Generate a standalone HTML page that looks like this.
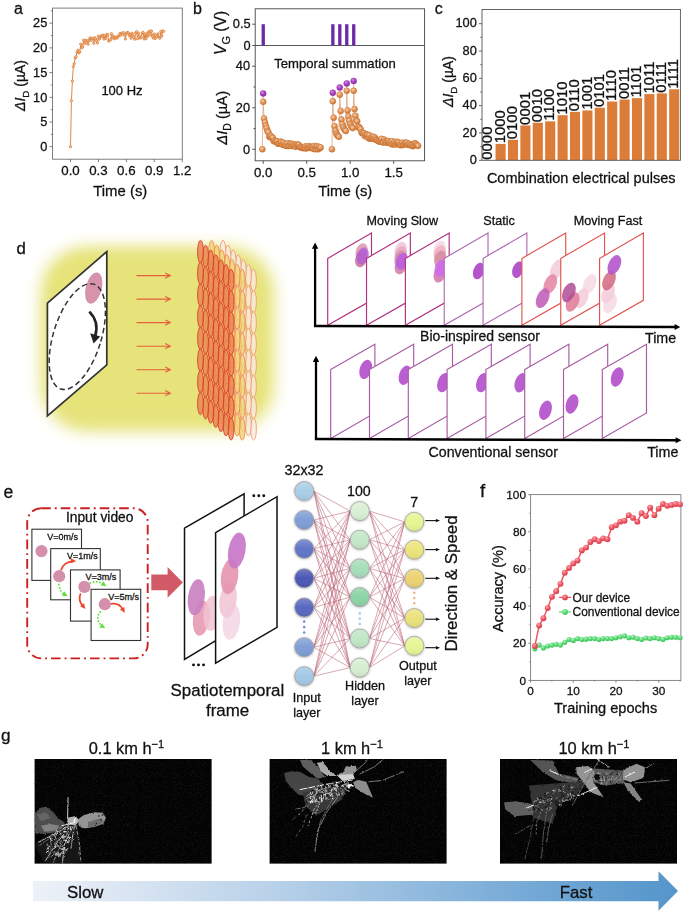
<!DOCTYPE html>
<html><head><meta charset="utf-8"><title>Figure</title>
<style>html,body{margin:0;padding:0;background:#fff;}svg{display:block;opacity:0.999;font-family:"Liberation Sans",sans-serif;}svg text{stroke:#111;stroke-width:0.28px;}</style>
</head><body>
<svg width="685" height="912" viewBox="0 0 685 912" font-family="'Liberation Sans', sans-serif">
<defs>
<radialGradient id="gOr" cx="0.38" cy="0.32" r="0.7"><stop offset="0" stop-color="#f7cfae"/><stop offset="0.5" stop-color="#e49a60"/><stop offset="1" stop-color="#cc732f"/></radialGradient>
<radialGradient id="gPu" cx="0.38" cy="0.32" r="0.7"><stop offset="0" stop-color="#d88ae6"/><stop offset="0.55" stop-color="#a83cc0"/><stop offset="1" stop-color="#8a2aa3"/></radialGradient>
<radialGradient id="gRe" cx="0.38" cy="0.32" r="0.7"><stop offset="0" stop-color="#f9a8ad"/><stop offset="0.55" stop-color="#ee5663"/><stop offset="1" stop-color="#d63c4b"/></radialGradient>
<radialGradient id="gGr" cx="0.38" cy="0.32" r="0.7"><stop offset="0" stop-color="#b4f5bf"/><stop offset="0.55" stop-color="#57d873"/><stop offset="1" stop-color="#3fc05c"/></radialGradient>
<filter id="blur8" x="-20%" y="-20%" width="140%" height="140%"><feGaussianBlur stdDeviation="8"/></filter>
<filter id="blur1" x="-20%" y="-20%" width="140%" height="140%"><feGaussianBlur stdDeviation="0.8"/></filter>
<linearGradient id="gArrow" x1="0" x2="1" y1="0" y2="0"><stop offset="0" stop-color="#eef2f8"/><stop offset="0.35" stop-color="#bcd3ea"/><stop offset="0.75" stop-color="#78abd7"/><stop offset="1" stop-color="#5495ca"/></linearGradient>
</defs>
<g id="pa"><text x="18.5" y="14" font-size="16" text-anchor="middle" fill="#111111" >a</text>
<line x1="49.5" x2="52.5" y1="146.7" y2="146.7" stroke="#707070" stroke-width="0.9"/>
<text x="47.3" y="150.9" font-size="12.8" text-anchor="end" fill="#111111" >0</text>
<line x1="49.5" x2="52.5" y1="122" y2="122" stroke="#707070" stroke-width="0.9"/>
<text x="47.3" y="126.2" font-size="12.8" text-anchor="end" fill="#111111" >5</text>
<line x1="49.5" x2="52.5" y1="97.3" y2="97.3" stroke="#707070" stroke-width="0.9"/>
<text x="47.3" y="101.5" font-size="12.8" text-anchor="end" fill="#111111" >10</text>
<line x1="49.5" x2="52.5" y1="72.6" y2="72.6" stroke="#707070" stroke-width="0.9"/>
<text x="47.3" y="76.8" font-size="12.8" text-anchor="end" fill="#111111" >15</text>
<line x1="49.5" x2="52.5" y1="47.9" y2="47.9" stroke="#707070" stroke-width="0.9"/>
<text x="47.3" y="52.1" font-size="12.8" text-anchor="end" fill="#111111" >20</text>
<line x1="49.5" x2="52.5" y1="23.2" y2="23.2" stroke="#707070" stroke-width="0.9"/>
<text x="47.3" y="27.4" font-size="12.8" text-anchor="end" fill="#111111" >25</text>
<line x1="50.8" x2="52.5" y1="134.35" y2="134.35" stroke="#707070" stroke-width="0.9"/>
<line x1="50.8" x2="52.5" y1="109.65" y2="109.65" stroke="#707070" stroke-width="0.9"/>
<line x1="50.8" x2="52.5" y1="84.95" y2="84.95" stroke="#707070" stroke-width="0.9"/>
<line x1="50.8" x2="52.5" y1="60.25" y2="60.25" stroke="#707070" stroke-width="0.9"/>
<line x1="50.8" x2="52.5" y1="35.55" y2="35.55" stroke="#707070" stroke-width="0.9"/>
<line x1="50.8" x2="52.5" y1="10.85" y2="10.85" stroke="#707070" stroke-width="0.9"/>
<line x1="70.5" x2="70.5" y1="159.2" y2="162.2" stroke="#707070" stroke-width="0.9"/>
<text x="70.5" y="175" font-size="13.3" text-anchor="middle" fill="#111111" >0.0</text>
<line x1="98.43" x2="98.43" y1="159.2" y2="162.2" stroke="#707070" stroke-width="0.9"/>
<text x="98.43" y="175" font-size="13.3" text-anchor="middle" fill="#111111" >0.3</text>
<line x1="126.36" x2="126.36" y1="159.2" y2="162.2" stroke="#707070" stroke-width="0.9"/>
<text x="126.36" y="175" font-size="13.3" text-anchor="middle" fill="#111111" >0.6</text>
<line x1="154.29" x2="154.29" y1="159.2" y2="162.2" stroke="#707070" stroke-width="0.9"/>
<text x="154.29" y="175" font-size="13.3" text-anchor="middle" fill="#111111" >0.9</text>
<line x1="182.22" x2="182.22" y1="159.2" y2="162.2" stroke="#707070" stroke-width="0.9"/>
<text x="182.22" y="175" font-size="13.3" text-anchor="middle" fill="#111111" >1.2</text>
<rect x="52.5" y="8.1" width="129.8" height="151.1" fill="none" stroke="#707070" stroke-width="0.9"/>
<text x="120.3" y="196.1" font-size="14.9" text-anchor="middle" fill="#111111" >Time (s)</text>
<text x="25.4" y="85.5" font-size="14" text-anchor="middle" fill="#111111" transform="rotate(-90 25.4 85.5)" ><tspan font-style="italic">ΔI</tspan><tspan font-size="70%" dy="3.8">D</tspan><tspan dy="-3.8"> (µA)</tspan></text>
<text x="122" y="95.3" font-size="13" text-anchor="middle" fill="#111111" >100 Hz</text>
<polyline fill="none" stroke="#dd7b34" stroke-width="0.9" points="70.5,146.7 71.43,100.76 72.36,81 73.29,66.67 74.22,63.78 75.16,58.02 76.09,56.58 77.02,52.36 77.95,50.18 78.88,52.91 79.81,51.88 80.74,44.14 81.67,47.66 82.6,46.96 83.53,40.17 84.47,43.65 85.4,40.18 86.33,42.52 87.26,40.79 88.19,44.25 89.12,40.08 90.05,37.93 90.98,40.37 91.91,38.39 92.84,38.72 93.78,43.31 94.71,37.62 95.64,38.76 96.57,40.88 97.5,42.86 98.43,36.12 99.36,39.08 100.29,37 101.22,35.61 102.15,36.78 103.08,35.03 104.02,39.07 104.95,35.75 105.88,38.46 106.81,34.48 107.74,34.83 108.67,40.9 109.6,40.51 110.53,39.77 111.46,33.77 112.39,37.86 113.33,36.27 114.26,38.76 115.19,37.05 116.12,37.92 117.05,38.12 117.98,36.19 118.91,36.13 119.84,33.52 120.77,35.21 121.7,33.18 122.64,33.69 123.57,32.56 124.5,35.02 125.43,38.97 126.36,33.39 127.29,32.51 128.22,32.92 129.15,35.51 130.08,34.31 131.01,38.22 131.95,33.26 132.88,35.25 133.81,37.47 134.74,39.17 135.67,32.87 136.6,31.74 137.53,38.82 138.46,33.14 139.39,36.18 140.32,38.18 141.26,37 142.19,33.2 143.12,32.34 144.05,38.84 144.98,34.29 145.91,38.75 146.84,33.39 147.77,36.41 148.7,32.02 149.63,31.2 150.57,34.92 151.5,30.98 152.43,36.39 153.36,38.19 154.29,34.03 155.22,38.48 156.15,37.14 157.08,35.44 158.01,33.81 158.94,37.37 159.88,38.23 160.81,31.68 161.74,36.03 162.67,30.9 163.6,31.36"/>
<circle cx="70.5" cy="146.7" r="1.15" fill="#f1c9a4" stroke="#dd7b34" stroke-width="0.8"/>
<circle cx="71.43" cy="100.76" r="1.15" fill="#f1c9a4" stroke="#dd7b34" stroke-width="0.8"/>
<circle cx="72.36" cy="81" r="1.15" fill="#f1c9a4" stroke="#dd7b34" stroke-width="0.8"/>
<circle cx="73.29" cy="66.67" r="1.15" fill="#f1c9a4" stroke="#dd7b34" stroke-width="0.8"/>
<circle cx="74.22" cy="63.78" r="1.15" fill="#f1c9a4" stroke="#dd7b34" stroke-width="0.8"/>
<circle cx="75.16" cy="58.02" r="1.15" fill="#f1c9a4" stroke="#dd7b34" stroke-width="0.8"/>
<circle cx="76.09" cy="56.58" r="1.15" fill="#f1c9a4" stroke="#dd7b34" stroke-width="0.8"/>
<circle cx="77.02" cy="52.36" r="1.15" fill="#f1c9a4" stroke="#dd7b34" stroke-width="0.8"/>
<circle cx="77.95" cy="50.18" r="1.15" fill="#f1c9a4" stroke="#dd7b34" stroke-width="0.8"/>
<circle cx="78.88" cy="52.91" r="1.15" fill="#f1c9a4" stroke="#dd7b34" stroke-width="0.8"/>
<circle cx="79.81" cy="51.88" r="1.15" fill="#f1c9a4" stroke="#dd7b34" stroke-width="0.8"/>
<circle cx="80.74" cy="44.14" r="1.15" fill="#f1c9a4" stroke="#dd7b34" stroke-width="0.8"/>
<circle cx="81.67" cy="47.66" r="1.15" fill="#f1c9a4" stroke="#dd7b34" stroke-width="0.8"/>
<circle cx="82.6" cy="46.96" r="1.15" fill="#f1c9a4" stroke="#dd7b34" stroke-width="0.8"/>
<circle cx="83.53" cy="40.17" r="1.15" fill="#f1c9a4" stroke="#dd7b34" stroke-width="0.8"/>
<circle cx="84.47" cy="43.65" r="1.15" fill="#f1c9a4" stroke="#dd7b34" stroke-width="0.8"/>
<circle cx="85.4" cy="40.18" r="1.15" fill="#f1c9a4" stroke="#dd7b34" stroke-width="0.8"/>
<circle cx="86.33" cy="42.52" r="1.15" fill="#f1c9a4" stroke="#dd7b34" stroke-width="0.8"/>
<circle cx="87.26" cy="40.79" r="1.15" fill="#f1c9a4" stroke="#dd7b34" stroke-width="0.8"/>
<circle cx="88.19" cy="44.25" r="1.15" fill="#f1c9a4" stroke="#dd7b34" stroke-width="0.8"/>
<circle cx="89.12" cy="40.08" r="1.15" fill="#f1c9a4" stroke="#dd7b34" stroke-width="0.8"/>
<circle cx="90.05" cy="37.93" r="1.15" fill="#f1c9a4" stroke="#dd7b34" stroke-width="0.8"/>
<circle cx="90.98" cy="40.37" r="1.15" fill="#f1c9a4" stroke="#dd7b34" stroke-width="0.8"/>
<circle cx="91.91" cy="38.39" r="1.15" fill="#f1c9a4" stroke="#dd7b34" stroke-width="0.8"/>
<circle cx="92.84" cy="38.72" r="1.15" fill="#f1c9a4" stroke="#dd7b34" stroke-width="0.8"/>
<circle cx="93.78" cy="43.31" r="1.15" fill="#f1c9a4" stroke="#dd7b34" stroke-width="0.8"/>
<circle cx="94.71" cy="37.62" r="1.15" fill="#f1c9a4" stroke="#dd7b34" stroke-width="0.8"/>
<circle cx="95.64" cy="38.76" r="1.15" fill="#f1c9a4" stroke="#dd7b34" stroke-width="0.8"/>
<circle cx="96.57" cy="40.88" r="1.15" fill="#f1c9a4" stroke="#dd7b34" stroke-width="0.8"/>
<circle cx="97.5" cy="42.86" r="1.15" fill="#f1c9a4" stroke="#dd7b34" stroke-width="0.8"/>
<circle cx="98.43" cy="36.12" r="1.15" fill="#f1c9a4" stroke="#dd7b34" stroke-width="0.8"/>
<circle cx="99.36" cy="39.08" r="1.15" fill="#f1c9a4" stroke="#dd7b34" stroke-width="0.8"/>
<circle cx="100.29" cy="37" r="1.15" fill="#f1c9a4" stroke="#dd7b34" stroke-width="0.8"/>
<circle cx="101.22" cy="35.61" r="1.15" fill="#f1c9a4" stroke="#dd7b34" stroke-width="0.8"/>
<circle cx="102.15" cy="36.78" r="1.15" fill="#f1c9a4" stroke="#dd7b34" stroke-width="0.8"/>
<circle cx="103.08" cy="35.03" r="1.15" fill="#f1c9a4" stroke="#dd7b34" stroke-width="0.8"/>
<circle cx="104.02" cy="39.07" r="1.15" fill="#f1c9a4" stroke="#dd7b34" stroke-width="0.8"/>
<circle cx="104.95" cy="35.75" r="1.15" fill="#f1c9a4" stroke="#dd7b34" stroke-width="0.8"/>
<circle cx="105.88" cy="38.46" r="1.15" fill="#f1c9a4" stroke="#dd7b34" stroke-width="0.8"/>
<circle cx="106.81" cy="34.48" r="1.15" fill="#f1c9a4" stroke="#dd7b34" stroke-width="0.8"/>
<circle cx="107.74" cy="34.83" r="1.15" fill="#f1c9a4" stroke="#dd7b34" stroke-width="0.8"/>
<circle cx="108.67" cy="40.9" r="1.15" fill="#f1c9a4" stroke="#dd7b34" stroke-width="0.8"/>
<circle cx="109.6" cy="40.51" r="1.15" fill="#f1c9a4" stroke="#dd7b34" stroke-width="0.8"/>
<circle cx="110.53" cy="39.77" r="1.15" fill="#f1c9a4" stroke="#dd7b34" stroke-width="0.8"/>
<circle cx="111.46" cy="33.77" r="1.15" fill="#f1c9a4" stroke="#dd7b34" stroke-width="0.8"/>
<circle cx="112.39" cy="37.86" r="1.15" fill="#f1c9a4" stroke="#dd7b34" stroke-width="0.8"/>
<circle cx="113.33" cy="36.27" r="1.15" fill="#f1c9a4" stroke="#dd7b34" stroke-width="0.8"/>
<circle cx="114.26" cy="38.76" r="1.15" fill="#f1c9a4" stroke="#dd7b34" stroke-width="0.8"/>
<circle cx="115.19" cy="37.05" r="1.15" fill="#f1c9a4" stroke="#dd7b34" stroke-width="0.8"/>
<circle cx="116.12" cy="37.92" r="1.15" fill="#f1c9a4" stroke="#dd7b34" stroke-width="0.8"/>
<circle cx="117.05" cy="38.12" r="1.15" fill="#f1c9a4" stroke="#dd7b34" stroke-width="0.8"/>
<circle cx="117.98" cy="36.19" r="1.15" fill="#f1c9a4" stroke="#dd7b34" stroke-width="0.8"/>
<circle cx="118.91" cy="36.13" r="1.15" fill="#f1c9a4" stroke="#dd7b34" stroke-width="0.8"/>
<circle cx="119.84" cy="33.52" r="1.15" fill="#f1c9a4" stroke="#dd7b34" stroke-width="0.8"/>
<circle cx="120.77" cy="35.21" r="1.15" fill="#f1c9a4" stroke="#dd7b34" stroke-width="0.8"/>
<circle cx="121.7" cy="33.18" r="1.15" fill="#f1c9a4" stroke="#dd7b34" stroke-width="0.8"/>
<circle cx="122.64" cy="33.69" r="1.15" fill="#f1c9a4" stroke="#dd7b34" stroke-width="0.8"/>
<circle cx="123.57" cy="32.56" r="1.15" fill="#f1c9a4" stroke="#dd7b34" stroke-width="0.8"/>
<circle cx="124.5" cy="35.02" r="1.15" fill="#f1c9a4" stroke="#dd7b34" stroke-width="0.8"/>
<circle cx="125.43" cy="38.97" r="1.15" fill="#f1c9a4" stroke="#dd7b34" stroke-width="0.8"/>
<circle cx="126.36" cy="33.39" r="1.15" fill="#f1c9a4" stroke="#dd7b34" stroke-width="0.8"/>
<circle cx="127.29" cy="32.51" r="1.15" fill="#f1c9a4" stroke="#dd7b34" stroke-width="0.8"/>
<circle cx="128.22" cy="32.92" r="1.15" fill="#f1c9a4" stroke="#dd7b34" stroke-width="0.8"/>
<circle cx="129.15" cy="35.51" r="1.15" fill="#f1c9a4" stroke="#dd7b34" stroke-width="0.8"/>
<circle cx="130.08" cy="34.31" r="1.15" fill="#f1c9a4" stroke="#dd7b34" stroke-width="0.8"/>
<circle cx="131.01" cy="38.22" r="1.15" fill="#f1c9a4" stroke="#dd7b34" stroke-width="0.8"/>
<circle cx="131.95" cy="33.26" r="1.15" fill="#f1c9a4" stroke="#dd7b34" stroke-width="0.8"/>
<circle cx="132.88" cy="35.25" r="1.15" fill="#f1c9a4" stroke="#dd7b34" stroke-width="0.8"/>
<circle cx="133.81" cy="37.47" r="1.15" fill="#f1c9a4" stroke="#dd7b34" stroke-width="0.8"/>
<circle cx="134.74" cy="39.17" r="1.15" fill="#f1c9a4" stroke="#dd7b34" stroke-width="0.8"/>
<circle cx="135.67" cy="32.87" r="1.15" fill="#f1c9a4" stroke="#dd7b34" stroke-width="0.8"/>
<circle cx="136.6" cy="31.74" r="1.15" fill="#f1c9a4" stroke="#dd7b34" stroke-width="0.8"/>
<circle cx="137.53" cy="38.82" r="1.15" fill="#f1c9a4" stroke="#dd7b34" stroke-width="0.8"/>
<circle cx="138.46" cy="33.14" r="1.15" fill="#f1c9a4" stroke="#dd7b34" stroke-width="0.8"/>
<circle cx="139.39" cy="36.18" r="1.15" fill="#f1c9a4" stroke="#dd7b34" stroke-width="0.8"/>
<circle cx="140.32" cy="38.18" r="1.15" fill="#f1c9a4" stroke="#dd7b34" stroke-width="0.8"/>
<circle cx="141.26" cy="37" r="1.15" fill="#f1c9a4" stroke="#dd7b34" stroke-width="0.8"/>
<circle cx="142.19" cy="33.2" r="1.15" fill="#f1c9a4" stroke="#dd7b34" stroke-width="0.8"/>
<circle cx="143.12" cy="32.34" r="1.15" fill="#f1c9a4" stroke="#dd7b34" stroke-width="0.8"/>
<circle cx="144.05" cy="38.84" r="1.15" fill="#f1c9a4" stroke="#dd7b34" stroke-width="0.8"/>
<circle cx="144.98" cy="34.29" r="1.15" fill="#f1c9a4" stroke="#dd7b34" stroke-width="0.8"/>
<circle cx="145.91" cy="38.75" r="1.15" fill="#f1c9a4" stroke="#dd7b34" stroke-width="0.8"/>
<circle cx="146.84" cy="33.39" r="1.15" fill="#f1c9a4" stroke="#dd7b34" stroke-width="0.8"/>
<circle cx="147.77" cy="36.41" r="1.15" fill="#f1c9a4" stroke="#dd7b34" stroke-width="0.8"/>
<circle cx="148.7" cy="32.02" r="1.15" fill="#f1c9a4" stroke="#dd7b34" stroke-width="0.8"/>
<circle cx="149.63" cy="31.2" r="1.15" fill="#f1c9a4" stroke="#dd7b34" stroke-width="0.8"/>
<circle cx="150.57" cy="34.92" r="1.15" fill="#f1c9a4" stroke="#dd7b34" stroke-width="0.8"/>
<circle cx="151.5" cy="30.98" r="1.15" fill="#f1c9a4" stroke="#dd7b34" stroke-width="0.8"/>
<circle cx="152.43" cy="36.39" r="1.15" fill="#f1c9a4" stroke="#dd7b34" stroke-width="0.8"/>
<circle cx="153.36" cy="38.19" r="1.15" fill="#f1c9a4" stroke="#dd7b34" stroke-width="0.8"/>
<circle cx="154.29" cy="34.03" r="1.15" fill="#f1c9a4" stroke="#dd7b34" stroke-width="0.8"/>
<circle cx="155.22" cy="38.48" r="1.15" fill="#f1c9a4" stroke="#dd7b34" stroke-width="0.8"/>
<circle cx="156.15" cy="37.14" r="1.15" fill="#f1c9a4" stroke="#dd7b34" stroke-width="0.8"/>
<circle cx="157.08" cy="35.44" r="1.15" fill="#f1c9a4" stroke="#dd7b34" stroke-width="0.8"/>
<circle cx="158.01" cy="33.81" r="1.15" fill="#f1c9a4" stroke="#dd7b34" stroke-width="0.8"/>
<circle cx="158.94" cy="37.37" r="1.15" fill="#f1c9a4" stroke="#dd7b34" stroke-width="0.8"/>
<circle cx="159.88" cy="38.23" r="1.15" fill="#f1c9a4" stroke="#dd7b34" stroke-width="0.8"/>
<circle cx="160.81" cy="31.68" r="1.15" fill="#f1c9a4" stroke="#dd7b34" stroke-width="0.8"/>
<circle cx="161.74" cy="36.03" r="1.15" fill="#f1c9a4" stroke="#dd7b34" stroke-width="0.8"/>
<circle cx="162.67" cy="30.9" r="1.15" fill="#f1c9a4" stroke="#dd7b34" stroke-width="0.8"/>
<circle cx="163.6" cy="31.36" r="1.15" fill="#f1c9a4" stroke="#dd7b34" stroke-width="0.8"/></g>
<g id="pb"><text x="197.5" y="14" font-size="16" text-anchor="middle" fill="#111111" >b</text>
<rect x="255.2" y="8.8" width="169.4" height="152" fill="none" stroke="#444444" stroke-width="0.9"/>
<line x1="255.2" x2="424.6" y1="45.5" y2="45.5" stroke="#444444" stroke-width="0.9"/>
<line x1="252.2" x2="255.2" y1="24.2" y2="24.2" stroke="#444444" stroke-width="0.9"/>
<text x="250.6" y="28.4" font-size="12.8" text-anchor="end" fill="#111111" >0.5</text>
<line x1="252.2" x2="255.2" y1="45.5" y2="45.5" stroke="#444444" stroke-width="0.9"/>
<text x="250.6" y="49.7" font-size="12.8" text-anchor="end" fill="#111111" >0</text>
<line x1="252.2" x2="255.2" y1="149.3" y2="149.3" stroke="#444444" stroke-width="0.9"/>
<text x="250" y="153.5" font-size="12.8" text-anchor="end" fill="#111111" >0</text>
<line x1="252.2" x2="255.2" y1="107.76" y2="107.76" stroke="#444444" stroke-width="0.9"/>
<text x="250" y="111.96" font-size="12.8" text-anchor="end" fill="#111111" >20</text>
<line x1="252.2" x2="255.2" y1="66.22" y2="66.22" stroke="#444444" stroke-width="0.9"/>
<text x="250" y="70.42" font-size="12.8" text-anchor="end" fill="#111111" >40</text>
<line x1="253.5" x2="255.2" y1="128.53" y2="128.53" stroke="#444444" stroke-width="0.9"/>
<line x1="253.5" x2="255.2" y1="86.99" y2="86.99" stroke="#444444" stroke-width="0.9"/>
<line x1="263.2" x2="263.2" y1="160.8" y2="163.8" stroke="#444444" stroke-width="0.9"/>
<text x="263.2" y="176.6" font-size="13.3" text-anchor="middle" fill="#111111" >0.0</text>
<line x1="306.7" x2="306.7" y1="160.8" y2="163.8" stroke="#444444" stroke-width="0.9"/>
<text x="306.7" y="176.6" font-size="13.3" text-anchor="middle" fill="#111111" >0.5</text>
<line x1="350.2" x2="350.2" y1="160.8" y2="163.8" stroke="#444444" stroke-width="0.9"/>
<text x="350.2" y="176.6" font-size="13.3" text-anchor="middle" fill="#111111" >1.0</text>
<line x1="393.7" x2="393.7" y1="160.8" y2="163.8" stroke="#444444" stroke-width="0.9"/>
<text x="393.7" y="176.6" font-size="13.3" text-anchor="middle" fill="#111111" >1.5</text>
<text x="345.3" y="195.8" font-size="14.9" text-anchor="middle" fill="#111111" >Time (s)</text>
<text x="226.5" y="32.9" font-size="15.6" text-anchor="middle" fill="#111111" transform="rotate(-90 226.5 32.9)" ><tspan font-style="italic">V</tspan><tspan font-size="70%" dy="3.8">G</tspan><tspan dy="-3.8"> (V)</tspan></text>
<text x="227.2" y="117.8" font-size="14.8" text-anchor="middle" fill="#111111" transform="rotate(-90 227.2 117.8)" ><tspan font-style="italic">ΔI</tspan><tspan font-size="70%" dy="3.8">D</tspan><tspan dy="-3.8"> (µA)</tspan></text>
<text x="335" y="68.4" font-size="13.1" text-anchor="middle" fill="#111111" >Temporal summation</text>
<rect x="261.6" y="24.2" width="3.3" height="21.3" fill="#6d2aa8"/>
<rect x="331.2" y="24.2" width="3.3" height="21.3" fill="#6d2aa8"/>
<rect x="338.16" y="24.2" width="3.3" height="21.3" fill="#6d2aa8"/>
<rect x="345.12" y="24.2" width="3.3" height="21.3" fill="#6d2aa8"/>
<rect x="352.08" y="24.2" width="3.3" height="21.3" fill="#6d2aa8"/>
<polyline fill="none" stroke="#e0a57c" stroke-width="0.8" points="262.33,149.3 263.2,101.74 264.07,118.5 264.94,122.51 265.81,125.85 266.68,128.18 267.55,131.13 268.42,132.37 269.29,136.85 270.16,136.65 271.03,136.1 271.9,137.95 272.77,137.86 273.64,141.11 274.51,140.48 275.38,141.71 276.25,141.15 277.12,141.44 277.99,143.66 278.86,143.3 279.73,143.38 280.6,141.54 281.47,142.29 282.34,144.55 283.21,142.65 284.08,145.05 284.95,143.66 285.82,145.48 286.69,146.07 287.56,143.36 288.43,145.72 289.3,145.86 290.17,143.46 291.04,143.97 291.91,146.04 292.78,143.94 293.65,145.47 294.52,145.13 295.39,146.82 296.26,144.48 297.13,145.42 298,144.61 298.87,144.95 299.74,147.02 300.61,146.91 301.48,147.64 302.35,147.79 303.22,148.14 304.09,147.44 304.96,146.51 305.83,148.57 306.7,146.4 307.57,147.6 308.44,147.75 309.31,146.12 310.18,147.3 311.05,147.91 311.92,147.41 312.79,146.72 313.66,148.92 314.53,145.92 315.4,149.13 316.27,146.76 317.14,146.49 318.01,149.28 318.88,146.76 319.75,148.2 320.62,147.53"/>
<polyline fill="none" stroke="#e0a57c" stroke-width="0.8" points="331.93,149.3 332.8,101.32 333.67,117.73 334.54,126.25 335.41,130.81 336.28,133.51 337.15,134.97 338.02,136.01 338.89,136.84 339.76,94.67 340.63,110.88 341.5,119.6 342.37,124.38 343.24,127.28 344.11,128.95 344.98,130.19 345.85,131.02 346.72,90.73 347.59,110.46 348.46,116.48 349.33,120.85 350.2,123.96 351.07,125.83 351.94,127.28 352.81,128.11 353.68,90.73 354.55,109.12 355.42,115.8 356.29,120.35 357.16,121.36 358.03,126.85 358.9,127.02 359.77,128.07 360.64,129.33 361.51,132.5 362.38,133.34 363.25,133.47 364.12,133.21 364.99,136.13 365.86,134.36 366.73,134.64 367.6,134.84 368.47,138.13 369.34,135.29 370.21,138.65 371.08,138.1 371.95,137.46 372.82,136.67 373.69,139 374.56,137.22 375.43,138.82 376.3,139.9 377.17,140.14 378.04,140.87 378.91,141.45 379.78,141.43 380.65,139.74 381.52,138.86 382.39,142.01 383.26,142.61 384.13,139.49 385,141.27 385.87,141.9 386.74,142.67 387.61,141.57 388.48,140.91 389.35,142.38 390.22,142.65 391.09,144.09 391.96,141.19 392.83,144.44 393.7,142.95 394.57,141.86 395.44,144.48 396.31,142.48 397.18,141.82 398.05,143.06 398.92,142.61 399.79,145.12 400.66,144.07 401.53,145.17 402.4,142.81 403.27,144.84 404.14,144.37 405.01,142.53 405.88,143.13 406.75,142.77 407.62,144.69 408.49,144.65 409.36,143.87 410.23,144.82 411.1,145.55 411.97,145.22 412.84,146.19 413.71,145.44 414.58,143.34 415.45,143.5 416.32,144.73 417.19,145.23 418.06,145.85"/>
<line x1="263.2" x2="263.2" y1="101.74" y2="93.43" stroke="#e0a57c" stroke-width="0.8"/>
<line x1="332.8" x2="332.8" y1="101.32" y2="92.81" stroke="#e0a57c" stroke-width="0.8"/>
<line x1="339.76" x2="339.76" y1="94.67" y2="87.61" stroke="#e0a57c" stroke-width="0.8"/>
<line x1="346.72" x2="346.72" y1="90.73" y2="83.46" stroke="#e0a57c" stroke-width="0.8"/>
<line x1="353.68" x2="353.68" y1="90.73" y2="80.97" stroke="#e0a57c" stroke-width="0.8"/>
<circle cx="262.33" cy="149.3" r="3" fill="url(#gOr)" stroke="#c46c2c" stroke-width="0.5"/>
<circle cx="263.2" cy="101.74" r="3" fill="url(#gOr)" stroke="#c46c2c" stroke-width="0.5"/>
<circle cx="264.07" cy="118.5" r="3" fill="url(#gOr)" stroke="#c46c2c" stroke-width="0.5"/>
<circle cx="264.94" cy="122.51" r="3" fill="url(#gOr)" stroke="#c46c2c" stroke-width="0.5"/>
<circle cx="265.81" cy="125.85" r="3" fill="url(#gOr)" stroke="#c46c2c" stroke-width="0.5"/>
<circle cx="266.68" cy="128.18" r="3" fill="url(#gOr)" stroke="#c46c2c" stroke-width="0.5"/>
<circle cx="267.55" cy="131.13" r="3" fill="url(#gOr)" stroke="#c46c2c" stroke-width="0.5"/>
<circle cx="268.42" cy="132.37" r="3" fill="url(#gOr)" stroke="#c46c2c" stroke-width="0.5"/>
<circle cx="269.29" cy="136.85" r="3" fill="url(#gOr)" stroke="#c46c2c" stroke-width="0.5"/>
<circle cx="270.16" cy="136.65" r="3" fill="url(#gOr)" stroke="#c46c2c" stroke-width="0.5"/>
<circle cx="271.03" cy="136.1" r="3" fill="url(#gOr)" stroke="#c46c2c" stroke-width="0.5"/>
<circle cx="271.9" cy="137.95" r="3" fill="url(#gOr)" stroke="#c46c2c" stroke-width="0.5"/>
<circle cx="272.77" cy="137.86" r="3" fill="url(#gOr)" stroke="#c46c2c" stroke-width="0.5"/>
<circle cx="273.64" cy="141.11" r="3" fill="url(#gOr)" stroke="#c46c2c" stroke-width="0.5"/>
<circle cx="274.51" cy="140.48" r="3" fill="url(#gOr)" stroke="#c46c2c" stroke-width="0.5"/>
<circle cx="275.38" cy="141.71" r="3" fill="url(#gOr)" stroke="#c46c2c" stroke-width="0.5"/>
<circle cx="276.25" cy="141.15" r="3" fill="url(#gOr)" stroke="#c46c2c" stroke-width="0.5"/>
<circle cx="277.12" cy="141.44" r="3" fill="url(#gOr)" stroke="#c46c2c" stroke-width="0.5"/>
<circle cx="277.99" cy="143.66" r="3" fill="url(#gOr)" stroke="#c46c2c" stroke-width="0.5"/>
<circle cx="278.86" cy="143.3" r="3" fill="url(#gOr)" stroke="#c46c2c" stroke-width="0.5"/>
<circle cx="279.73" cy="143.38" r="3" fill="url(#gOr)" stroke="#c46c2c" stroke-width="0.5"/>
<circle cx="280.6" cy="141.54" r="3" fill="url(#gOr)" stroke="#c46c2c" stroke-width="0.5"/>
<circle cx="281.47" cy="142.29" r="3" fill="url(#gOr)" stroke="#c46c2c" stroke-width="0.5"/>
<circle cx="282.34" cy="144.55" r="3" fill="url(#gOr)" stroke="#c46c2c" stroke-width="0.5"/>
<circle cx="283.21" cy="142.65" r="3" fill="url(#gOr)" stroke="#c46c2c" stroke-width="0.5"/>
<circle cx="284.08" cy="145.05" r="3" fill="url(#gOr)" stroke="#c46c2c" stroke-width="0.5"/>
<circle cx="284.95" cy="143.66" r="3" fill="url(#gOr)" stroke="#c46c2c" stroke-width="0.5"/>
<circle cx="285.82" cy="145.48" r="3" fill="url(#gOr)" stroke="#c46c2c" stroke-width="0.5"/>
<circle cx="286.69" cy="146.07" r="3" fill="url(#gOr)" stroke="#c46c2c" stroke-width="0.5"/>
<circle cx="287.56" cy="143.36" r="3" fill="url(#gOr)" stroke="#c46c2c" stroke-width="0.5"/>
<circle cx="288.43" cy="145.72" r="3" fill="url(#gOr)" stroke="#c46c2c" stroke-width="0.5"/>
<circle cx="289.3" cy="145.86" r="3" fill="url(#gOr)" stroke="#c46c2c" stroke-width="0.5"/>
<circle cx="290.17" cy="143.46" r="3" fill="url(#gOr)" stroke="#c46c2c" stroke-width="0.5"/>
<circle cx="291.04" cy="143.97" r="3" fill="url(#gOr)" stroke="#c46c2c" stroke-width="0.5"/>
<circle cx="291.91" cy="146.04" r="3" fill="url(#gOr)" stroke="#c46c2c" stroke-width="0.5"/>
<circle cx="292.78" cy="143.94" r="3" fill="url(#gOr)" stroke="#c46c2c" stroke-width="0.5"/>
<circle cx="293.65" cy="145.47" r="3" fill="url(#gOr)" stroke="#c46c2c" stroke-width="0.5"/>
<circle cx="294.52" cy="145.13" r="3" fill="url(#gOr)" stroke="#c46c2c" stroke-width="0.5"/>
<circle cx="295.39" cy="146.82" r="3" fill="url(#gOr)" stroke="#c46c2c" stroke-width="0.5"/>
<circle cx="296.26" cy="144.48" r="3" fill="url(#gOr)" stroke="#c46c2c" stroke-width="0.5"/>
<circle cx="297.13" cy="145.42" r="3" fill="url(#gOr)" stroke="#c46c2c" stroke-width="0.5"/>
<circle cx="298" cy="144.61" r="3" fill="url(#gOr)" stroke="#c46c2c" stroke-width="0.5"/>
<circle cx="298.87" cy="144.95" r="3" fill="url(#gOr)" stroke="#c46c2c" stroke-width="0.5"/>
<circle cx="299.74" cy="147.02" r="3" fill="url(#gOr)" stroke="#c46c2c" stroke-width="0.5"/>
<circle cx="300.61" cy="146.91" r="3" fill="url(#gOr)" stroke="#c46c2c" stroke-width="0.5"/>
<circle cx="301.48" cy="147.64" r="3" fill="url(#gOr)" stroke="#c46c2c" stroke-width="0.5"/>
<circle cx="302.35" cy="147.79" r="3" fill="url(#gOr)" stroke="#c46c2c" stroke-width="0.5"/>
<circle cx="303.22" cy="148.14" r="3" fill="url(#gOr)" stroke="#c46c2c" stroke-width="0.5"/>
<circle cx="304.09" cy="147.44" r="3" fill="url(#gOr)" stroke="#c46c2c" stroke-width="0.5"/>
<circle cx="304.96" cy="146.51" r="3" fill="url(#gOr)" stroke="#c46c2c" stroke-width="0.5"/>
<circle cx="305.83" cy="148.57" r="3" fill="url(#gOr)" stroke="#c46c2c" stroke-width="0.5"/>
<circle cx="306.7" cy="146.4" r="3" fill="url(#gOr)" stroke="#c46c2c" stroke-width="0.5"/>
<circle cx="307.57" cy="147.6" r="3" fill="url(#gOr)" stroke="#c46c2c" stroke-width="0.5"/>
<circle cx="308.44" cy="147.75" r="3" fill="url(#gOr)" stroke="#c46c2c" stroke-width="0.5"/>
<circle cx="309.31" cy="146.12" r="3" fill="url(#gOr)" stroke="#c46c2c" stroke-width="0.5"/>
<circle cx="310.18" cy="147.3" r="3" fill="url(#gOr)" stroke="#c46c2c" stroke-width="0.5"/>
<circle cx="311.05" cy="147.91" r="3" fill="url(#gOr)" stroke="#c46c2c" stroke-width="0.5"/>
<circle cx="311.92" cy="147.41" r="3" fill="url(#gOr)" stroke="#c46c2c" stroke-width="0.5"/>
<circle cx="312.79" cy="146.72" r="3" fill="url(#gOr)" stroke="#c46c2c" stroke-width="0.5"/>
<circle cx="313.66" cy="148.92" r="3" fill="url(#gOr)" stroke="#c46c2c" stroke-width="0.5"/>
<circle cx="314.53" cy="145.92" r="3" fill="url(#gOr)" stroke="#c46c2c" stroke-width="0.5"/>
<circle cx="315.4" cy="149.13" r="3" fill="url(#gOr)" stroke="#c46c2c" stroke-width="0.5"/>
<circle cx="316.27" cy="146.76" r="3" fill="url(#gOr)" stroke="#c46c2c" stroke-width="0.5"/>
<circle cx="317.14" cy="146.49" r="3" fill="url(#gOr)" stroke="#c46c2c" stroke-width="0.5"/>
<circle cx="318.01" cy="149.28" r="3" fill="url(#gOr)" stroke="#c46c2c" stroke-width="0.5"/>
<circle cx="318.88" cy="146.76" r="3" fill="url(#gOr)" stroke="#c46c2c" stroke-width="0.5"/>
<circle cx="319.75" cy="148.2" r="3" fill="url(#gOr)" stroke="#c46c2c" stroke-width="0.5"/>
<circle cx="320.62" cy="147.53" r="3" fill="url(#gOr)" stroke="#c46c2c" stroke-width="0.5"/>
<circle cx="331.93" cy="149.3" r="3" fill="url(#gOr)" stroke="#c46c2c" stroke-width="0.5"/>
<circle cx="332.8" cy="101.32" r="3" fill="url(#gOr)" stroke="#c46c2c" stroke-width="0.5"/>
<circle cx="333.67" cy="117.73" r="3" fill="url(#gOr)" stroke="#c46c2c" stroke-width="0.5"/>
<circle cx="334.54" cy="126.25" r="3" fill="url(#gOr)" stroke="#c46c2c" stroke-width="0.5"/>
<circle cx="335.41" cy="130.81" r="3" fill="url(#gOr)" stroke="#c46c2c" stroke-width="0.5"/>
<circle cx="336.28" cy="133.51" r="3" fill="url(#gOr)" stroke="#c46c2c" stroke-width="0.5"/>
<circle cx="337.15" cy="134.97" r="3" fill="url(#gOr)" stroke="#c46c2c" stroke-width="0.5"/>
<circle cx="338.02" cy="136.01" r="3" fill="url(#gOr)" stroke="#c46c2c" stroke-width="0.5"/>
<circle cx="338.89" cy="136.84" r="3" fill="url(#gOr)" stroke="#c46c2c" stroke-width="0.5"/>
<circle cx="339.76" cy="94.67" r="3" fill="url(#gOr)" stroke="#c46c2c" stroke-width="0.5"/>
<circle cx="340.63" cy="110.88" r="3" fill="url(#gOr)" stroke="#c46c2c" stroke-width="0.5"/>
<circle cx="341.5" cy="119.6" r="3" fill="url(#gOr)" stroke="#c46c2c" stroke-width="0.5"/>
<circle cx="342.37" cy="124.38" r="3" fill="url(#gOr)" stroke="#c46c2c" stroke-width="0.5"/>
<circle cx="343.24" cy="127.28" r="3" fill="url(#gOr)" stroke="#c46c2c" stroke-width="0.5"/>
<circle cx="344.11" cy="128.95" r="3" fill="url(#gOr)" stroke="#c46c2c" stroke-width="0.5"/>
<circle cx="344.98" cy="130.19" r="3" fill="url(#gOr)" stroke="#c46c2c" stroke-width="0.5"/>
<circle cx="345.85" cy="131.02" r="3" fill="url(#gOr)" stroke="#c46c2c" stroke-width="0.5"/>
<circle cx="346.72" cy="90.73" r="3" fill="url(#gOr)" stroke="#c46c2c" stroke-width="0.5"/>
<circle cx="347.59" cy="110.46" r="3" fill="url(#gOr)" stroke="#c46c2c" stroke-width="0.5"/>
<circle cx="348.46" cy="116.48" r="3" fill="url(#gOr)" stroke="#c46c2c" stroke-width="0.5"/>
<circle cx="349.33" cy="120.85" r="3" fill="url(#gOr)" stroke="#c46c2c" stroke-width="0.5"/>
<circle cx="350.2" cy="123.96" r="3" fill="url(#gOr)" stroke="#c46c2c" stroke-width="0.5"/>
<circle cx="351.07" cy="125.83" r="3" fill="url(#gOr)" stroke="#c46c2c" stroke-width="0.5"/>
<circle cx="351.94" cy="127.28" r="3" fill="url(#gOr)" stroke="#c46c2c" stroke-width="0.5"/>
<circle cx="352.81" cy="128.11" r="3" fill="url(#gOr)" stroke="#c46c2c" stroke-width="0.5"/>
<circle cx="353.68" cy="90.73" r="3" fill="url(#gOr)" stroke="#c46c2c" stroke-width="0.5"/>
<circle cx="354.55" cy="109.12" r="3" fill="url(#gOr)" stroke="#c46c2c" stroke-width="0.5"/>
<circle cx="355.42" cy="115.8" r="3" fill="url(#gOr)" stroke="#c46c2c" stroke-width="0.5"/>
<circle cx="356.29" cy="120.35" r="3" fill="url(#gOr)" stroke="#c46c2c" stroke-width="0.5"/>
<circle cx="357.16" cy="121.36" r="3" fill="url(#gOr)" stroke="#c46c2c" stroke-width="0.5"/>
<circle cx="358.03" cy="126.85" r="3" fill="url(#gOr)" stroke="#c46c2c" stroke-width="0.5"/>
<circle cx="358.9" cy="127.02" r="3" fill="url(#gOr)" stroke="#c46c2c" stroke-width="0.5"/>
<circle cx="359.77" cy="128.07" r="3" fill="url(#gOr)" stroke="#c46c2c" stroke-width="0.5"/>
<circle cx="360.64" cy="129.33" r="3" fill="url(#gOr)" stroke="#c46c2c" stroke-width="0.5"/>
<circle cx="361.51" cy="132.5" r="3" fill="url(#gOr)" stroke="#c46c2c" stroke-width="0.5"/>
<circle cx="362.38" cy="133.34" r="3" fill="url(#gOr)" stroke="#c46c2c" stroke-width="0.5"/>
<circle cx="363.25" cy="133.47" r="3" fill="url(#gOr)" stroke="#c46c2c" stroke-width="0.5"/>
<circle cx="364.12" cy="133.21" r="3" fill="url(#gOr)" stroke="#c46c2c" stroke-width="0.5"/>
<circle cx="364.99" cy="136.13" r="3" fill="url(#gOr)" stroke="#c46c2c" stroke-width="0.5"/>
<circle cx="365.86" cy="134.36" r="3" fill="url(#gOr)" stroke="#c46c2c" stroke-width="0.5"/>
<circle cx="366.73" cy="134.64" r="3" fill="url(#gOr)" stroke="#c46c2c" stroke-width="0.5"/>
<circle cx="367.6" cy="134.84" r="3" fill="url(#gOr)" stroke="#c46c2c" stroke-width="0.5"/>
<circle cx="368.47" cy="138.13" r="3" fill="url(#gOr)" stroke="#c46c2c" stroke-width="0.5"/>
<circle cx="369.34" cy="135.29" r="3" fill="url(#gOr)" stroke="#c46c2c" stroke-width="0.5"/>
<circle cx="370.21" cy="138.65" r="3" fill="url(#gOr)" stroke="#c46c2c" stroke-width="0.5"/>
<circle cx="371.08" cy="138.1" r="3" fill="url(#gOr)" stroke="#c46c2c" stroke-width="0.5"/>
<circle cx="371.95" cy="137.46" r="3" fill="url(#gOr)" stroke="#c46c2c" stroke-width="0.5"/>
<circle cx="372.82" cy="136.67" r="3" fill="url(#gOr)" stroke="#c46c2c" stroke-width="0.5"/>
<circle cx="373.69" cy="139" r="3" fill="url(#gOr)" stroke="#c46c2c" stroke-width="0.5"/>
<circle cx="374.56" cy="137.22" r="3" fill="url(#gOr)" stroke="#c46c2c" stroke-width="0.5"/>
<circle cx="375.43" cy="138.82" r="3" fill="url(#gOr)" stroke="#c46c2c" stroke-width="0.5"/>
<circle cx="376.3" cy="139.9" r="3" fill="url(#gOr)" stroke="#c46c2c" stroke-width="0.5"/>
<circle cx="377.17" cy="140.14" r="3" fill="url(#gOr)" stroke="#c46c2c" stroke-width="0.5"/>
<circle cx="378.04" cy="140.87" r="3" fill="url(#gOr)" stroke="#c46c2c" stroke-width="0.5"/>
<circle cx="378.91" cy="141.45" r="3" fill="url(#gOr)" stroke="#c46c2c" stroke-width="0.5"/>
<circle cx="379.78" cy="141.43" r="3" fill="url(#gOr)" stroke="#c46c2c" stroke-width="0.5"/>
<circle cx="380.65" cy="139.74" r="3" fill="url(#gOr)" stroke="#c46c2c" stroke-width="0.5"/>
<circle cx="381.52" cy="138.86" r="3" fill="url(#gOr)" stroke="#c46c2c" stroke-width="0.5"/>
<circle cx="382.39" cy="142.01" r="3" fill="url(#gOr)" stroke="#c46c2c" stroke-width="0.5"/>
<circle cx="383.26" cy="142.61" r="3" fill="url(#gOr)" stroke="#c46c2c" stroke-width="0.5"/>
<circle cx="384.13" cy="139.49" r="3" fill="url(#gOr)" stroke="#c46c2c" stroke-width="0.5"/>
<circle cx="385" cy="141.27" r="3" fill="url(#gOr)" stroke="#c46c2c" stroke-width="0.5"/>
<circle cx="385.87" cy="141.9" r="3" fill="url(#gOr)" stroke="#c46c2c" stroke-width="0.5"/>
<circle cx="386.74" cy="142.67" r="3" fill="url(#gOr)" stroke="#c46c2c" stroke-width="0.5"/>
<circle cx="387.61" cy="141.57" r="3" fill="url(#gOr)" stroke="#c46c2c" stroke-width="0.5"/>
<circle cx="388.48" cy="140.91" r="3" fill="url(#gOr)" stroke="#c46c2c" stroke-width="0.5"/>
<circle cx="389.35" cy="142.38" r="3" fill="url(#gOr)" stroke="#c46c2c" stroke-width="0.5"/>
<circle cx="390.22" cy="142.65" r="3" fill="url(#gOr)" stroke="#c46c2c" stroke-width="0.5"/>
<circle cx="391.09" cy="144.09" r="3" fill="url(#gOr)" stroke="#c46c2c" stroke-width="0.5"/>
<circle cx="391.96" cy="141.19" r="3" fill="url(#gOr)" stroke="#c46c2c" stroke-width="0.5"/>
<circle cx="392.83" cy="144.44" r="3" fill="url(#gOr)" stroke="#c46c2c" stroke-width="0.5"/>
<circle cx="393.7" cy="142.95" r="3" fill="url(#gOr)" stroke="#c46c2c" stroke-width="0.5"/>
<circle cx="394.57" cy="141.86" r="3" fill="url(#gOr)" stroke="#c46c2c" stroke-width="0.5"/>
<circle cx="395.44" cy="144.48" r="3" fill="url(#gOr)" stroke="#c46c2c" stroke-width="0.5"/>
<circle cx="396.31" cy="142.48" r="3" fill="url(#gOr)" stroke="#c46c2c" stroke-width="0.5"/>
<circle cx="397.18" cy="141.82" r="3" fill="url(#gOr)" stroke="#c46c2c" stroke-width="0.5"/>
<circle cx="398.05" cy="143.06" r="3" fill="url(#gOr)" stroke="#c46c2c" stroke-width="0.5"/>
<circle cx="398.92" cy="142.61" r="3" fill="url(#gOr)" stroke="#c46c2c" stroke-width="0.5"/>
<circle cx="399.79" cy="145.12" r="3" fill="url(#gOr)" stroke="#c46c2c" stroke-width="0.5"/>
<circle cx="400.66" cy="144.07" r="3" fill="url(#gOr)" stroke="#c46c2c" stroke-width="0.5"/>
<circle cx="401.53" cy="145.17" r="3" fill="url(#gOr)" stroke="#c46c2c" stroke-width="0.5"/>
<circle cx="402.4" cy="142.81" r="3" fill="url(#gOr)" stroke="#c46c2c" stroke-width="0.5"/>
<circle cx="403.27" cy="144.84" r="3" fill="url(#gOr)" stroke="#c46c2c" stroke-width="0.5"/>
<circle cx="404.14" cy="144.37" r="3" fill="url(#gOr)" stroke="#c46c2c" stroke-width="0.5"/>
<circle cx="405.01" cy="142.53" r="3" fill="url(#gOr)" stroke="#c46c2c" stroke-width="0.5"/>
<circle cx="405.88" cy="143.13" r="3" fill="url(#gOr)" stroke="#c46c2c" stroke-width="0.5"/>
<circle cx="406.75" cy="142.77" r="3" fill="url(#gOr)" stroke="#c46c2c" stroke-width="0.5"/>
<circle cx="407.62" cy="144.69" r="3" fill="url(#gOr)" stroke="#c46c2c" stroke-width="0.5"/>
<circle cx="408.49" cy="144.65" r="3" fill="url(#gOr)" stroke="#c46c2c" stroke-width="0.5"/>
<circle cx="409.36" cy="143.87" r="3" fill="url(#gOr)" stroke="#c46c2c" stroke-width="0.5"/>
<circle cx="410.23" cy="144.82" r="3" fill="url(#gOr)" stroke="#c46c2c" stroke-width="0.5"/>
<circle cx="411.1" cy="145.55" r="3" fill="url(#gOr)" stroke="#c46c2c" stroke-width="0.5"/>
<circle cx="411.97" cy="145.22" r="3" fill="url(#gOr)" stroke="#c46c2c" stroke-width="0.5"/>
<circle cx="412.84" cy="146.19" r="3" fill="url(#gOr)" stroke="#c46c2c" stroke-width="0.5"/>
<circle cx="413.71" cy="145.44" r="3" fill="url(#gOr)" stroke="#c46c2c" stroke-width="0.5"/>
<circle cx="414.58" cy="143.34" r="3" fill="url(#gOr)" stroke="#c46c2c" stroke-width="0.5"/>
<circle cx="415.45" cy="143.5" r="3" fill="url(#gOr)" stroke="#c46c2c" stroke-width="0.5"/>
<circle cx="416.32" cy="144.73" r="3" fill="url(#gOr)" stroke="#c46c2c" stroke-width="0.5"/>
<circle cx="417.19" cy="145.23" r="3" fill="url(#gOr)" stroke="#c46c2c" stroke-width="0.5"/>
<circle cx="418.06" cy="145.85" r="3" fill="url(#gOr)" stroke="#c46c2c" stroke-width="0.5"/>
<circle cx="263.2" cy="93.43" r="3" fill="url(#gPu)" stroke="#8d2aa8" stroke-width="0.45"/>
<circle cx="332.8" cy="92.81" r="3" fill="url(#gPu)" stroke="#8d2aa8" stroke-width="0.45"/>
<circle cx="339.76" cy="87.61" r="3" fill="url(#gPu)" stroke="#8d2aa8" stroke-width="0.45"/>
<circle cx="346.72" cy="83.46" r="3" fill="url(#gPu)" stroke="#8d2aa8" stroke-width="0.45"/>
<circle cx="353.68" cy="80.97" r="3" fill="url(#gPu)" stroke="#8d2aa8" stroke-width="0.45"/></g>
<g id="pc"><text x="438.8" y="13.5" font-size="16" text-anchor="middle" fill="#111111" >c</text>
<text x="492.5" y="159.7" font-size="14.9" text-anchor="start" fill="#111111" transform="rotate(-90 492.5 159.7)" >0000</text>
<rect x="495.55" y="143.91" width="10.1" height="16.39" fill="#db7c39"/>
<text x="504.9" y="143.31" font-size="14.9" text-anchor="start" fill="#111111" transform="rotate(-90 504.9 143.31)" >1000</text>
<rect x="507.95" y="139.81" width="10.1" height="20.49" fill="#db7c39"/>
<text x="517.3" y="139.21" font-size="14.9" text-anchor="start" fill="#111111" transform="rotate(-90 517.3 139.21)" >0100</text>
<rect x="520.35" y="125.47" width="10.1" height="34.83" fill="#db7c39"/>
<text x="529.7" y="124.87" font-size="14.9" text-anchor="start" fill="#111111" transform="rotate(-90 529.7 124.87)" >0001</text>
<rect x="532.75" y="122.74" width="10.1" height="37.56" fill="#db7c39"/>
<text x="542.1" y="122.14" font-size="14.9" text-anchor="start" fill="#111111" transform="rotate(-90 542.1 122.14)" >0010</text>
<rect x="545.15" y="121.37" width="10.1" height="38.93" fill="#db7c39"/>
<text x="554.5" y="120.77" font-size="14.9" text-anchor="start" fill="#111111" transform="rotate(-90 554.5 120.77)" >1100</text>
<rect x="557.55" y="115.22" width="10.1" height="45.08" fill="#db7c39"/>
<text x="566.9" y="114.62" font-size="14.9" text-anchor="start" fill="#111111" transform="rotate(-90 566.9 114.62)" >1010</text>
<rect x="569.95" y="111.81" width="10.1" height="48.49" fill="#db7c39"/>
<text x="579.3" y="111.21" font-size="14.9" text-anchor="start" fill="#111111" transform="rotate(-90 579.3 111.21)" >0110</text>
<rect x="582.35" y="110.44" width="10.1" height="49.86" fill="#db7c39"/>
<text x="591.7" y="109.84" font-size="14.9" text-anchor="start" fill="#111111" transform="rotate(-90 591.7 109.84)" >1001</text>
<rect x="594.75" y="107.71" width="10.1" height="52.59" fill="#db7c39"/>
<text x="604.1" y="107.11" font-size="14.9" text-anchor="start" fill="#111111" transform="rotate(-90 604.1 107.11)" >0101</text>
<rect x="607.15" y="101.56" width="10.1" height="58.74" fill="#db7c39"/>
<text x="616.5" y="100.96" font-size="14.9" text-anchor="start" fill="#111111" transform="rotate(-90 616.5 100.96)" >1110</text>
<rect x="619.55" y="99.51" width="10.1" height="60.79" fill="#db7c39"/>
<text x="628.9" y="98.91" font-size="14.9" text-anchor="start" fill="#111111" transform="rotate(-90 628.9 98.91)" >0011</text>
<rect x="631.95" y="98.15" width="10.1" height="62.15" fill="#db7c39"/>
<text x="641.3" y="97.55" font-size="14.9" text-anchor="start" fill="#111111" transform="rotate(-90 641.3 97.55)" >1101</text>
<rect x="644.35" y="94.05" width="10.1" height="66.25" fill="#db7c39"/>
<text x="653.7" y="93.45" font-size="14.9" text-anchor="start" fill="#111111" transform="rotate(-90 653.7 93.45)" >1011</text>
<rect x="656.75" y="93.37" width="10.1" height="66.93" fill="#db7c39"/>
<text x="666.1" y="92.77" font-size="14.9" text-anchor="start" fill="#111111" transform="rotate(-90 666.1 92.77)" >0111</text>
<rect x="669.15" y="89.27" width="10.1" height="71.03" fill="#db7c39"/>
<text x="678.5" y="88.67" font-size="14.9" text-anchor="start" fill="#111111" transform="rotate(-90 678.5 88.67)" >1111</text>
<line x1="479" x2="482" y1="160.3" y2="160.3" stroke="#555555" stroke-width="0.9"/>
<text x="476.8" y="163.9" font-size="12.8" text-anchor="end" fill="#111111" >0</text>
<line x1="479" x2="482" y1="132.98" y2="132.98" stroke="#555555" stroke-width="0.9"/>
<text x="476.8" y="136.58" font-size="12.8" text-anchor="end" fill="#111111" >20</text>
<line x1="479" x2="482" y1="105.66" y2="105.66" stroke="#555555" stroke-width="0.9"/>
<text x="476.8" y="109.26" font-size="12.8" text-anchor="end" fill="#111111" >40</text>
<line x1="479" x2="482" y1="78.34" y2="78.34" stroke="#555555" stroke-width="0.9"/>
<text x="476.8" y="81.94" font-size="12.8" text-anchor="end" fill="#111111" >60</text>
<line x1="479" x2="482" y1="51.02" y2="51.02" stroke="#555555" stroke-width="0.9"/>
<text x="476.8" y="54.62" font-size="12.8" text-anchor="end" fill="#111111" >80</text>
<line x1="479" x2="482" y1="23.7" y2="23.7" stroke="#555555" stroke-width="0.9"/>
<text x="476.8" y="27.3" font-size="12.8" text-anchor="end" fill="#111111" >100</text>
<line x1="480.3" x2="482" y1="146.64" y2="146.64" stroke="#555555" stroke-width="0.9"/>
<line x1="480.3" x2="482" y1="119.32" y2="119.32" stroke="#555555" stroke-width="0.9"/>
<line x1="480.3" x2="482" y1="92" y2="92" stroke="#555555" stroke-width="0.9"/>
<line x1="480.3" x2="482" y1="64.68" y2="64.68" stroke="#555555" stroke-width="0.9"/>
<line x1="480.3" x2="482" y1="37.36" y2="37.36" stroke="#555555" stroke-width="0.9"/>
<rect x="482" y="9.5" width="198.4" height="150.8" fill="none" stroke="#555555" stroke-width="0.9"/>
<text x="581.2" y="182.6" font-size="14.5" text-anchor="middle" fill="#111111" >Combination electrical pulses</text>
<text x="453.3" y="81.5" font-size="14" text-anchor="middle" fill="#111111" transform="rotate(-90 453.3 81.5)" ><tspan font-style="italic">ΔI</tspan><tspan font-size="70%" dy="3.8">D</tspan><tspan dy="-3.8"> (µA)</tspan></text></g>
<g id="pdl"><text x="21.2" y="253.8" font-size="16.8" text-anchor="middle" fill="#111111" >d</text>
<rect x="41" y="247" width="233" height="184" rx="46" fill="#e6e37a" filter="url(#blur8)"/>
<rect x="52" y="256" width="208" height="164" rx="40" fill="#e6e37a" filter="url(#blur8)" opacity="0.75"/>
<polygon points="47.4,303.2 106.8,251.6 106.8,364.8 47.4,416" fill="#fff" stroke="#333" stroke-width="1.7" stroke-linejoin="miter"/>
<ellipse cx="93.7" cy="288.1" rx="8" ry="16" fill="#d48ba6" opacity="0.93" transform="rotate(14 93.7 288.1)"/>
<ellipse cx="77.3" cy="336.6" rx="23.9" ry="55" transform="rotate(17.4 77.3 336.6)" fill="none" stroke="#333" stroke-width="1.5" stroke-dasharray="5.4 3.2"/>
<path d="M89.3 311.6 Q99.5 322 95.2 336" fill="none" stroke="#222" stroke-width="2.6"/>
<polygon points="90.2,333.2 100.2,336.4 93.6,343.6" fill="#222"/>
<path d="M136.5 275.6 H170 M165.2 273 L170.4 275.6 L165.2 278.2" fill="none" stroke="#e5603f" stroke-width="1.1"/>
<path d="M136.5 299.1 H170 M165.2 296.5 L170.4 299.1 L165.2 301.7" fill="none" stroke="#e5603f" stroke-width="1.1"/>
<path d="M136.5 322.6 H170 M165.2 320 L170.4 322.6 L165.2 325.2" fill="none" stroke="#e5603f" stroke-width="1.1"/>
<path d="M136.5 346.2 H170 M165.2 343.6 L170.4 346.2 L165.2 348.8" fill="none" stroke="#e5603f" stroke-width="1.1"/>
<path d="M136.5 369.7 H170 M165.2 367.1 L170.4 369.7 L165.2 372.3" fill="none" stroke="#e5603f" stroke-width="1.1"/>
<path d="M136.5 393.2 H170 M165.2 390.6 L170.4 393.2 L165.2 395.8" fill="none" stroke="#e5603f" stroke-width="1.1"/>
<ellipse cx="253.5" cy="280.4" rx="2.9" ry="11.06" fill="#f9ebe0" stroke="#ee9878" stroke-width="0.9" fill-opacity="0.78" stroke-opacity="0.95"/>
<ellipse cx="253.5" cy="301.62" rx="2.9" ry="11.06" fill="#f9ebe0" stroke="#ee9878" stroke-width="0.9" fill-opacity="0.78" stroke-opacity="0.95"/>
<ellipse cx="253.5" cy="322.86" rx="2.9" ry="11.06" fill="#f9ebe0" stroke="#ee9878" stroke-width="0.9" fill-opacity="0.78" stroke-opacity="0.95"/>
<ellipse cx="253.5" cy="344.09" rx="2.9" ry="11.06" fill="#f9ebe0" stroke="#ee9878" stroke-width="0.9" fill-opacity="0.78" stroke-opacity="0.95"/>
<ellipse cx="253.5" cy="365.31" rx="2.9" ry="11.06" fill="#f9ebe0" stroke="#ee9878" stroke-width="0.9" fill-opacity="0.78" stroke-opacity="0.95"/>
<ellipse cx="253.5" cy="386.55" rx="2.9" ry="11.06" fill="#f9ebe0" stroke="#ee9878" stroke-width="0.9" fill-opacity="0.78" stroke-opacity="0.95"/>
<ellipse cx="253.5" cy="407.77" rx="2.9" ry="11.06" fill="#f9ebe0" stroke="#ee9878" stroke-width="0.9" fill-opacity="0.78" stroke-opacity="0.95"/>
<ellipse cx="253.5" cy="429" rx="2.9" ry="11.06" fill="#f9ebe0" stroke="#ee9878" stroke-width="0.9" fill-opacity="0.78" stroke-opacity="0.95"/>
<ellipse cx="248.4" cy="275.6" rx="2.9" ry="11.1" fill="#f9ebe0" stroke="#ee9878" stroke-width="0.9" fill-opacity="0.78" stroke-opacity="0.95"/>
<ellipse cx="248.4" cy="296.91" rx="2.9" ry="11.1" fill="#f9ebe0" stroke="#ee9878" stroke-width="0.9" fill-opacity="0.78" stroke-opacity="0.95"/>
<ellipse cx="248.4" cy="318.22" rx="2.9" ry="11.1" fill="#f9ebe0" stroke="#ee9878" stroke-width="0.9" fill-opacity="0.78" stroke-opacity="0.95"/>
<ellipse cx="248.4" cy="339.52" rx="2.9" ry="11.1" fill="#f9ebe0" stroke="#ee9878" stroke-width="0.9" fill-opacity="0.78" stroke-opacity="0.95"/>
<ellipse cx="248.4" cy="360.83" rx="2.9" ry="11.1" fill="#f9ebe0" stroke="#ee9878" stroke-width="0.9" fill-opacity="0.78" stroke-opacity="0.95"/>
<ellipse cx="248.4" cy="382.13" rx="2.9" ry="11.1" fill="#f9ebe0" stroke="#ee9878" stroke-width="0.9" fill-opacity="0.78" stroke-opacity="0.95"/>
<ellipse cx="248.4" cy="403.44" rx="2.9" ry="11.1" fill="#f9ebe0" stroke="#ee9878" stroke-width="0.9" fill-opacity="0.78" stroke-opacity="0.95"/>
<ellipse cx="248.4" cy="424.75" rx="2.9" ry="11.1" fill="#f9ebe0" stroke="#ee9878" stroke-width="0.9" fill-opacity="0.78" stroke-opacity="0.95"/>
<ellipse cx="243.3" cy="270.81" rx="2.9" ry="11.14" fill="#f9ebe0" stroke="#ee9878" stroke-width="0.9" fill-opacity="0.78" stroke-opacity="0.95"/>
<ellipse cx="243.3" cy="292.19" rx="2.9" ry="11.14" fill="#f9ebe0" stroke="#ee9878" stroke-width="0.9" fill-opacity="0.78" stroke-opacity="0.95"/>
<ellipse cx="243.3" cy="313.58" rx="2.9" ry="11.14" fill="#f9ebe0" stroke="#ee9878" stroke-width="0.9" fill-opacity="0.78" stroke-opacity="0.95"/>
<ellipse cx="243.3" cy="334.96" rx="2.9" ry="11.14" fill="#f9ebe0" stroke="#ee9878" stroke-width="0.9" fill-opacity="0.78" stroke-opacity="0.95"/>
<ellipse cx="243.3" cy="356.34" rx="2.9" ry="11.14" fill="#f9ebe0" stroke="#ee9878" stroke-width="0.9" fill-opacity="0.78" stroke-opacity="0.95"/>
<ellipse cx="243.3" cy="377.72" rx="2.9" ry="11.14" fill="#f9ebe0" stroke="#ee9878" stroke-width="0.9" fill-opacity="0.78" stroke-opacity="0.95"/>
<ellipse cx="243.3" cy="399.11" rx="2.9" ry="11.14" fill="#f9ebe0" stroke="#ee9878" stroke-width="0.9" fill-opacity="0.78" stroke-opacity="0.95"/>
<ellipse cx="243.3" cy="420.49" rx="2.9" ry="11.14" fill="#f9ebe0" stroke="#ee9878" stroke-width="0.9" fill-opacity="0.78" stroke-opacity="0.95"/>
<ellipse cx="238.2" cy="266.02" rx="2.9" ry="11.18" fill="#f9ebe0" stroke="#ee9878" stroke-width="0.9" fill-opacity="0.78" stroke-opacity="0.95"/>
<ellipse cx="238.2" cy="287.48" rx="2.9" ry="11.18" fill="#f9ebe0" stroke="#ee9878" stroke-width="0.9" fill-opacity="0.78" stroke-opacity="0.95"/>
<ellipse cx="238.2" cy="308.94" rx="2.9" ry="11.18" fill="#f9ebe0" stroke="#ee9878" stroke-width="0.9" fill-opacity="0.78" stroke-opacity="0.95"/>
<ellipse cx="238.2" cy="330.4" rx="2.9" ry="11.18" fill="#f9ebe0" stroke="#ee9878" stroke-width="0.9" fill-opacity="0.78" stroke-opacity="0.95"/>
<ellipse cx="238.2" cy="351.85" rx="2.9" ry="11.18" fill="#f9ebe0" stroke="#ee9878" stroke-width="0.9" fill-opacity="0.78" stroke-opacity="0.95"/>
<ellipse cx="238.2" cy="373.31" rx="2.9" ry="11.18" fill="#f9ebe0" stroke="#ee9878" stroke-width="0.9" fill-opacity="0.78" stroke-opacity="0.95"/>
<ellipse cx="238.2" cy="394.77" rx="2.9" ry="11.18" fill="#f9ebe0" stroke="#ee9878" stroke-width="0.9" fill-opacity="0.78" stroke-opacity="0.95"/>
<ellipse cx="238.2" cy="416.23" rx="2.9" ry="11.18" fill="#f9ebe0" stroke="#ee9878" stroke-width="0.9" fill-opacity="0.78" stroke-opacity="0.95"/>
<ellipse cx="233.1" cy="261.23" rx="2.9" ry="11.22" fill="#f9ebe0" stroke="#ee9878" stroke-width="0.9" fill-opacity="0.78" stroke-opacity="0.95"/>
<ellipse cx="233.1" cy="282.76" rx="2.9" ry="11.22" fill="#f9ebe0" stroke="#ee9878" stroke-width="0.9" fill-opacity="0.78" stroke-opacity="0.95"/>
<ellipse cx="233.1" cy="304.3" rx="2.9" ry="11.22" fill="#f9ebe0" stroke="#ee9878" stroke-width="0.9" fill-opacity="0.78" stroke-opacity="0.95"/>
<ellipse cx="233.1" cy="325.83" rx="2.9" ry="11.22" fill="#f9ebe0" stroke="#ee9878" stroke-width="0.9" fill-opacity="0.78" stroke-opacity="0.95"/>
<ellipse cx="233.1" cy="347.37" rx="2.9" ry="11.22" fill="#f9ebe0" stroke="#ee9878" stroke-width="0.9" fill-opacity="0.78" stroke-opacity="0.95"/>
<ellipse cx="233.1" cy="368.9" rx="2.9" ry="11.22" fill="#f9ebe0" stroke="#ee9878" stroke-width="0.9" fill-opacity="0.78" stroke-opacity="0.95"/>
<ellipse cx="233.1" cy="390.44" rx="2.9" ry="11.22" fill="#f9ebe0" stroke="#ee9878" stroke-width="0.9" fill-opacity="0.78" stroke-opacity="0.95"/>
<ellipse cx="233.1" cy="411.97" rx="2.9" ry="11.22" fill="#f9ebe0" stroke="#ee9878" stroke-width="0.9" fill-opacity="0.78" stroke-opacity="0.95"/>
<ellipse cx="228" cy="256.44" rx="2.9" ry="11.26" fill="#f9ebe0" stroke="#ee9878" stroke-width="0.9" fill-opacity="0.78" stroke-opacity="0.95"/>
<ellipse cx="228" cy="278.05" rx="2.9" ry="11.26" fill="#f9ebe0" stroke="#ee9878" stroke-width="0.9" fill-opacity="0.78" stroke-opacity="0.95"/>
<ellipse cx="228" cy="299.66" rx="2.9" ry="11.26" fill="#f9ebe0" stroke="#ee9878" stroke-width="0.9" fill-opacity="0.78" stroke-opacity="0.95"/>
<ellipse cx="228" cy="321.27" rx="2.9" ry="11.26" fill="#f9ebe0" stroke="#ee9878" stroke-width="0.9" fill-opacity="0.78" stroke-opacity="0.95"/>
<ellipse cx="228" cy="342.88" rx="2.9" ry="11.26" fill="#f9ebe0" stroke="#ee9878" stroke-width="0.9" fill-opacity="0.78" stroke-opacity="0.95"/>
<ellipse cx="228" cy="364.49" rx="2.9" ry="11.26" fill="#f9ebe0" stroke="#ee9878" stroke-width="0.9" fill-opacity="0.78" stroke-opacity="0.95"/>
<ellipse cx="228" cy="386.1" rx="2.9" ry="11.26" fill="#f9ebe0" stroke="#ee9878" stroke-width="0.9" fill-opacity="0.78" stroke-opacity="0.95"/>
<ellipse cx="228" cy="407.71" rx="2.9" ry="11.26" fill="#f9ebe0" stroke="#ee9878" stroke-width="0.9" fill-opacity="0.78" stroke-opacity="0.95"/>
<ellipse cx="222.9" cy="251.64" rx="2.9" ry="11.29" fill="#f9ebe0" stroke="#ee9878" stroke-width="0.9" fill-opacity="0.78" stroke-opacity="0.95"/>
<ellipse cx="222.9" cy="273.33" rx="2.9" ry="11.29" fill="#f9ebe0" stroke="#ee9878" stroke-width="0.9" fill-opacity="0.78" stroke-opacity="0.95"/>
<ellipse cx="222.9" cy="295.02" rx="2.9" ry="11.29" fill="#f9ebe0" stroke="#ee9878" stroke-width="0.9" fill-opacity="0.78" stroke-opacity="0.95"/>
<ellipse cx="222.9" cy="316.71" rx="2.9" ry="11.29" fill="#f9ebe0" stroke="#ee9878" stroke-width="0.9" fill-opacity="0.78" stroke-opacity="0.95"/>
<ellipse cx="222.9" cy="338.39" rx="2.9" ry="11.29" fill="#f9ebe0" stroke="#ee9878" stroke-width="0.9" fill-opacity="0.78" stroke-opacity="0.95"/>
<ellipse cx="222.9" cy="360.08" rx="2.9" ry="11.29" fill="#f9ebe0" stroke="#ee9878" stroke-width="0.9" fill-opacity="0.78" stroke-opacity="0.95"/>
<ellipse cx="222.9" cy="381.77" rx="2.9" ry="11.29" fill="#f9ebe0" stroke="#ee9878" stroke-width="0.9" fill-opacity="0.78" stroke-opacity="0.95"/>
<ellipse cx="222.9" cy="403.46" rx="2.9" ry="11.29" fill="#f9ebe0" stroke="#ee9878" stroke-width="0.9" fill-opacity="0.78" stroke-opacity="0.95"/>
<ellipse cx="242.2" cy="280.4" rx="2.9" ry="11.06" fill="#f1d272" stroke="#ec8852" stroke-width="0.9" fill-opacity="0.78" stroke-opacity="0.95"/>
<ellipse cx="242.2" cy="301.62" rx="2.9" ry="11.06" fill="#f1d272" stroke="#ec8852" stroke-width="0.9" fill-opacity="0.78" stroke-opacity="0.95"/>
<ellipse cx="242.2" cy="322.86" rx="2.9" ry="11.06" fill="#f1d272" stroke="#ec8852" stroke-width="0.9" fill-opacity="0.78" stroke-opacity="0.95"/>
<ellipse cx="242.2" cy="344.09" rx="2.9" ry="11.06" fill="#f1d272" stroke="#ec8852" stroke-width="0.9" fill-opacity="0.78" stroke-opacity="0.95"/>
<ellipse cx="242.2" cy="365.31" rx="2.9" ry="11.06" fill="#f1d272" stroke="#ec8852" stroke-width="0.9" fill-opacity="0.78" stroke-opacity="0.95"/>
<ellipse cx="242.2" cy="386.55" rx="2.9" ry="11.06" fill="#f1d272" stroke="#ec8852" stroke-width="0.9" fill-opacity="0.78" stroke-opacity="0.95"/>
<ellipse cx="242.2" cy="407.77" rx="2.9" ry="11.06" fill="#f1d272" stroke="#ec8852" stroke-width="0.9" fill-opacity="0.78" stroke-opacity="0.95"/>
<ellipse cx="242.2" cy="429" rx="2.9" ry="11.06" fill="#f1d272" stroke="#ec8852" stroke-width="0.9" fill-opacity="0.78" stroke-opacity="0.95"/>
<ellipse cx="237.1" cy="275.6" rx="2.9" ry="11.1" fill="#f1d272" stroke="#ec8852" stroke-width="0.9" fill-opacity="0.78" stroke-opacity="0.95"/>
<ellipse cx="237.1" cy="296.91" rx="2.9" ry="11.1" fill="#f1d272" stroke="#ec8852" stroke-width="0.9" fill-opacity="0.78" stroke-opacity="0.95"/>
<ellipse cx="237.1" cy="318.22" rx="2.9" ry="11.1" fill="#f1d272" stroke="#ec8852" stroke-width="0.9" fill-opacity="0.78" stroke-opacity="0.95"/>
<ellipse cx="237.1" cy="339.52" rx="2.9" ry="11.1" fill="#f1d272" stroke="#ec8852" stroke-width="0.9" fill-opacity="0.78" stroke-opacity="0.95"/>
<ellipse cx="237.1" cy="360.83" rx="2.9" ry="11.1" fill="#f1d272" stroke="#ec8852" stroke-width="0.9" fill-opacity="0.78" stroke-opacity="0.95"/>
<ellipse cx="237.1" cy="382.13" rx="2.9" ry="11.1" fill="#f1d272" stroke="#ec8852" stroke-width="0.9" fill-opacity="0.78" stroke-opacity="0.95"/>
<ellipse cx="237.1" cy="403.44" rx="2.9" ry="11.1" fill="#f1d272" stroke="#ec8852" stroke-width="0.9" fill-opacity="0.78" stroke-opacity="0.95"/>
<ellipse cx="237.1" cy="424.75" rx="2.9" ry="11.1" fill="#f1d272" stroke="#ec8852" stroke-width="0.9" fill-opacity="0.78" stroke-opacity="0.95"/>
<ellipse cx="232" cy="270.81" rx="2.9" ry="11.14" fill="#f1d272" stroke="#ec8852" stroke-width="0.9" fill-opacity="0.78" stroke-opacity="0.95"/>
<ellipse cx="232" cy="292.19" rx="2.9" ry="11.14" fill="#f1d272" stroke="#ec8852" stroke-width="0.9" fill-opacity="0.78" stroke-opacity="0.95"/>
<ellipse cx="232" cy="313.58" rx="2.9" ry="11.14" fill="#f1d272" stroke="#ec8852" stroke-width="0.9" fill-opacity="0.78" stroke-opacity="0.95"/>
<ellipse cx="232" cy="334.96" rx="2.9" ry="11.14" fill="#f1d272" stroke="#ec8852" stroke-width="0.9" fill-opacity="0.78" stroke-opacity="0.95"/>
<ellipse cx="232" cy="356.34" rx="2.9" ry="11.14" fill="#f1d272" stroke="#ec8852" stroke-width="0.9" fill-opacity="0.78" stroke-opacity="0.95"/>
<ellipse cx="232" cy="377.72" rx="2.9" ry="11.14" fill="#f1d272" stroke="#ec8852" stroke-width="0.9" fill-opacity="0.78" stroke-opacity="0.95"/>
<ellipse cx="232" cy="399.11" rx="2.9" ry="11.14" fill="#f1d272" stroke="#ec8852" stroke-width="0.9" fill-opacity="0.78" stroke-opacity="0.95"/>
<ellipse cx="232" cy="420.49" rx="2.9" ry="11.14" fill="#f1d272" stroke="#ec8852" stroke-width="0.9" fill-opacity="0.78" stroke-opacity="0.95"/>
<ellipse cx="226.9" cy="266.02" rx="2.9" ry="11.18" fill="#f1d272" stroke="#ec8852" stroke-width="0.9" fill-opacity="0.78" stroke-opacity="0.95"/>
<ellipse cx="226.9" cy="287.48" rx="2.9" ry="11.18" fill="#f1d272" stroke="#ec8852" stroke-width="0.9" fill-opacity="0.78" stroke-opacity="0.95"/>
<ellipse cx="226.9" cy="308.94" rx="2.9" ry="11.18" fill="#f1d272" stroke="#ec8852" stroke-width="0.9" fill-opacity="0.78" stroke-opacity="0.95"/>
<ellipse cx="226.9" cy="330.4" rx="2.9" ry="11.18" fill="#f1d272" stroke="#ec8852" stroke-width="0.9" fill-opacity="0.78" stroke-opacity="0.95"/>
<ellipse cx="226.9" cy="351.85" rx="2.9" ry="11.18" fill="#f1d272" stroke="#ec8852" stroke-width="0.9" fill-opacity="0.78" stroke-opacity="0.95"/>
<ellipse cx="226.9" cy="373.31" rx="2.9" ry="11.18" fill="#f1d272" stroke="#ec8852" stroke-width="0.9" fill-opacity="0.78" stroke-opacity="0.95"/>
<ellipse cx="226.9" cy="394.77" rx="2.9" ry="11.18" fill="#f1d272" stroke="#ec8852" stroke-width="0.9" fill-opacity="0.78" stroke-opacity="0.95"/>
<ellipse cx="226.9" cy="416.23" rx="2.9" ry="11.18" fill="#f1d272" stroke="#ec8852" stroke-width="0.9" fill-opacity="0.78" stroke-opacity="0.95"/>
<ellipse cx="221.8" cy="261.23" rx="2.9" ry="11.22" fill="#f1d272" stroke="#ec8852" stroke-width="0.9" fill-opacity="0.78" stroke-opacity="0.95"/>
<ellipse cx="221.8" cy="282.76" rx="2.9" ry="11.22" fill="#f1d272" stroke="#ec8852" stroke-width="0.9" fill-opacity="0.78" stroke-opacity="0.95"/>
<ellipse cx="221.8" cy="304.3" rx="2.9" ry="11.22" fill="#f1d272" stroke="#ec8852" stroke-width="0.9" fill-opacity="0.78" stroke-opacity="0.95"/>
<ellipse cx="221.8" cy="325.83" rx="2.9" ry="11.22" fill="#f1d272" stroke="#ec8852" stroke-width="0.9" fill-opacity="0.78" stroke-opacity="0.95"/>
<ellipse cx="221.8" cy="347.37" rx="2.9" ry="11.22" fill="#f1d272" stroke="#ec8852" stroke-width="0.9" fill-opacity="0.78" stroke-opacity="0.95"/>
<ellipse cx="221.8" cy="368.9" rx="2.9" ry="11.22" fill="#f1d272" stroke="#ec8852" stroke-width="0.9" fill-opacity="0.78" stroke-opacity="0.95"/>
<ellipse cx="221.8" cy="390.44" rx="2.9" ry="11.22" fill="#f1d272" stroke="#ec8852" stroke-width="0.9" fill-opacity="0.78" stroke-opacity="0.95"/>
<ellipse cx="221.8" cy="411.97" rx="2.9" ry="11.22" fill="#f1d272" stroke="#ec8852" stroke-width="0.9" fill-opacity="0.78" stroke-opacity="0.95"/>
<ellipse cx="216.7" cy="256.44" rx="2.9" ry="11.26" fill="#f1d272" stroke="#ec8852" stroke-width="0.9" fill-opacity="0.78" stroke-opacity="0.95"/>
<ellipse cx="216.7" cy="278.05" rx="2.9" ry="11.26" fill="#f1d272" stroke="#ec8852" stroke-width="0.9" fill-opacity="0.78" stroke-opacity="0.95"/>
<ellipse cx="216.7" cy="299.66" rx="2.9" ry="11.26" fill="#f1d272" stroke="#ec8852" stroke-width="0.9" fill-opacity="0.78" stroke-opacity="0.95"/>
<ellipse cx="216.7" cy="321.27" rx="2.9" ry="11.26" fill="#f1d272" stroke="#ec8852" stroke-width="0.9" fill-opacity="0.78" stroke-opacity="0.95"/>
<ellipse cx="216.7" cy="342.88" rx="2.9" ry="11.26" fill="#f1d272" stroke="#ec8852" stroke-width="0.9" fill-opacity="0.78" stroke-opacity="0.95"/>
<ellipse cx="216.7" cy="364.49" rx="2.9" ry="11.26" fill="#f1d272" stroke="#ec8852" stroke-width="0.9" fill-opacity="0.78" stroke-opacity="0.95"/>
<ellipse cx="216.7" cy="386.1" rx="2.9" ry="11.26" fill="#f1d272" stroke="#ec8852" stroke-width="0.9" fill-opacity="0.78" stroke-opacity="0.95"/>
<ellipse cx="216.7" cy="407.71" rx="2.9" ry="11.26" fill="#f1d272" stroke="#ec8852" stroke-width="0.9" fill-opacity="0.78" stroke-opacity="0.95"/>
<ellipse cx="211.6" cy="251.64" rx="2.9" ry="11.29" fill="#f1d272" stroke="#ec8852" stroke-width="0.9" fill-opacity="0.78" stroke-opacity="0.95"/>
<ellipse cx="211.6" cy="273.33" rx="2.9" ry="11.29" fill="#f1d272" stroke="#ec8852" stroke-width="0.9" fill-opacity="0.78" stroke-opacity="0.95"/>
<ellipse cx="211.6" cy="295.02" rx="2.9" ry="11.29" fill="#f1d272" stroke="#ec8852" stroke-width="0.9" fill-opacity="0.78" stroke-opacity="0.95"/>
<ellipse cx="211.6" cy="316.71" rx="2.9" ry="11.29" fill="#f1d272" stroke="#ec8852" stroke-width="0.9" fill-opacity="0.78" stroke-opacity="0.95"/>
<ellipse cx="211.6" cy="338.39" rx="2.9" ry="11.29" fill="#f1d272" stroke="#ec8852" stroke-width="0.9" fill-opacity="0.78" stroke-opacity="0.95"/>
<ellipse cx="211.6" cy="360.08" rx="2.9" ry="11.29" fill="#f1d272" stroke="#ec8852" stroke-width="0.9" fill-opacity="0.78" stroke-opacity="0.95"/>
<ellipse cx="211.6" cy="381.77" rx="2.9" ry="11.29" fill="#f1d272" stroke="#ec8852" stroke-width="0.9" fill-opacity="0.78" stroke-opacity="0.95"/>
<ellipse cx="211.6" cy="403.46" rx="2.9" ry="11.29" fill="#f1d272" stroke="#ec8852" stroke-width="0.9" fill-opacity="0.78" stroke-opacity="0.95"/>
<ellipse cx="231.1" cy="280.4" rx="2.9" ry="11.06" fill="#e9804f" stroke="#d93828" stroke-width="0.9" fill-opacity="0.78" stroke-opacity="0.95"/>
<ellipse cx="231.1" cy="301.62" rx="2.9" ry="11.06" fill="#e9804f" stroke="#d93828" stroke-width="0.9" fill-opacity="0.78" stroke-opacity="0.95"/>
<ellipse cx="231.1" cy="322.86" rx="2.9" ry="11.06" fill="#e9804f" stroke="#d93828" stroke-width="0.9" fill-opacity="0.78" stroke-opacity="0.95"/>
<ellipse cx="231.1" cy="344.09" rx="2.9" ry="11.06" fill="#e9804f" stroke="#d93828" stroke-width="0.9" fill-opacity="0.78" stroke-opacity="0.95"/>
<ellipse cx="231.1" cy="365.31" rx="2.9" ry="11.06" fill="#e9804f" stroke="#d93828" stroke-width="0.9" fill-opacity="0.78" stroke-opacity="0.95"/>
<ellipse cx="231.1" cy="386.55" rx="2.9" ry="11.06" fill="#e9804f" stroke="#d93828" stroke-width="0.9" fill-opacity="0.78" stroke-opacity="0.95"/>
<ellipse cx="231.1" cy="407.77" rx="2.9" ry="11.06" fill="#e9804f" stroke="#d93828" stroke-width="0.9" fill-opacity="0.78" stroke-opacity="0.95"/>
<ellipse cx="231.1" cy="429" rx="2.9" ry="11.06" fill="#e9804f" stroke="#d93828" stroke-width="0.9" fill-opacity="0.78" stroke-opacity="0.95"/>
<ellipse cx="226" cy="275.6" rx="2.9" ry="11.1" fill="#e9804f" stroke="#d93828" stroke-width="0.9" fill-opacity="0.78" stroke-opacity="0.95"/>
<ellipse cx="226" cy="296.91" rx="2.9" ry="11.1" fill="#e9804f" stroke="#d93828" stroke-width="0.9" fill-opacity="0.78" stroke-opacity="0.95"/>
<ellipse cx="226" cy="318.22" rx="2.9" ry="11.1" fill="#e9804f" stroke="#d93828" stroke-width="0.9" fill-opacity="0.78" stroke-opacity="0.95"/>
<ellipse cx="226" cy="339.52" rx="2.9" ry="11.1" fill="#e9804f" stroke="#d93828" stroke-width="0.9" fill-opacity="0.78" stroke-opacity="0.95"/>
<ellipse cx="226" cy="360.83" rx="2.9" ry="11.1" fill="#e9804f" stroke="#d93828" stroke-width="0.9" fill-opacity="0.78" stroke-opacity="0.95"/>
<ellipse cx="226" cy="382.13" rx="2.9" ry="11.1" fill="#e9804f" stroke="#d93828" stroke-width="0.9" fill-opacity="0.78" stroke-opacity="0.95"/>
<ellipse cx="226" cy="403.44" rx="2.9" ry="11.1" fill="#e9804f" stroke="#d93828" stroke-width="0.9" fill-opacity="0.78" stroke-opacity="0.95"/>
<ellipse cx="226" cy="424.75" rx="2.9" ry="11.1" fill="#e9804f" stroke="#d93828" stroke-width="0.9" fill-opacity="0.78" stroke-opacity="0.95"/>
<ellipse cx="220.9" cy="270.81" rx="2.9" ry="11.14" fill="#e9804f" stroke="#d93828" stroke-width="0.9" fill-opacity="0.78" stroke-opacity="0.95"/>
<ellipse cx="220.9" cy="292.19" rx="2.9" ry="11.14" fill="#e9804f" stroke="#d93828" stroke-width="0.9" fill-opacity="0.78" stroke-opacity="0.95"/>
<ellipse cx="220.9" cy="313.58" rx="2.9" ry="11.14" fill="#e9804f" stroke="#d93828" stroke-width="0.9" fill-opacity="0.78" stroke-opacity="0.95"/>
<ellipse cx="220.9" cy="334.96" rx="2.9" ry="11.14" fill="#e9804f" stroke="#d93828" stroke-width="0.9" fill-opacity="0.78" stroke-opacity="0.95"/>
<ellipse cx="220.9" cy="356.34" rx="2.9" ry="11.14" fill="#e9804f" stroke="#d93828" stroke-width="0.9" fill-opacity="0.78" stroke-opacity="0.95"/>
<ellipse cx="220.9" cy="377.72" rx="2.9" ry="11.14" fill="#e9804f" stroke="#d93828" stroke-width="0.9" fill-opacity="0.78" stroke-opacity="0.95"/>
<ellipse cx="220.9" cy="399.11" rx="2.9" ry="11.14" fill="#e9804f" stroke="#d93828" stroke-width="0.9" fill-opacity="0.78" stroke-opacity="0.95"/>
<ellipse cx="220.9" cy="420.49" rx="2.9" ry="11.14" fill="#e9804f" stroke="#d93828" stroke-width="0.9" fill-opacity="0.78" stroke-opacity="0.95"/>
<ellipse cx="215.8" cy="266.02" rx="2.9" ry="11.18" fill="#e9804f" stroke="#d93828" stroke-width="0.9" fill-opacity="0.78" stroke-opacity="0.95"/>
<ellipse cx="215.8" cy="287.48" rx="2.9" ry="11.18" fill="#e9804f" stroke="#d93828" stroke-width="0.9" fill-opacity="0.78" stroke-opacity="0.95"/>
<ellipse cx="215.8" cy="308.94" rx="2.9" ry="11.18" fill="#e9804f" stroke="#d93828" stroke-width="0.9" fill-opacity="0.78" stroke-opacity="0.95"/>
<ellipse cx="215.8" cy="330.4" rx="2.9" ry="11.18" fill="#e9804f" stroke="#d93828" stroke-width="0.9" fill-opacity="0.78" stroke-opacity="0.95"/>
<ellipse cx="215.8" cy="351.85" rx="2.9" ry="11.18" fill="#e9804f" stroke="#d93828" stroke-width="0.9" fill-opacity="0.78" stroke-opacity="0.95"/>
<ellipse cx="215.8" cy="373.31" rx="2.9" ry="11.18" fill="#e9804f" stroke="#d93828" stroke-width="0.9" fill-opacity="0.78" stroke-opacity="0.95"/>
<ellipse cx="215.8" cy="394.77" rx="2.9" ry="11.18" fill="#e9804f" stroke="#d93828" stroke-width="0.9" fill-opacity="0.78" stroke-opacity="0.95"/>
<ellipse cx="215.8" cy="416.23" rx="2.9" ry="11.18" fill="#e9804f" stroke="#d93828" stroke-width="0.9" fill-opacity="0.78" stroke-opacity="0.95"/>
<ellipse cx="210.7" cy="261.23" rx="2.9" ry="11.22" fill="#e9804f" stroke="#d93828" stroke-width="0.9" fill-opacity="0.78" stroke-opacity="0.95"/>
<ellipse cx="210.7" cy="282.76" rx="2.9" ry="11.22" fill="#e9804f" stroke="#d93828" stroke-width="0.9" fill-opacity="0.78" stroke-opacity="0.95"/>
<ellipse cx="210.7" cy="304.3" rx="2.9" ry="11.22" fill="#e9804f" stroke="#d93828" stroke-width="0.9" fill-opacity="0.78" stroke-opacity="0.95"/>
<ellipse cx="210.7" cy="325.83" rx="2.9" ry="11.22" fill="#e9804f" stroke="#d93828" stroke-width="0.9" fill-opacity="0.78" stroke-opacity="0.95"/>
<ellipse cx="210.7" cy="347.37" rx="2.9" ry="11.22" fill="#e9804f" stroke="#d93828" stroke-width="0.9" fill-opacity="0.78" stroke-opacity="0.95"/>
<ellipse cx="210.7" cy="368.9" rx="2.9" ry="11.22" fill="#e9804f" stroke="#d93828" stroke-width="0.9" fill-opacity="0.78" stroke-opacity="0.95"/>
<ellipse cx="210.7" cy="390.44" rx="2.9" ry="11.22" fill="#e9804f" stroke="#d93828" stroke-width="0.9" fill-opacity="0.78" stroke-opacity="0.95"/>
<ellipse cx="210.7" cy="411.97" rx="2.9" ry="11.22" fill="#e9804f" stroke="#d93828" stroke-width="0.9" fill-opacity="0.78" stroke-opacity="0.95"/>
<ellipse cx="205.6" cy="256.44" rx="2.9" ry="11.26" fill="#e9804f" stroke="#d93828" stroke-width="0.9" fill-opacity="0.78" stroke-opacity="0.95"/>
<ellipse cx="205.6" cy="278.05" rx="2.9" ry="11.26" fill="#e9804f" stroke="#d93828" stroke-width="0.9" fill-opacity="0.78" stroke-opacity="0.95"/>
<ellipse cx="205.6" cy="299.66" rx="2.9" ry="11.26" fill="#e9804f" stroke="#d93828" stroke-width="0.9" fill-opacity="0.78" stroke-opacity="0.95"/>
<ellipse cx="205.6" cy="321.27" rx="2.9" ry="11.26" fill="#e9804f" stroke="#d93828" stroke-width="0.9" fill-opacity="0.78" stroke-opacity="0.95"/>
<ellipse cx="205.6" cy="342.88" rx="2.9" ry="11.26" fill="#e9804f" stroke="#d93828" stroke-width="0.9" fill-opacity="0.78" stroke-opacity="0.95"/>
<ellipse cx="205.6" cy="364.49" rx="2.9" ry="11.26" fill="#e9804f" stroke="#d93828" stroke-width="0.9" fill-opacity="0.78" stroke-opacity="0.95"/>
<ellipse cx="205.6" cy="386.1" rx="2.9" ry="11.26" fill="#e9804f" stroke="#d93828" stroke-width="0.9" fill-opacity="0.78" stroke-opacity="0.95"/>
<ellipse cx="205.6" cy="407.71" rx="2.9" ry="11.26" fill="#e9804f" stroke="#d93828" stroke-width="0.9" fill-opacity="0.78" stroke-opacity="0.95"/>
<ellipse cx="200.5" cy="251.64" rx="2.9" ry="11.29" fill="#e9804f" stroke="#d93828" stroke-width="0.9" fill-opacity="0.78" stroke-opacity="0.95"/>
<ellipse cx="200.5" cy="273.33" rx="2.9" ry="11.29" fill="#e9804f" stroke="#d93828" stroke-width="0.9" fill-opacity="0.78" stroke-opacity="0.95"/>
<ellipse cx="200.5" cy="295.02" rx="2.9" ry="11.29" fill="#e9804f" stroke="#d93828" stroke-width="0.9" fill-opacity="0.78" stroke-opacity="0.95"/>
<ellipse cx="200.5" cy="316.71" rx="2.9" ry="11.29" fill="#e9804f" stroke="#d93828" stroke-width="0.9" fill-opacity="0.78" stroke-opacity="0.95"/>
<ellipse cx="200.5" cy="338.39" rx="2.9" ry="11.29" fill="#e9804f" stroke="#d93828" stroke-width="0.9" fill-opacity="0.78" stroke-opacity="0.95"/>
<ellipse cx="200.5" cy="360.08" rx="2.9" ry="11.29" fill="#e9804f" stroke="#d93828" stroke-width="0.9" fill-opacity="0.78" stroke-opacity="0.95"/>
<ellipse cx="200.5" cy="381.77" rx="2.9" ry="11.29" fill="#e9804f" stroke="#d93828" stroke-width="0.9" fill-opacity="0.78" stroke-opacity="0.95"/>
<ellipse cx="200.5" cy="403.46" rx="2.9" ry="11.29" fill="#e9804f" stroke="#d93828" stroke-width="0.9" fill-opacity="0.78" stroke-opacity="0.95"/></g>
<g id="pdr"><text x="402.3" y="225.3" font-size="12.6" text-anchor="middle" fill="#111111" >Moving Slow</text>
<text x="499" y="225.3" font-size="12.6" text-anchor="middle" fill="#111111" >Static</text>
<text x="608" y="225.3" font-size="12.6" text-anchor="middle" fill="#111111" >Moving Fast</text>
<polygon points="327.7,258.4 371.5,233 371.5,300.3 327.7,325.3" fill="#fff" stroke="#b0307c" stroke-width="1.15" stroke-linejoin="miter"/>
<ellipse cx="361.6" cy="251.6" rx="5.8" ry="8.6" fill="#dfa0b8" fill-opacity="0.95" transform="rotate(18 361.6 251.6)"/>
<ellipse cx="361.2" cy="258.9" rx="5.8" ry="8.6" fill="#c97a9c" fill-opacity="0.9" transform="rotate(18 361.2 258.9)"/>
<ellipse cx="362.6" cy="256" rx="5.8" ry="8.6" fill="#b55cd8" fill-opacity="0.82" transform="rotate(18 362.6 256)"/>
<polygon points="366.54,258.4 410.34,233 410.34,300.3 366.54,325.3" fill="#fff" stroke="#b0307c" stroke-width="1.15" stroke-linejoin="miter"/>
<ellipse cx="400.7" cy="250.2" rx="5.8" ry="8.6" fill="#f3cddb" fill-opacity="1" transform="rotate(18 400.7 250.2)"/>
<ellipse cx="400.7" cy="254.6" rx="5.8" ry="8.6" fill="#e8a8bc" fill-opacity="0.9" transform="rotate(18 400.7 254.6)"/>
<ellipse cx="400.5" cy="259" rx="5.8" ry="8.6" fill="#d08aa6" fill-opacity="0.85" transform="rotate(18 400.5 259)"/>
<ellipse cx="400.7" cy="265.9" rx="5.8" ry="8.6" fill="#d080aa" fill-opacity="0.9" transform="rotate(18 400.7 265.9)"/>
<ellipse cx="402" cy="261.3" rx="5.8" ry="8.6" fill="#bb5ce0" fill-opacity="0.85" transform="rotate(18 402 261.3)"/>
<polygon points="405.38,258.4 449.18,233 449.18,300.3 405.38,325.3" fill="#fff" stroke="#b0307c" stroke-width="1.15" stroke-linejoin="miter"/>
<ellipse cx="439.6" cy="249.2" rx="5.8" ry="8.6" fill="#f7dde7" fill-opacity="1" transform="rotate(18 439.6 249.2)"/>
<ellipse cx="439.8" cy="253.6" rx="5.8" ry="8.6" fill="#f0b4c4" fill-opacity="0.95" transform="rotate(18 439.8 253.6)"/>
<ellipse cx="440.2" cy="259" rx="5.8" ry="8.6" fill="#d48c9e" fill-opacity="0.85" transform="rotate(18 440.2 259)"/>
<ellipse cx="439.6" cy="274.2" rx="5.8" ry="8.6" fill="#d27cb0" fill-opacity="0.9" transform="rotate(18 439.6 274.2)"/>
<ellipse cx="440.6" cy="268.3" rx="5.8" ry="8.6" fill="#cf68ee" fill-opacity="0.88" transform="rotate(18 440.6 268.3)"/>
<polygon points="444.22,258.4 488.02,233 488.02,300.3 444.22,325.3" fill="#fff" stroke="#b06ab2" stroke-width="1.15" stroke-linejoin="miter"/>
<ellipse cx="478.7" cy="271" rx="5.4" ry="8.6" fill="#b455cc" fill-opacity="1" transform="rotate(20 478.7 271)"/>
<polygon points="483.06,258.4 526.86,233 526.86,300.3 483.06,325.3" fill="#fff" stroke="#b06ab2" stroke-width="1.15" stroke-linejoin="miter"/>
<ellipse cx="517.9" cy="269.7" rx="5.4" ry="8.6" fill="#b455cc" fill-opacity="1" transform="rotate(20 517.9 269.7)"/>
<polygon points="521.9,258.4 565.7,233 565.7,300.3 521.9,325.3" fill="#fff" stroke="#e2544f" stroke-width="1.15" stroke-linejoin="miter"/>
<ellipse cx="556.9" cy="269.2" rx="6" ry="10.4" fill="#f3cddb" fill-opacity="0.9" transform="rotate(24 556.9 269.2)"/>
<ellipse cx="550.3" cy="284" rx="6" ry="10.4" fill="#e68aa6" fill-opacity="0.9" transform="rotate(24 550.3 284)"/>
<ellipse cx="542.7" cy="298.2" rx="6" ry="10.4" fill="#c262bb" fill-opacity="0.9" transform="rotate(24 542.7 298.2)"/>
<polygon points="560.74,258.4 604.54,233 604.54,300.3 560.74,325.3" fill="#fff" stroke="#e2544f" stroke-width="1.15" stroke-linejoin="miter"/>
<ellipse cx="589.6" cy="284" rx="6" ry="10.4" fill="#f7dde7" fill-opacity="0.95" transform="rotate(24 589.6 284)"/>
<ellipse cx="581.7" cy="298.2" rx="6" ry="10.4" fill="#f3cddb" fill-opacity="0.9" transform="rotate(24 581.7 298.2)"/>
<ellipse cx="572.6" cy="301.9" rx="6" ry="10.4" fill="#e0829a" fill-opacity="0.9" transform="rotate(24 572.6 301.9)"/>
<ellipse cx="568.9" cy="292.5" rx="6" ry="10.4" fill="#b04c96" fill-opacity="0.85" transform="rotate(24 568.9 292.5)"/>
<polygon points="599.58,258.4 643.38,233 643.38,300.3 599.58,325.3" fill="#fff" stroke="#e2544f" stroke-width="1.15" stroke-linejoin="miter"/>
<ellipse cx="610.1" cy="303.3" rx="6" ry="10.4" fill="#f7dde7" fill-opacity="0.95" transform="rotate(24 610.1 303.3)"/>
<ellipse cx="608.1" cy="293.4" rx="6" ry="10.4" fill="#f3cddb" fill-opacity="0.9" transform="rotate(24 608.1 293.4)"/>
<ellipse cx="609" cy="280.6" rx="6" ry="10.4" fill="#d4687f" fill-opacity="0.85" transform="rotate(24 609 280.6)"/>
<ellipse cx="614.4" cy="264.9" rx="6" ry="10.4" fill="#b455cc" fill-opacity="0.9" transform="rotate(24 614.4 264.9)"/>
<path d="M315.1 246.5 V326.1" fill="none" stroke="#000" stroke-width="2.3"/>
<path d="M313.95 326.1 L676.4 327" fill="none" stroke="#000" stroke-width="2.5"/>
<polygon points="315.1,242.5 311.9,248.7 318.3,248.7" fill="#000"/>
<polygon points="680.4,327 674.6,324 674.6,330" fill="#000"/>
<text x="480" y="341" font-size="14" text-anchor="middle" fill="#111111" >Bio-inspired sensor</text>
<text x="660.6" y="343.3" font-size="14.3" text-anchor="middle" fill="#111111" >Time</text>
<polygon points="330.7,369.6 374.9,344.2 374.9,413 330.7,438.4" fill="#fff" stroke="#a85ca2" stroke-width="1.15"/>
<ellipse cx="365.7" cy="369.4" rx="6" ry="10" fill="#b95fd0" fill-opacity="1" transform="rotate(18 365.7 369.4)"/>
<polygon points="369.5,369.6 413.7,344.2 413.7,413 369.5,438.4" fill="#fff" stroke="#a85ca2" stroke-width="1.15"/>
<ellipse cx="405.1" cy="375.3" rx="6" ry="10" fill="#b95fd0" fill-opacity="1" transform="rotate(18 405.1 375.3)"/>
<polygon points="408.3,369.6 452.5,344.2 452.5,413 408.3,438.4" fill="#fff" stroke="#a85ca2" stroke-width="1.15"/>
<ellipse cx="443.6" cy="382.6" rx="6" ry="10" fill="#b95fd0" fill-opacity="1" transform="rotate(18 443.6 382.6)"/>
<polygon points="447.1,369.6 491.3,344.2 491.3,413 447.1,438.4" fill="#fff" stroke="#a85ca2" stroke-width="1.15"/>
<ellipse cx="482.5" cy="382.6" rx="6" ry="10" fill="#b95fd0" fill-opacity="1" transform="rotate(18 482.5 382.6)"/>
<polygon points="485.9,369.6 530.1,344.2 530.1,413 485.9,438.4" fill="#fff" stroke="#a85ca2" stroke-width="1.15"/>
<ellipse cx="520.9" cy="382.7" rx="6" ry="10" fill="#b95fd0" fill-opacity="1" transform="rotate(18 520.9 382.7)"/>
<polygon points="524.7,369.6 568.9,344.2 568.9,413 524.7,438.4" fill="#fff" stroke="#a85ca2" stroke-width="1.15"/>
<ellipse cx="545.5" cy="410.3" rx="6" ry="10" fill="#b95fd0" fill-opacity="1" transform="rotate(18 545.5 410.3)"/>
<polygon points="563.5,369.6 607.7,344.2 607.7,413 563.5,438.4" fill="#fff" stroke="#a85ca2" stroke-width="1.15"/>
<ellipse cx="572" cy="404" rx="6" ry="10" fill="#b95fd0" fill-opacity="1" transform="rotate(18 572 404)"/>
<polygon points="602.3,369.6 646.5,344.2 646.5,413 602.3,438.4" fill="#fff" stroke="#a85ca2" stroke-width="1.15"/>
<ellipse cx="617.2" cy="377" rx="6" ry="10" fill="#b95fd0" fill-opacity="1" transform="rotate(18 617.2 377)"/>
<path d="M316 359.7 V439" fill="none" stroke="#000" stroke-width="2.3"/>
<path d="M314.85 439 L677.5 440.2" fill="none" stroke="#000" stroke-width="2.5"/>
<polygon points="316,355.7 312.8,361.9 319.2,361.9" fill="#000"/>
<polygon points="681.5,440.2 675.7,437.2 675.7,443.2" fill="#000"/>
<text x="493.2" y="457.1" font-size="14.2" text-anchor="middle" fill="#111111" >Conventional sensor</text>
<text x="662.8" y="457.2" font-size="14.3" text-anchor="middle" fill="#111111" >Time</text></g>
<defs><linearGradient id="gNode" x1="0" y1="0" x2="0" y2="1"><stop offset="0" stop-color="#fff" stop-opacity="0.2"/><stop offset="0.5" stop-color="#fff" stop-opacity="0"/><stop offset="1" stop-color="#000" stop-opacity="0.07"/></linearGradient></defs>
<g id="pe"><text x="8.3" y="498.4" font-size="17.6" text-anchor="middle" fill="#111111" >e</text>
<rect x="27.2" y="508.2" width="120.5" height="150.2" rx="14" fill="none" stroke="#cc2020" stroke-width="1.9" stroke-dasharray="9.6 4 1.9 4"/>
<text x="99.7" y="521.5" font-size="13.8" text-anchor="middle" fill="#111111" >Input video</text>
<rect x="31.9" y="529.2" width="49.6" height="51.2" fill="#fff" stroke="#333" stroke-width="1.1"/>
<text x="62.7" y="539.9" font-size="9" text-anchor="middle" fill="#111111" >V=0m/s</text>
<circle cx="41.5" cy="551.1" r="6.1" fill="#d48fab"/>
<rect x="50.7" y="548.6" width="49.6" height="51.2" fill="#fff" stroke="#333" stroke-width="1.1"/>
<text x="82.5" y="559.3" font-size="9" text-anchor="middle" fill="#111111" >V=1m/s</text>
<path d="M61 570.3 Q63.5 562 73 561.4" fill="none" stroke="#f0432a" stroke-width="1.7"/>
<polygon points="0.6,0 -4.8,-2.5 -4.8,2.5" fill="#f0432a" transform="translate(75.6 561.2) rotate(5)"/>
<path d="M58.8 583.6 Q59.5 592 65 594.6" fill="none" stroke="#5fe03c" stroke-width="1.7" stroke-dasharray="1.7 1.6"/>
<polygon points="0.6,0 -4.8,-2.5 -4.8,2.5" fill="#5fe03c" transform="translate(67.2 595.9) rotate(30)"/>
<circle cx="59.2" cy="576.2" r="6.1" fill="#d48fab"/>
<rect x="70.5" y="569.9" width="49.6" height="51.2" fill="#fff" stroke="#333" stroke-width="1.1"/>
<text x="101" y="580.1" font-size="9" text-anchor="middle" fill="#111111" >V=3m/s</text>
<path d="M89.6 583.6 Q97 579.5 103.6 584.6" fill="none" stroke="#5fe03c" stroke-width="1.7" stroke-dasharray="1.7 1.6"/>
<polygon points="0.6,0 -4.8,-2.5 -4.8,2.5" fill="#5fe03c" transform="translate(105.8 586.2) rotate(38)"/>
<path d="M80.6 593.4 Q77.6 601 83.4 606.6" fill="none" stroke="#f0432a" stroke-width="1.7"/>
<polygon points="0.6,0 -4.8,-2.5 -4.8,2.5" fill="#f0432a" transform="translate(85 608.6) rotate(52)"/>
<circle cx="84.4" cy="586.9" r="6.1" fill="#d48fab"/>
<rect x="91.1" y="589.3" width="49.6" height="51.2" fill="#fff" stroke="#333" stroke-width="1.1"/>
<text x="123.7" y="599.5" font-size="9" text-anchor="middle" fill="#111111" >V=5m/s</text>
<path d="M110 604 Q119 602 123 609.6" fill="none" stroke="#f0432a" stroke-width="1.7"/>
<polygon points="0.6,0 -4.8,-2.5 -4.8,2.5" fill="#f0432a" transform="translate(124.4 612.4) rotate(62)"/>
<path d="M100.9 611.2 Q94 619 102.4 626.4" fill="none" stroke="#5fe03c" stroke-width="1.7" stroke-dasharray="1.7 1.6"/>
<polygon points="0.6,0 -4.8,-2.5 -4.8,2.5" fill="#5fe03c" transform="translate(104.8 628) rotate(32)"/>
<circle cx="104.8" cy="604.2" r="6.1" fill="#d48fab"/>
<polygon points="151.3,574.6 167.6,574.6 167.6,567 182.8,582.4 167.6,597.8 167.6,590.2 151.3,590.2" fill="#d05a66"/>
<polygon points="184.5,528.2 244.1,493.8 244.1,623.6 184.5,659.4" fill="#fff" stroke="#111" stroke-width="1.5"/>
<ellipse cx="201.4" cy="618.2" rx="8.4" ry="17.6" fill="#e89ab2" fill-opacity="0.9" transform="rotate(8 201.4 618.2)"/>
<ellipse cx="211.7" cy="613.3" rx="8.4" ry="17.6" fill="#f1c3d2" fill-opacity="0.85" transform="rotate(5 211.7 613.3)"/>
<ellipse cx="196.3" cy="597.3" rx="8.4" ry="18.2" fill="#c97fc0" fill-opacity="0.9" transform="rotate(8 196.3 597.3)"/>
<polygon points="215.6,532.6 277,496.7 277,627.4 215.6,663.1" fill="#fff" stroke="#111" stroke-width="1.5"/>
<ellipse cx="231.4" cy="622.1" rx="8.6" ry="17.8" fill="#f5dae6" fill-opacity="0.95" transform="rotate(8 231.4 622.1)"/>
<ellipse cx="228.1" cy="600.2" rx="8.6" ry="17.8" fill="#f1c6d6" fill-opacity="0.9" transform="rotate(8 228.1 600.2)"/>
<ellipse cx="229.6" cy="576.5" rx="8.6" ry="17.8" fill="#e594ae" fill-opacity="0.9" transform="rotate(8 229.6 576.5)"/>
<ellipse cx="236.9" cy="550.6" rx="8.6" ry="18.2" fill="#c877c8" fill-opacity="0.92" transform="rotate(10 236.9 550.6)"/>
<circle cx="253.8" cy="495.8" r="1.45" fill="#111"/>
<circle cx="258.8" cy="495.8" r="1.45" fill="#111"/>
<circle cx="263.8" cy="495.8" r="1.45" fill="#111"/>
<circle cx="193.5" cy="664.9" r="1.45" fill="#111"/>
<circle cx="198.5" cy="664.9" r="1.45" fill="#111"/>
<circle cx="203.5" cy="664.9" r="1.45" fill="#111"/>
<text x="227.4" y="695.8" font-size="16.9" text-anchor="middle" fill="#111111" >Spatiotemporal</text>
<text x="227.6" y="716" font-size="16.9" text-anchor="middle" fill="#111111" >frame</text>
<path d="M313.8 491.1 L350.2 511.1 M313.8 491.1 L350.2 539.8 M313.8 491.1 L350.2 568.4 M313.8 491.1 L350.2 597.1 M313.8 491.1 L350.2 638.5 M313.8 491.1 L350.2 667.6 M313.8 520 L350.2 511.1 M313.8 520 L350.2 539.8 M313.8 520 L350.2 568.4 M313.8 520 L350.2 597.1 M313.8 520 L350.2 638.5 M313.8 520 L350.2 667.6 M313.8 548.7 L350.2 511.1 M313.8 548.7 L350.2 539.8 M313.8 548.7 L350.2 568.4 M313.8 548.7 L350.2 597.1 M313.8 548.7 L350.2 638.5 M313.8 548.7 L350.2 667.6 M313.8 578.2 L350.2 511.1 M313.8 578.2 L350.2 539.8 M313.8 578.2 L350.2 568.4 M313.8 578.2 L350.2 597.1 M313.8 578.2 L350.2 638.5 M313.8 578.2 L350.2 667.6 M313.8 607.5 L350.2 511.1 M313.8 607.5 L350.2 539.8 M313.8 607.5 L350.2 568.4 M313.8 607.5 L350.2 597.1 M313.8 607.5 L350.2 638.5 M313.8 607.5 L350.2 667.6 M313.8 647.2 L350.2 511.1 M313.8 647.2 L350.2 539.8 M313.8 647.2 L350.2 568.4 M313.8 647.2 L350.2 597.1 M313.8 647.2 L350.2 638.5 M313.8 647.2 L350.2 667.6 M313.8 676.2 L350.2 511.1 M313.8 676.2 L350.2 539.8 M313.8 676.2 L350.2 568.4 M313.8 676.2 L350.2 597.1 M313.8 676.2 L350.2 638.5 M313.8 676.2 L350.2 667.6 M369.4 511.1 L404.7 521.9 M369.4 511.1 L404.7 549.7 M369.4 511.1 L404.7 578.5 M369.4 511.1 L404.7 618.1 M369.4 511.1 L404.7 645.9 M369.4 539.8 L404.7 521.9 M369.4 539.8 L404.7 549.7 M369.4 539.8 L404.7 578.5 M369.4 539.8 L404.7 618.1 M369.4 539.8 L404.7 645.9 M369.4 568.4 L404.7 521.9 M369.4 568.4 L404.7 549.7 M369.4 568.4 L404.7 578.5 M369.4 568.4 L404.7 618.1 M369.4 568.4 L404.7 645.9 M369.4 597.1 L404.7 521.9 M369.4 597.1 L404.7 549.7 M369.4 597.1 L404.7 578.5 M369.4 597.1 L404.7 618.1 M369.4 597.1 L404.7 645.9 M369.4 638.5 L404.7 521.9 M369.4 638.5 L404.7 549.7 M369.4 638.5 L404.7 578.5 M369.4 638.5 L404.7 618.1 M369.4 638.5 L404.7 645.9 M369.4 667.6 L404.7 521.9 M369.4 667.6 L404.7 549.7 M369.4 667.6 L404.7 578.5 M369.4 667.6 L404.7 618.1 M369.4 667.6 L404.7 645.9" fill="none" stroke="#b9606f" stroke-width="0.55"/>
<circle cx="304.2" cy="491.6" r="10.3" fill="#8a8a8a" opacity="0.5" filter="url(#blur1)"/><circle cx="304.2" cy="491.1" r="9.5" fill="#a9cfe8" stroke="#a3a3a3" stroke-width="0.8"/><circle cx="304.2" cy="491.1" r="9.1" fill="url(#gNode)"/>
<circle cx="304.2" cy="520.5" r="10.3" fill="#8a8a8a" opacity="0.5" filter="url(#blur1)"/><circle cx="304.2" cy="520" r="9.5" fill="#7f9ed6" stroke="#a3a3a3" stroke-width="0.8"/><circle cx="304.2" cy="520" r="9.1" fill="url(#gNode)"/>
<circle cx="304.2" cy="549.2" r="10.3" fill="#8a8a8a" opacity="0.5" filter="url(#blur1)"/><circle cx="304.2" cy="548.7" r="9.5" fill="#6276c8" stroke="#a3a3a3" stroke-width="0.8"/><circle cx="304.2" cy="548.7" r="9.1" fill="url(#gNode)"/>
<circle cx="304.2" cy="578.7" r="10.3" fill="#8a8a8a" opacity="0.5" filter="url(#blur1)"/><circle cx="304.2" cy="578.2" r="9.5" fill="#4b58b6" stroke="#a3a3a3" stroke-width="0.8"/><circle cx="304.2" cy="578.2" r="9.1" fill="url(#gNode)"/>
<circle cx="304.2" cy="608" r="10.3" fill="#8a8a8a" opacity="0.5" filter="url(#blur1)"/><circle cx="304.2" cy="607.5" r="9.5" fill="#5868c0" stroke="#a3a3a3" stroke-width="0.8"/><circle cx="304.2" cy="607.5" r="9.1" fill="url(#gNode)"/>
<circle cx="304.2" cy="647.7" r="10.3" fill="#8a8a8a" opacity="0.5" filter="url(#blur1)"/><circle cx="304.2" cy="647.2" r="9.5" fill="#7f9ed6" stroke="#a3a3a3" stroke-width="0.8"/><circle cx="304.2" cy="647.2" r="9.1" fill="url(#gNode)"/>
<circle cx="304.2" cy="676.7" r="10.3" fill="#8a8a8a" opacity="0.5" filter="url(#blur1)"/><circle cx="304.2" cy="676.2" r="9.5" fill="#a3c8e6" stroke="#a3a3a3" stroke-width="0.8"/><circle cx="304.2" cy="676.2" r="9.1" fill="url(#gNode)"/>
<circle cx="359.8" cy="511.6" r="10.3" fill="#8a8a8a" opacity="0.5" filter="url(#blur1)"/><circle cx="359.8" cy="511.1" r="9.5" fill="#d9efd4" stroke="#a3a3a3" stroke-width="0.8"/><circle cx="359.8" cy="511.1" r="9.1" fill="url(#gNode)"/>
<circle cx="359.8" cy="540.3" r="10.3" fill="#8a8a8a" opacity="0.5" filter="url(#blur1)"/><circle cx="359.8" cy="539.8" r="9.5" fill="#c3e8c8" stroke="#a3a3a3" stroke-width="0.8"/><circle cx="359.8" cy="539.8" r="9.1" fill="url(#gNode)"/>
<circle cx="359.8" cy="568.9" r="10.3" fill="#8a8a8a" opacity="0.5" filter="url(#blur1)"/><circle cx="359.8" cy="568.4" r="9.5" fill="#a6deba" stroke="#a3a3a3" stroke-width="0.8"/><circle cx="359.8" cy="568.4" r="9.1" fill="url(#gNode)"/>
<circle cx="359.8" cy="597.6" r="10.3" fill="#8a8a8a" opacity="0.5" filter="url(#blur1)"/><circle cx="359.8" cy="597.1" r="9.5" fill="#8bd4a5" stroke="#a3a3a3" stroke-width="0.8"/><circle cx="359.8" cy="597.1" r="9.1" fill="url(#gNode)"/>
<circle cx="359.8" cy="639" r="10.3" fill="#8a8a8a" opacity="0.5" filter="url(#blur1)"/><circle cx="359.8" cy="638.5" r="9.5" fill="#c0e7c6" stroke="#a3a3a3" stroke-width="0.8"/><circle cx="359.8" cy="638.5" r="9.1" fill="url(#gNode)"/>
<circle cx="359.8" cy="668.1" r="10.3" fill="#8a8a8a" opacity="0.5" filter="url(#blur1)"/><circle cx="359.8" cy="667.6" r="9.5" fill="#d6eed0" stroke="#a3a3a3" stroke-width="0.8"/><circle cx="359.8" cy="667.6" r="9.1" fill="url(#gNode)"/>
<circle cx="414.3" cy="522.4" r="10.3" fill="#8a8a8a" opacity="0.5" filter="url(#blur1)"/><circle cx="414.3" cy="521.9" r="9.5" fill="#e7f592" stroke="#a3a3a3" stroke-width="0.8"/><circle cx="414.3" cy="521.9" r="9.1" fill="url(#gNode)"/>
<circle cx="414.3" cy="550.2" r="10.3" fill="#8a8a8a" opacity="0.5" filter="url(#blur1)"/><circle cx="414.3" cy="549.7" r="9.5" fill="#ece57c" stroke="#a3a3a3" stroke-width="0.8"/><circle cx="414.3" cy="549.7" r="9.1" fill="url(#gNode)"/>
<circle cx="414.3" cy="579" r="10.3" fill="#8a8a8a" opacity="0.5" filter="url(#blur1)"/><circle cx="414.3" cy="578.5" r="9.5" fill="#ecd272" stroke="#a3a3a3" stroke-width="0.8"/><circle cx="414.3" cy="578.5" r="9.1" fill="url(#gNode)"/>
<circle cx="414.3" cy="618.6" r="10.3" fill="#8a8a8a" opacity="0.5" filter="url(#blur1)"/><circle cx="414.3" cy="618.1" r="9.5" fill="#e9e27c" stroke="#a3a3a3" stroke-width="0.8"/><circle cx="414.3" cy="618.1" r="9.1" fill="url(#gNode)"/>
<circle cx="414.3" cy="646.4" r="10.3" fill="#8a8a8a" opacity="0.5" filter="url(#blur1)"/><circle cx="414.3" cy="645.9" r="9.5" fill="#e6f594" stroke="#a3a3a3" stroke-width="0.8"/><circle cx="414.3" cy="645.9" r="9.1" fill="url(#gNode)"/>
<circle cx="304.2" cy="621.6" r="1.3" fill="#6a92dc"/>
<circle cx="304.2" cy="627.1" r="1.3" fill="#6a92dc"/>
<circle cx="304.2" cy="632.5" r="1.3" fill="#6a92dc"/>
<circle cx="359.8" cy="613.4" r="1.3" fill="#a6cff2"/>
<circle cx="359.8" cy="618.6" r="1.3" fill="#a6cff2"/>
<circle cx="359.8" cy="623.9" r="1.3" fill="#a6cff2"/>
<circle cx="414.3" cy="592.7" r="1.3" fill="#f1b384"/>
<circle cx="414.3" cy="598" r="1.3" fill="#f1b384"/>
<circle cx="414.3" cy="603.3" r="1.3" fill="#f1b384"/>
<path d="M425.3 520.6 H436.8" stroke="#111" stroke-width="1.1"/><polygon points="440.1,520.6 435.9,518.9 435.9,522.3" fill="#111"/>
<path d="M425.3 549.6 H436.8" stroke="#111" stroke-width="1.1"/><polygon points="440.1,549.6 435.9,547.9 435.9,551.3" fill="#111"/>
<path d="M425.3 578.3 H436.8" stroke="#111" stroke-width="1.1"/><polygon points="440.1,578.3 435.9,576.6 435.9,580" fill="#111"/>
<path d="M425.3 619.2 H436.8" stroke="#111" stroke-width="1.1"/><polygon points="440.1,619.2 435.9,617.5 435.9,620.9" fill="#111"/>
<path d="M425.3 647.7 H436.8" stroke="#111" stroke-width="1.1"/><polygon points="440.1,647.7 435.9,646 435.9,649.4" fill="#111"/>
<text x="304" y="474.8" font-size="14.3" text-anchor="middle" fill="#111111" >32x32</text>
<text x="358.9" y="495.5" font-size="14.2" text-anchor="middle" fill="#111111" >100</text>
<text x="414.2" y="507" font-size="14.2" text-anchor="middle" fill="#111111" >7</text>
<text x="457.5" y="583.4" font-size="16.9" text-anchor="middle" fill="#111111" transform="rotate(-90 457.5 583.4)" >Direction &amp; Speed</text>
<text x="417.8" y="670" font-size="12.6" text-anchor="middle" fill="#111111" >Output</text>
<text x="417.8" y="685.3" font-size="12.6" text-anchor="middle" fill="#111111" >layer</text>
<text x="365" y="690" font-size="12.6" text-anchor="middle" fill="#111111" >Hidden</text>
<text x="365" y="705.3" font-size="12.6" text-anchor="middle" fill="#111111" >layer</text>
<text x="306.8" y="702" font-size="12.6" text-anchor="middle" fill="#111111" >Input</text>
<text x="306.8" y="717.3" font-size="12.6" text-anchor="middle" fill="#111111" >layer</text></g>
<g id="pf"><text x="482.6" y="497" font-size="18.8" text-anchor="middle" fill="#111111" >f</text>
<line x1="528.3" x2="530.6" y1="680.4" y2="680.4" stroke="#7a7a7a" stroke-width="0.9"/>
<text x="526" y="684.5" font-size="11.8" text-anchor="end" fill="#111111" >0</text>
<line x1="528.3" x2="530.6" y1="643.26" y2="643.26" stroke="#7a7a7a" stroke-width="0.9"/>
<text x="526" y="647.36" font-size="11.8" text-anchor="end" fill="#111111" >20</text>
<line x1="528.3" x2="530.6" y1="606.12" y2="606.12" stroke="#7a7a7a" stroke-width="0.9"/>
<text x="526" y="610.22" font-size="11.8" text-anchor="end" fill="#111111" >40</text>
<line x1="528.3" x2="530.6" y1="568.98" y2="568.98" stroke="#7a7a7a" stroke-width="0.9"/>
<text x="526" y="573.08" font-size="11.8" text-anchor="end" fill="#111111" >60</text>
<line x1="528.3" x2="530.6" y1="531.84" y2="531.84" stroke="#7a7a7a" stroke-width="0.9"/>
<text x="526" y="535.94" font-size="11.8" text-anchor="end" fill="#111111" >80</text>
<line x1="528.3" x2="530.6" y1="494.7" y2="494.7" stroke="#7a7a7a" stroke-width="0.9"/>
<text x="526" y="498.8" font-size="11.8" text-anchor="end" fill="#111111" >100</text>
<line x1="529.4" x2="530.6" y1="661.83" y2="661.83" stroke="#7a7a7a" stroke-width="0.9"/>
<line x1="529.4" x2="530.6" y1="624.69" y2="624.69" stroke="#7a7a7a" stroke-width="0.9"/>
<line x1="529.4" x2="530.6" y1="587.55" y2="587.55" stroke="#7a7a7a" stroke-width="0.9"/>
<line x1="529.4" x2="530.6" y1="550.41" y2="550.41" stroke="#7a7a7a" stroke-width="0.9"/>
<line x1="529.4" x2="530.6" y1="513.27" y2="513.27" stroke="#7a7a7a" stroke-width="0.9"/>
<line x1="530.6" x2="530.6" y1="680.4" y2="682.7" stroke="#7a7a7a" stroke-width="0.9"/>
<text x="530.6" y="694.6" font-size="11.8" text-anchor="middle" fill="#111111" >0</text>
<line x1="573.3" x2="573.3" y1="680.4" y2="682.7" stroke="#7a7a7a" stroke-width="0.9"/>
<text x="573.3" y="694.6" font-size="11.8" text-anchor="middle" fill="#111111" >10</text>
<line x1="616" x2="616" y1="680.4" y2="682.7" stroke="#7a7a7a" stroke-width="0.9"/>
<text x="616" y="694.6" font-size="11.8" text-anchor="middle" fill="#111111" >20</text>
<line x1="658.7" x2="658.7" y1="680.4" y2="682.7" stroke="#7a7a7a" stroke-width="0.9"/>
<text x="658.7" y="694.6" font-size="11.8" text-anchor="middle" fill="#111111" >30</text>
<line x1="551.95" x2="551.95" y1="680.4" y2="681.6" stroke="#7a7a7a" stroke-width="0.9"/>
<line x1="594.65" x2="594.65" y1="680.4" y2="681.6" stroke="#7a7a7a" stroke-width="0.9"/>
<line x1="637.35" x2="637.35" y1="680.4" y2="681.6" stroke="#7a7a7a" stroke-width="0.9"/>
<line x1="680.05" x2="680.05" y1="680.4" y2="681.6" stroke="#7a7a7a" stroke-width="0.9"/>
<rect x="530.6" y="494.6" width="150.3" height="185.8" fill="none" stroke="#7a7a7a" stroke-width="0.9"/>
<polyline fill="none" stroke="#5fdc78" stroke-width="1.5" points="534.87,648.83 539.14,645.12 543.41,647.9 547.68,646.05 551.95,645.12 556.22,644.19 560.49,645.12 564.76,642.33 569.03,639.55 573.3,640.47 577.57,638.62 581.84,639.55 586.11,639.17 590.38,638.62 594.65,638.62 598.92,639.55 603.19,638.62 607.46,638.62 611.73,638.62 616,637.69 620.27,636.76 624.54,635.83 628.81,637.69 633.08,637.32 637.35,638.62 641.62,639.55 645.89,638.06 650.16,638.62 654.43,637.69 658.7,638.62 662.97,639.55 667.24,637.69 671.51,637.32 675.78,637.32 680.05,637.69"/>
<circle cx="534.87" cy="648.83" r="2.55" fill="url(#gGr)"/>
<circle cx="539.14" cy="645.12" r="2.55" fill="url(#gGr)"/>
<circle cx="543.41" cy="647.9" r="2.55" fill="url(#gGr)"/>
<circle cx="547.68" cy="646.05" r="2.55" fill="url(#gGr)"/>
<circle cx="551.95" cy="645.12" r="2.55" fill="url(#gGr)"/>
<circle cx="556.22" cy="644.19" r="2.55" fill="url(#gGr)"/>
<circle cx="560.49" cy="645.12" r="2.55" fill="url(#gGr)"/>
<circle cx="564.76" cy="642.33" r="2.55" fill="url(#gGr)"/>
<circle cx="569.03" cy="639.55" r="2.55" fill="url(#gGr)"/>
<circle cx="573.3" cy="640.47" r="2.55" fill="url(#gGr)"/>
<circle cx="577.57" cy="638.62" r="2.55" fill="url(#gGr)"/>
<circle cx="581.84" cy="639.55" r="2.55" fill="url(#gGr)"/>
<circle cx="586.11" cy="639.17" r="2.55" fill="url(#gGr)"/>
<circle cx="590.38" cy="638.62" r="2.55" fill="url(#gGr)"/>
<circle cx="594.65" cy="638.62" r="2.55" fill="url(#gGr)"/>
<circle cx="598.92" cy="639.55" r="2.55" fill="url(#gGr)"/>
<circle cx="603.19" cy="638.62" r="2.55" fill="url(#gGr)"/>
<circle cx="607.46" cy="638.62" r="2.55" fill="url(#gGr)"/>
<circle cx="611.73" cy="638.62" r="2.55" fill="url(#gGr)"/>
<circle cx="616" cy="637.69" r="2.55" fill="url(#gGr)"/>
<circle cx="620.27" cy="636.76" r="2.55" fill="url(#gGr)"/>
<circle cx="624.54" cy="635.83" r="2.55" fill="url(#gGr)"/>
<circle cx="628.81" cy="637.69" r="2.55" fill="url(#gGr)"/>
<circle cx="633.08" cy="637.32" r="2.55" fill="url(#gGr)"/>
<circle cx="637.35" cy="638.62" r="2.55" fill="url(#gGr)"/>
<circle cx="641.62" cy="639.55" r="2.55" fill="url(#gGr)"/>
<circle cx="645.89" cy="638.06" r="2.55" fill="url(#gGr)"/>
<circle cx="650.16" cy="638.62" r="2.55" fill="url(#gGr)"/>
<circle cx="654.43" cy="637.69" r="2.55" fill="url(#gGr)"/>
<circle cx="658.7" cy="638.62" r="2.55" fill="url(#gGr)"/>
<circle cx="662.97" cy="639.55" r="2.55" fill="url(#gGr)"/>
<circle cx="667.24" cy="637.69" r="2.55" fill="url(#gGr)"/>
<circle cx="671.51" cy="637.32" r="2.55" fill="url(#gGr)"/>
<circle cx="675.78" cy="637.32" r="2.55" fill="url(#gGr)"/>
<circle cx="680.05" cy="637.69" r="2.55" fill="url(#gGr)"/>
<polyline fill="none" stroke="#ee5562" stroke-width="1.5" points="534.87,646.05 539.14,625.62 543.41,618.19 547.68,607.98 551.95,596.84 556.22,591.26 560.49,583.84 564.76,572.69 569.03,568.05 573.3,563.41 577.57,560.62 581.84,550.41 586.11,547.62 590.38,542.05 594.65,539.27 598.92,541.12 603.19,538.34 607.46,539.27 611.73,527.2 616,525.34 620.27,521.63 624.54,520.7 628.81,515.13 633.08,517.91 637.35,521.63 641.62,513.27 645.89,516.06 650.16,507.7 654.43,515.13 658.7,508.63 662.97,503.99 667.24,505.84 671.51,504.91 675.78,503.99 680.05,504.36"/>
<circle cx="534.87" cy="646.05" r="2.95" fill="url(#gRe)"/>
<circle cx="539.14" cy="625.62" r="2.95" fill="url(#gRe)"/>
<circle cx="543.41" cy="618.19" r="2.95" fill="url(#gRe)"/>
<circle cx="547.68" cy="607.98" r="2.95" fill="url(#gRe)"/>
<circle cx="551.95" cy="596.84" r="2.95" fill="url(#gRe)"/>
<circle cx="556.22" cy="591.26" r="2.95" fill="url(#gRe)"/>
<circle cx="560.49" cy="583.84" r="2.95" fill="url(#gRe)"/>
<circle cx="564.76" cy="572.69" r="2.95" fill="url(#gRe)"/>
<circle cx="569.03" cy="568.05" r="2.95" fill="url(#gRe)"/>
<circle cx="573.3" cy="563.41" r="2.95" fill="url(#gRe)"/>
<circle cx="577.57" cy="560.62" r="2.95" fill="url(#gRe)"/>
<circle cx="581.84" cy="550.41" r="2.95" fill="url(#gRe)"/>
<circle cx="586.11" cy="547.62" r="2.95" fill="url(#gRe)"/>
<circle cx="590.38" cy="542.05" r="2.95" fill="url(#gRe)"/>
<circle cx="594.65" cy="539.27" r="2.95" fill="url(#gRe)"/>
<circle cx="598.92" cy="541.12" r="2.95" fill="url(#gRe)"/>
<circle cx="603.19" cy="538.34" r="2.95" fill="url(#gRe)"/>
<circle cx="607.46" cy="539.27" r="2.95" fill="url(#gRe)"/>
<circle cx="611.73" cy="527.2" r="2.95" fill="url(#gRe)"/>
<circle cx="616" cy="525.34" r="2.95" fill="url(#gRe)"/>
<circle cx="620.27" cy="521.63" r="2.95" fill="url(#gRe)"/>
<circle cx="624.54" cy="520.7" r="2.95" fill="url(#gRe)"/>
<circle cx="628.81" cy="515.13" r="2.95" fill="url(#gRe)"/>
<circle cx="633.08" cy="517.91" r="2.95" fill="url(#gRe)"/>
<circle cx="637.35" cy="521.63" r="2.95" fill="url(#gRe)"/>
<circle cx="641.62" cy="513.27" r="2.95" fill="url(#gRe)"/>
<circle cx="645.89" cy="516.06" r="2.95" fill="url(#gRe)"/>
<circle cx="650.16" cy="507.7" r="2.95" fill="url(#gRe)"/>
<circle cx="654.43" cy="515.13" r="2.95" fill="url(#gRe)"/>
<circle cx="658.7" cy="508.63" r="2.95" fill="url(#gRe)"/>
<circle cx="662.97" cy="503.99" r="2.95" fill="url(#gRe)"/>
<circle cx="667.24" cy="505.84" r="2.95" fill="url(#gRe)"/>
<circle cx="671.51" cy="504.91" r="2.95" fill="url(#gRe)"/>
<circle cx="675.78" cy="503.99" r="2.95" fill="url(#gRe)"/>
<circle cx="680.05" cy="504.36" r="2.95" fill="url(#gRe)"/>
<line x1="559" x2="571" y1="597.4" y2="597.4" stroke="#ee5562" stroke-width="1.3"/><circle cx="565" cy="597.4" r="2.85" fill="url(#gRe)"/>
<text x="572.6" y="601.7" font-size="11.9" text-anchor="start" fill="#111111" >Our device</text>
<line x1="559" x2="571" y1="611.9" y2="611.9" stroke="#5fdc78" stroke-width="1.3"/><circle cx="565" cy="611.9" r="2.85" fill="url(#gGr)"/>
<text x="572.6" y="616.2" font-size="11.9" text-anchor="start" fill="#111111" >Conventional device</text>
<text x="605.6" y="712.5" font-size="14.6" text-anchor="middle" fill="#111111" >Training epochs</text>
<text x="502.5" y="588.5" font-size="14.6" text-anchor="middle" fill="#111111" transform="rotate(-90 502.5 588.5)" >Accuracy (%)</text></g>
<g id="pg"><text x="5.9" y="741.4" font-size="17.2" text-anchor="middle" fill="#111111" >g</text>
<text x="126.5" y="753.8" font-size="16.4" text-anchor="middle" fill="#111111" >0.1 km h<tspan font-size="68%" dy="-5.6">−1</tspan></text>
<text x="352" y="753.8" font-size="16.4" text-anchor="middle" fill="#111111" >1 km h<tspan font-size="68%" dy="-5.6">−1</tspan></text>
<text x="594" y="753.8" font-size="16.4" text-anchor="middle" fill="#111111" >10 km h<tspan font-size="68%" dy="-5.6">−1</tspan></text>
<defs><filter id="noise" x="0" y="0" width="100%" height="100%"><feTurbulence type="fractalNoise" baseFrequency="0.9" numOctaves="2" seed="3" result="n"/><feColorMatrix in="n" type="matrix" values="0 0 0 0 0  0 0 0 0 0  0 0 0 0 0  0.55 0.55 0.55 0 -0.83" result="a"/><feFlood flood-color="#3a3a3a"/><feComposite in2="a" operator="in"/></filter><filter id="bl" x="-5%" y="-5%" width="110%" height="110%"><feTurbulence type="fractalNoise" baseFrequency="0.12" numOctaves="2" seed="8" result="t"/><feDisplacementMap in="SourceGraphic" in2="t" scale="9" xChannelSelector="R" yChannelSelector="G" result="d"/><feGaussianBlur in="d" stdDeviation="1.1" result="b"/><feComponentTransfer in="b"><feFuncR type="linear" slope="1.14"/><feFuncG type="linear" slope="1.14"/><feFuncB type="linear" slope="1.14"/></feComponentTransfer></filter></defs>
<rect x="34.6" y="759" width="177" height="104.6" fill="#030303"/>
<rect x="34.6" y="759" width="177" height="104.6" filter="url(#noise)"/>
<clipPath id="cg0"><rect x="34.6" y="759" width="177" height="104.6"/></clipPath>
<g clip-path="url(#cg0)"><g transform="translate(30 755) scale(0.27)" filter="url(#bl)" style="filter:url(#bl)"><polygon points="150,255 40,312 20,335 50,396 130,402 192,396 178,260" fill="#171717" opacity="1"/><polygon points="18,215 40,195 60,192 85,210 105,235 128,248 125,268 100,285 60,293 18,290" fill="#4a4a4a" opacity="1"/><polygon points="40,262 75,256 108,262 100,279 55,285" fill="#7c7c7c" opacity="1"/><polygon points="26,222 58,212 80,232 42,244" fill="#5e5e5e" opacity="1"/><polygon points="178,238 200,222 240,212 270,214 281,232 272,255 240,266 200,272 180,262" fill="#8c8c8c" opacity="1"/><polygon points="215,247 262,234 276,248 246,264 215,268" fill="#686868" opacity="1"/><circle cx="255" cy="226" r="2.8" fill="#151515"/><circle cx="263" cy="240" r="2.8" fill="#151515"/><circle cx="246" cy="254" r="2.8" fill="#151515"/><circle cx="268" cy="222" r="2.8" fill="#151515"/><polygon points="138,232 170,226 182,244 168,262 140,256" fill="#a8a8a8" opacity="1"/><circle cx="166" cy="241" r="6" fill="#e8e8e8"/><polyline points="141,158 139,232" fill="none" stroke="#a4a4a4" stroke-width="4.4" stroke-linecap="round"/><polyline points="150,256 100,288 25,326" fill="none" stroke="#c8c8c8" stroke-width="3" stroke-linecap="round" stroke-dasharray="16 5"/><polyline points="145,264 85,300 35,335" fill="none" stroke="#8a8a8a" stroke-width="2.6" stroke-linecap="round" stroke-dasharray="9 6"/><polyline points="150,264 100,325 58,390" fill="none" stroke="#dadada" stroke-width="3" stroke-linecap="round" stroke-dasharray="18 6"/><polyline points="152,266 112,338 86,398" fill="none" stroke="#9c9c9c" stroke-width="3" stroke-linecap="round" stroke-dasharray="12 6"/><polyline points="158,266 128,330 120,400" fill="none" stroke="#c2c2c2" stroke-width="3.6" stroke-linecap="round" stroke-dasharray="22 6"/><polyline points="164,265 158,300 152,345" fill="none" stroke="#e2e2e2" stroke-width="2.8" stroke-linecap="round" stroke-dasharray="10 5"/><polyline points="170,262 182,320 188,395" fill="none" stroke="#c4c4c4" stroke-width="2.6" stroke-linecap="round" stroke-dasharray="12 8"/><polyline points="135,270 80,345 70,380" fill="none" stroke="#7a7a7a" stroke-width="2.6" stroke-linecap="round" stroke-dasharray="7 7"/><polyline points="118,262 166,250" fill="none" stroke="#f2f2f2" stroke-width="3.4" stroke-linecap="round"/><line x1="137.9" y1="320.4" x2="129.5" y2="321.9" stroke="#111" stroke-width="2.2" stroke-linecap="round"/><line x1="139.9" y1="347.1" x2="132.7" y2="349.4" stroke="#f0f0f0" stroke-width="2.7" stroke-linecap="round"/><line x1="131.7" y1="276.4" x2="134.3" y2="279.0" stroke="#d0d0d0" stroke-width="2.8" stroke-linecap="round"/><line x1="113.2" y1="374.1" x2="109.0" y2="378.0" stroke="#f0f0f0" stroke-width="2.4" stroke-linecap="round"/><line x1="95.2" y1="291.3" x2="92.4" y2="292.5" stroke="#d0d0d0" stroke-width="3.3" stroke-linecap="round"/><line x1="73.9" y1="349.1" x2="69.9" y2="350.8" stroke="#d0d0d0" stroke-width="2.5" stroke-linecap="round"/><line x1="139.2" y1="266.1" x2="140.0" y2="269.1" stroke="#d0d0d0" stroke-width="2.6" stroke-linecap="round"/><line x1="121.1" y1="355.5" x2="119.0" y2="362.3" stroke="#a0a0a0" stroke-width="2.3" stroke-linecap="round"/><line x1="87.7" y1="328.3" x2="94.3" y2="332.6" stroke="#777" stroke-width="3.2" stroke-linecap="round"/><line x1="124.6" y1="284.4" x2="131.6" y2="284.6" stroke="#f0f0f0" stroke-width="3.2" stroke-linecap="round"/><line x1="152.6" y1="330.5" x2="155.4" y2="333.2" stroke="#777" stroke-width="2.7" stroke-linecap="round"/><line x1="102.7" y1="338.9" x2="110.7" y2="341.7" stroke="#a0a0a0" stroke-width="3.4" stroke-linecap="round"/><line x1="70.1" y1="358.5" x2="63.1" y2="360.4" stroke="#a0a0a0" stroke-width="2.6" stroke-linecap="round"/><line x1="99.3" y1="280.4" x2="103.7" y2="286.8" stroke="#f0f0f0" stroke-width="3.1" stroke-linecap="round"/><line x1="115.6" y1="288.9" x2="111.5" y2="293.8" stroke="#f0f0f0" stroke-width="3.6" stroke-linecap="round"/><line x1="108.1" y1="313.8" x2="106.7" y2="318.3" stroke="#a0a0a0" stroke-width="2.8" stroke-linecap="round"/><line x1="75.5" y1="309.1" x2="84.9" y2="310.0" stroke="#777" stroke-width="2.7" stroke-linecap="round"/><line x1="91.6" y1="297.4" x2="94.1" y2="306.3" stroke="#d0d0d0" stroke-width="2.8" stroke-linecap="round"/><line x1="109.2" y1="376.5" x2="109.9" y2="381.5" stroke="#111" stroke-width="3.4" stroke-linecap="round"/><line x1="144.8" y1="268.3" x2="140.6" y2="273.1" stroke="#777" stroke-width="2.6" stroke-linecap="round"/><line x1="137.4" y1="344.6" x2="134.2" y2="346.6" stroke="#111" stroke-width="3.5" stroke-linecap="round"/><line x1="121.6" y1="308.2" x2="126.7" y2="309.7" stroke="#a0a0a0" stroke-width="2.9" stroke-linecap="round"/><line x1="115.8" y1="316.9" x2="113.1" y2="319.0" stroke="#a0a0a0" stroke-width="3.2" stroke-linecap="round"/><line x1="142.3" y1="316.8" x2="139.0" y2="321.2" stroke="#a0a0a0" stroke-width="3.4" stroke-linecap="round"/><line x1="77.8" y1="323.8" x2="78.5" y2="332.7" stroke="#a0a0a0" stroke-width="2.7" stroke-linecap="round"/><line x1="80.3" y1="336.3" x2="77.0" y2="341.9" stroke="#a0a0a0" stroke-width="2.7" stroke-linecap="round"/><line x1="139.3" y1="317.9" x2="143.3" y2="325.7" stroke="#d0d0d0" stroke-width="3.4" stroke-linecap="round"/><line x1="147.8" y1="273.5" x2="153.6" y2="276.9" stroke="#a0a0a0" stroke-width="3.5" stroke-linecap="round"/><line x1="123.4" y1="333.7" x2="118.1" y2="339.7" stroke="#d0d0d0" stroke-width="3.1" stroke-linecap="round"/><line x1="146.2" y1="275.6" x2="151.7" y2="283.4" stroke="#111" stroke-width="3.3" stroke-linecap="round"/><line x1="137.5" y1="317.8" x2="140.3" y2="319.4" stroke="#777" stroke-width="3.1" stroke-linecap="round"/><line x1="105.6" y1="369.0" x2="102.9" y2="372.3" stroke="#777" stroke-width="3.6" stroke-linecap="round"/><line x1="114.0" y1="326.2" x2="116.7" y2="331.5" stroke="#111" stroke-width="2.3" stroke-linecap="round"/><line x1="104.6" y1="364.5" x2="107.2" y2="369.5" stroke="#a0a0a0" stroke-width="3.4" stroke-linecap="round"/><line x1="152.7" y1="291.5" x2="145.9" y2="292.2" stroke="#111" stroke-width="3.1" stroke-linecap="round"/><line x1="84.4" y1="368.0" x2="83.1" y2="373.2" stroke="#a0a0a0" stroke-width="3.3" stroke-linecap="round"/><line x1="127.4" y1="345.8" x2="130.4" y2="352.7" stroke="#d0d0d0" stroke-width="2.4" stroke-linecap="round"/><line x1="101.5" y1="333.6" x2="105.6" y2="335.4" stroke="#f0f0f0" stroke-width="2.7" stroke-linecap="round"/><line x1="86.8" y1="367.6" x2="93.4" y2="370.7" stroke="#111" stroke-width="2.7" stroke-linecap="round"/><line x1="88.0" y1="316.2" x2="83.0" y2="316.6" stroke="#777" stroke-width="2.7" stroke-linecap="round"/><line x1="115.4" y1="267.2" x2="110.5" y2="272.4" stroke="#a0a0a0" stroke-width="2.9" stroke-linecap="round"/><line x1="93.2" y1="322.4" x2="93.4" y2="332.3" stroke="#a0a0a0" stroke-width="2.4" stroke-linecap="round"/><line x1="102.5" y1="332.7" x2="107.5" y2="337.5" stroke="#777" stroke-width="3.3" stroke-linecap="round"/><line x1="76.8" y1="338.3" x2="72.7" y2="338.5" stroke="#a0a0a0" stroke-width="2.9" stroke-linecap="round"/><line x1="150.5" y1="269.6" x2="142.1" y2="272.9" stroke="#f0f0f0" stroke-width="2.2" stroke-linecap="round"/><line x1="68.7" y1="351.9" x2="65.9" y2="359.4" stroke="#111" stroke-width="2.2" stroke-linecap="round"/><line x1="113.1" y1="347.0" x2="121.1" y2="350.5" stroke="#f0f0f0" stroke-width="2.6" stroke-linecap="round"/><line x1="137.3" y1="346.9" x2="136.0" y2="356.0" stroke="#f0f0f0" stroke-width="2.8" stroke-linecap="round"/><line x1="141.8" y1="293.3" x2="134.1" y2="294.5" stroke="#777" stroke-width="3.4" stroke-linecap="round"/><line x1="136.2" y1="283.9" x2="131.2" y2="289.9" stroke="#a0a0a0" stroke-width="2.9" stroke-linecap="round"/><line x1="118.0" y1="284.6" x2="115.7" y2="286.6" stroke="#111" stroke-width="2.6" stroke-linecap="round"/><line x1="161.5" y1="311.4" x2="161.8" y2="315.4" stroke="#111" stroke-width="3.4" stroke-linecap="round"/><line x1="150.4" y1="272.7" x2="149.6" y2="278.6" stroke="#f0f0f0" stroke-width="2.3" stroke-linecap="round"/><line x1="113.6" y1="366.6" x2="109.4" y2="374.0" stroke="#f0f0f0" stroke-width="2.7" stroke-linecap="round"/><line x1="77.0" y1="308.9" x2="77.2" y2="314.7" stroke="#f0f0f0" stroke-width="3.4" stroke-linecap="round"/><line x1="100.8" y1="359.4" x2="94.8" y2="367.0" stroke="#d0d0d0" stroke-width="3.6" stroke-linecap="round"/><line x1="123.3" y1="296.8" x2="126.9" y2="299.1" stroke="#d0d0d0" stroke-width="2.3" stroke-linecap="round"/><line x1="94.1" y1="355.7" x2="88.8" y2="361.2" stroke="#a0a0a0" stroke-width="2.3" stroke-linecap="round"/><line x1="134.4" y1="325.5" x2="142.7" y2="329.3" stroke="#777" stroke-width="2.3" stroke-linecap="round"/><line x1="125.3" y1="301.4" x2="122.7" y2="306.3" stroke="#f0f0f0" stroke-width="2.4" stroke-linecap="round"/><line x1="101.2" y1="347.5" x2="105.9" y2="353.6" stroke="#111" stroke-width="3.0" stroke-linecap="round"/><line x1="114.9" y1="366.6" x2="109.9" y2="367.0" stroke="#d0d0d0" stroke-width="3.4" stroke-linecap="round"/><line x1="100.8" y1="321.7" x2="104.7" y2="321.9" stroke="#a0a0a0" stroke-width="2.3" stroke-linecap="round"/><line x1="96.6" y1="284.1" x2="95.5" y2="287.8" stroke="#d0d0d0" stroke-width="2.7" stroke-linecap="round"/><line x1="141.1" y1="348.4" x2="140.7" y2="352.1" stroke="#111" stroke-width="3.2" stroke-linecap="round"/><line x1="158.7" y1="281.8" x2="162.9" y2="283.5" stroke="#777" stroke-width="3.3" stroke-linecap="round"/><line x1="93.3" y1="367.0" x2="97.4" y2="370.7" stroke="#a0a0a0" stroke-width="3.5" stroke-linecap="round"/><line x1="147.9" y1="314.1" x2="144.3" y2="318.4" stroke="#a0a0a0" stroke-width="3.1" stroke-linecap="round"/><line x1="130.5" y1="285.9" x2="130.0" y2="294.8" stroke="#111" stroke-width="3.6" stroke-linecap="round"/><line x1="68.4" y1="337.4" x2="71.9" y2="337.8" stroke="#d0d0d0" stroke-width="2.5" stroke-linecap="round"/><line x1="128.5" y1="336.6" x2="128.8" y2="339.6" stroke="#111" stroke-width="3.5" stroke-linecap="round"/><line x1="96.0" y1="339.3" x2="94.0" y2="343.1" stroke="#f0f0f0" stroke-width="2.7" stroke-linecap="round"/><line x1="129.5" y1="352.7" x2="132.4" y2="355.6" stroke="#a0a0a0" stroke-width="3.3" stroke-linecap="round"/><line x1="142.8" y1="303.2" x2="139.7" y2="304.2" stroke="#a0a0a0" stroke-width="3.5" stroke-linecap="round"/><line x1="132.2" y1="357.3" x2="128.2" y2="363.9" stroke="#777" stroke-width="3.4" stroke-linecap="round"/><line x1="105.6" y1="372.9" x2="106.3" y2="378.2" stroke="#d0d0d0" stroke-width="3.2" stroke-linecap="round"/><line x1="65.9" y1="344.0" x2="68.3" y2="346.1" stroke="#f0f0f0" stroke-width="3.1" stroke-linecap="round"/><line x1="157.4" y1="287.4" x2="163.9" y2="291.7" stroke="#a0a0a0" stroke-width="2.6" stroke-linecap="round"/><line x1="144.6" y1="307.4" x2="147.6" y2="310.2" stroke="#d0d0d0" stroke-width="3.5" stroke-linecap="round"/><line x1="118.3" y1="302.9" x2="128.1" y2="303.1" stroke="#f0f0f0" stroke-width="2.8" stroke-linecap="round"/><line x1="103.0" y1="286.5" x2="100.2" y2="288.1" stroke="#111" stroke-width="3.0" stroke-linecap="round"/><line x1="160.2" y1="284.9" x2="156.4" y2="287.6" stroke="#f0f0f0" stroke-width="3.5" stroke-linecap="round"/><line x1="70.9" y1="365.7" x2="73.3" y2="368.1" stroke="#777" stroke-width="2.8" stroke-linecap="round"/><line x1="148.4" y1="324.9" x2="156.4" y2="330.4" stroke="#111" stroke-width="3.1" stroke-linecap="round"/><line x1="70.1" y1="342.9" x2="62.5" y2="348.7" stroke="#f0f0f0" stroke-width="3.0" stroke-linecap="round"/><line x1="150.7" y1="281.2" x2="157.7" y2="286.8" stroke="#f0f0f0" stroke-width="2.8" stroke-linecap="round"/><line x1="95.9" y1="333.7" x2="95.3" y2="342.1" stroke="#d0d0d0" stroke-width="3.2" stroke-linecap="round"/><line x1="130.0" y1="268.1" x2="124.8" y2="271.3" stroke="#d0d0d0" stroke-width="3.0" stroke-linecap="round"/><line x1="83.5" y1="360.3" x2="89.2" y2="366.5" stroke="#777" stroke-width="2.6" stroke-linecap="round"/><line x1="64.1" y1="329.6" x2="62.6" y2="335.4" stroke="#d0d0d0" stroke-width="2.6" stroke-linecap="round"/><line x1="94.2" y1="310.7" x2="87.8" y2="315.4" stroke="#a0a0a0" stroke-width="3.4" stroke-linecap="round"/><line x1="121.4" y1="348.0" x2="123.3" y2="350.3" stroke="#d0d0d0" stroke-width="3.0" stroke-linecap="round"/><line x1="129.4" y1="343.5" x2="121.9" y2="344.6" stroke="#f0f0f0" stroke-width="3.2" stroke-linecap="round"/><line x1="115.9" y1="362.2" x2="121.1" y2="364.4" stroke="#f0f0f0" stroke-width="2.6" stroke-linecap="round"/><line x1="84.4" y1="361.1" x2="89.6" y2="361.7" stroke="#111" stroke-width="3.3" stroke-linecap="round"/><line x1="83.8" y1="293.0" x2="86.9" y2="294.4" stroke="#a0a0a0" stroke-width="2.8" stroke-linecap="round"/><line x1="77.3" y1="375.6" x2="80.4" y2="377.9" stroke="#a0a0a0" stroke-width="2.2" stroke-linecap="round"/><line x1="140.9" y1="328.6" x2="148.6" y2="331.0" stroke="#111" stroke-width="3.0" stroke-linecap="round"/><line x1="97.4" y1="290.7" x2="99.1" y2="298.9" stroke="#777" stroke-width="2.4" stroke-linecap="round"/><line x1="126.7" y1="361.8" x2="128.0" y2="367.9" stroke="#777" stroke-width="2.3" stroke-linecap="round"/><line x1="101.4" y1="287.5" x2="101.5" y2="293.8" stroke="#f0f0f0" stroke-width="2.3" stroke-linecap="round"/><line x1="130.3" y1="284.1" x2="126.9" y2="284.4" stroke="#f0f0f0" stroke-width="3.5" stroke-linecap="round"/><line x1="106.1" y1="360.4" x2="106.7" y2="365.9" stroke="#d0d0d0" stroke-width="2.6" stroke-linecap="round"/><line x1="93.7" y1="357.3" x2="89.8" y2="361.2" stroke="#d0d0d0" stroke-width="2.7" stroke-linecap="round"/><line x1="157.0" y1="303.7" x2="149.7" y2="305.9" stroke="#f0f0f0" stroke-width="3.1" stroke-linecap="round"/><line x1="79.9" y1="315.5" x2="80.2" y2="324.3" stroke="#f0f0f0" stroke-width="2.3" stroke-linecap="round"/><line x1="121.7" y1="345.4" x2="116.8" y2="346.6" stroke="#a0a0a0" stroke-width="2.9" stroke-linecap="round"/><line x1="112.1" y1="326.9" x2="115.0" y2="329.0" stroke="#f0f0f0" stroke-width="2.3" stroke-linecap="round"/><line x1="128.3" y1="316.4" x2="137.0" y2="317.0" stroke="#f0f0f0" stroke-width="3.1" stroke-linecap="round"/><line x1="113.1" y1="320.6" x2="109.3" y2="326.2" stroke="#777" stroke-width="3.6" stroke-linecap="round"/><line x1="138.3" y1="309.4" x2="132.9" y2="313.3" stroke="#a0a0a0" stroke-width="3.5" stroke-linecap="round"/><line x1="75.1" y1="343.4" x2="72.7" y2="345.5" stroke="#111" stroke-width="3.0" stroke-linecap="round"/><line x1="146.4" y1="304.3" x2="141.4" y2="305.4" stroke="#a0a0a0" stroke-width="3.5" stroke-linecap="round"/><line x1="86.7" y1="336.4" x2="78.3" y2="338.2" stroke="#111" stroke-width="3.1" stroke-linecap="round"/><line x1="91.1" y1="354.3" x2="97.9" y2="360.6" stroke="#111" stroke-width="2.8" stroke-linecap="round"/><line x1="159.3" y1="279.5" x2="155.3" y2="283.5" stroke="#111" stroke-width="3.5" stroke-linecap="round"/><line x1="150.9" y1="283.1" x2="156.2" y2="285.0" stroke="#111" stroke-width="3.2" stroke-linecap="round"/><line x1="67.5" y1="355.3" x2="60.6" y2="360.4" stroke="#f0f0f0" stroke-width="3.5" stroke-linecap="round"/><line x1="96.0" y1="364.4" x2="102.3" y2="369.8" stroke="#f0f0f0" stroke-width="3.0" stroke-linecap="round"/><line x1="131.2" y1="315.1" x2="133.2" y2="321.6" stroke="#d0d0d0" stroke-width="2.8" stroke-linecap="round"/></g></g>
<rect x="269.6" y="759" width="177" height="104.6" fill="#030303"/>
<rect x="269.6" y="759" width="177" height="104.6" filter="url(#noise)"/>
<clipPath id="cg1"><rect x="269.6" y="759" width="177" height="104.6"/></clipPath>
<g clip-path="url(#cg1)"><g transform="translate(265 755) scale(0.27)" filter="url(#bl)" style="filter:url(#bl)"><polygon points="71,67 98,60 133,64 161,81 196,88 217,109 189,130 154,152 126,148 98,123 77,95" fill="#434343" opacity="1"/><polygon points="129,18 171,19 196,43 214,71 228,81 196,88 168,67 140,43" fill="#5a5a5a" opacity="1"/><polygon points="192,29 214,26 242,60 266,78 231,78 206,60" fill="#a0a0a0" opacity="1"/><polygon points="298,43 336,40 340,53 326,74 287,78 266,74 294,60" fill="#8c8c8c" opacity="1"/><polygon points="266,74 326,70 333,88 287,96" fill="#c4c4c4" opacity="1"/><polygon points="343,92 375,99 400,158 364,141 336,123 326,102" fill="#858585" opacity="1"/><polygon points="140,140 230,120 310,108 285,165 230,200 190,225 150,190" fill="#343434" opacity="1"/><polyline points="130,128 230,108 325,92" fill="none" stroke="#e6e6e6" stroke-width="3.6" stroke-linecap="round" stroke-dasharray="26 7"/><polyline points="336,60 371,29 382,12" fill="none" stroke="#8a8a8a" stroke-width="3" stroke-linecap="round"/><polyline points="350,71 406,43 442,12" fill="none" stroke="#8a8a8a" stroke-width="3" stroke-linecap="round"/><polyline points="385,99 435,94 512,62" fill="none" stroke="#8a8a8a" stroke-width="3" stroke-linecap="round" stroke-dasharray="44 10"/><polyline points="273,151 231,208 196,278 185,355" fill="none" stroke="#8c8c8c" stroke-width="3.2" stroke-linecap="round"/><polyline points="252,158 206,243 189,320" fill="none" stroke="#777" stroke-width="2.8" stroke-linecap="round" stroke-dasharray="22 8"/><polyline points="182,151 147,194 112,201" fill="none" stroke="#8a8a8a" stroke-width="2.8" stroke-linecap="round" stroke-dasharray="16 8"/><polyline points="161,187 130,215 98,243" fill="none" stroke="#7a7a7a" stroke-width="2.8" stroke-linecap="round" stroke-dasharray="12 10"/><polyline points="154,222 140,264 112,306" fill="none" stroke="#6c6c6c" stroke-width="2.6" stroke-linecap="round" stroke-dasharray="10 10"/><polyline points="212,160 182,200 160,262" fill="none" stroke="#d0d0d0" stroke-width="2.6" stroke-linecap="round" stroke-dasharray="8 8"/><polyline points="225,150 200,185 188,215" fill="none" stroke="#e0e0e0" stroke-width="2.6" stroke-linecap="round" stroke-dasharray="6 6"/><line x1="227.9" y1="140.8" x2="228.9" y2="150.2" stroke="#111" stroke-width="3.4" stroke-linecap="round"/><line x1="187.2" y1="168.4" x2="185.0" y2="174.4" stroke="#e0e0e0" stroke-width="2.3" stroke-linecap="round"/><line x1="194.3" y1="124.1" x2="189.3" y2="131.3" stroke="#f4f4f4" stroke-width="3.0" stroke-linecap="round"/><line x1="216.4" y1="138.3" x2="212.7" y2="145.6" stroke="#111" stroke-width="2.2" stroke-linecap="round"/><line x1="232.2" y1="110.0" x2="235.4" y2="112.9" stroke="#f4f4f4" stroke-width="3.3" stroke-linecap="round"/><line x1="206.8" y1="149.5" x2="210.1" y2="152.4" stroke="#bdbdbd" stroke-width="2.9" stroke-linecap="round"/><line x1="262.1" y1="123.7" x2="257.1" y2="123.7" stroke="#f4f4f4" stroke-width="3.2" stroke-linecap="round"/><line x1="198.7" y1="130.9" x2="203.6" y2="132.0" stroke="#f4f4f4" stroke-width="2.8" stroke-linecap="round"/><line x1="292.4" y1="109.7" x2="283.8" y2="114.2" stroke="#f4f4f4" stroke-width="2.5" stroke-linecap="round"/><line x1="217.3" y1="153.1" x2="216.1" y2="158.9" stroke="#e0e0e0" stroke-width="3.3" stroke-linecap="round"/><line x1="188.4" y1="125.8" x2="183.1" y2="126.4" stroke="#f4f4f4" stroke-width="2.4" stroke-linecap="round"/><line x1="228.8" y1="136.2" x2="235.2" y2="140.6" stroke="#111" stroke-width="2.5" stroke-linecap="round"/><line x1="268.3" y1="102.4" x2="275.3" y2="105.1" stroke="#8a8a8a" stroke-width="3.6" stroke-linecap="round"/><line x1="317.9" y1="113.5" x2="327.9" y2="114.1" stroke="#e0e0e0" stroke-width="2.8" stroke-linecap="round"/><line x1="298.1" y1="122.8" x2="294.4" y2="123.0" stroke="#e0e0e0" stroke-width="2.8" stroke-linecap="round"/><line x1="289.6" y1="110.6" x2="292.4" y2="112.7" stroke="#e0e0e0" stroke-width="2.2" stroke-linecap="round"/><line x1="214.6" y1="148.8" x2="213.6" y2="152.6" stroke="#111" stroke-width="2.4" stroke-linecap="round"/><line x1="217.7" y1="148.1" x2="221.6" y2="151.5" stroke="#111" stroke-width="2.5" stroke-linecap="round"/><line x1="186.0" y1="165.0" x2="193.9" y2="170.6" stroke="#8a8a8a" stroke-width="3.4" stroke-linecap="round"/><line x1="251.4" y1="125.1" x2="255.1" y2="125.5" stroke="#bdbdbd" stroke-width="2.5" stroke-linecap="round"/><line x1="265.8" y1="110.7" x2="263.2" y2="119.0" stroke="#bdbdbd" stroke-width="2.9" stroke-linecap="round"/><line x1="170.7" y1="154.7" x2="168.0" y2="161.8" stroke="#f4f4f4" stroke-width="2.6" stroke-linecap="round"/><line x1="218.1" y1="114.6" x2="219.8" y2="118.5" stroke="#111" stroke-width="3.6" stroke-linecap="round"/><line x1="223.6" y1="128.8" x2="223.0" y2="136.9" stroke="#e0e0e0" stroke-width="3.0" stroke-linecap="round"/><line x1="307.1" y1="110.1" x2="310.1" y2="114.7" stroke="#f4f4f4" stroke-width="2.2" stroke-linecap="round"/><line x1="258.0" y1="126.5" x2="262.4" y2="133.3" stroke="#f4f4f4" stroke-width="2.3" stroke-linecap="round"/><line x1="247.0" y1="145.1" x2="240.7" y2="151.9" stroke="#e0e0e0" stroke-width="3.3" stroke-linecap="round"/><line x1="303.5" y1="104.0" x2="296.1" y2="106.4" stroke="#8a8a8a" stroke-width="3.5" stroke-linecap="round"/><line x1="154.6" y1="161.1" x2="153.1" y2="163.8" stroke="#8a8a8a" stroke-width="3.0" stroke-linecap="round"/><line x1="246.4" y1="106.6" x2="238.9" y2="106.7" stroke="#8a8a8a" stroke-width="3.2" stroke-linecap="round"/><line x1="220.0" y1="153.7" x2="221.3" y2="160.7" stroke="#111" stroke-width="2.3" stroke-linecap="round"/><line x1="252.0" y1="128.4" x2="249.3" y2="132.1" stroke="#8a8a8a" stroke-width="3.3" stroke-linecap="round"/><line x1="262.2" y1="125.4" x2="265.9" y2="133.9" stroke="#e0e0e0" stroke-width="3.1" stroke-linecap="round"/><line x1="178.4" y1="133.9" x2="173.9" y2="142.1" stroke="#8a8a8a" stroke-width="2.9" stroke-linecap="round"/><line x1="189.1" y1="144.3" x2="187.2" y2="148.6" stroke="#e0e0e0" stroke-width="3.4" stroke-linecap="round"/><line x1="216.7" y1="145.9" x2="221.4" y2="148.0" stroke="#8a8a8a" stroke-width="2.7" stroke-linecap="round"/><line x1="237.5" y1="159.3" x2="240.6" y2="167.5" stroke="#111" stroke-width="2.9" stroke-linecap="round"/><line x1="209.3" y1="163.3" x2="210.7" y2="173.1" stroke="#f4f4f4" stroke-width="3.4" stroke-linecap="round"/><line x1="198.9" y1="153.1" x2="203.8" y2="159.1" stroke="#bdbdbd" stroke-width="2.6" stroke-linecap="round"/><line x1="171.9" y1="152.8" x2="169.2" y2="154.5" stroke="#e0e0e0" stroke-width="3.3" stroke-linecap="round"/><line x1="243.5" y1="140.5" x2="248.9" y2="141.8" stroke="#e0e0e0" stroke-width="2.5" stroke-linecap="round"/><line x1="225.2" y1="119.3" x2="225.5" y2="122.3" stroke="#f4f4f4" stroke-width="2.5" stroke-linecap="round"/><line x1="193.4" y1="139.4" x2="192.9" y2="147.3" stroke="#111" stroke-width="3.6" stroke-linecap="round"/><line x1="182.7" y1="172.5" x2="188.7" y2="177.6" stroke="#8a8a8a" stroke-width="3.5" stroke-linecap="round"/><line x1="266.7" y1="102.9" x2="264.3" y2="108.6" stroke="#f4f4f4" stroke-width="2.7" stroke-linecap="round"/><line x1="253.3" y1="151.4" x2="244.9" y2="152.9" stroke="#8a8a8a" stroke-width="2.7" stroke-linecap="round"/><line x1="302.8" y1="130.5" x2="311.6" y2="134.1" stroke="#e0e0e0" stroke-width="3.5" stroke-linecap="round"/><line x1="246.4" y1="148.4" x2="241.3" y2="149.9" stroke="#f4f4f4" stroke-width="2.7" stroke-linecap="round"/><line x1="162.6" y1="155.1" x2="157.4" y2="159.6" stroke="#8a8a8a" stroke-width="3.5" stroke-linecap="round"/><line x1="193.1" y1="170.2" x2="199.1" y2="170.9" stroke="#111" stroke-width="2.7" stroke-linecap="round"/><line x1="278.1" y1="99.8" x2="277.9" y2="103.9" stroke="#111" stroke-width="3.4" stroke-linecap="round"/><line x1="275.1" y1="148.2" x2="268.8" y2="149.2" stroke="#f4f4f4" stroke-width="3.3" stroke-linecap="round"/><line x1="225.6" y1="141.5" x2="224.0" y2="150.2" stroke="#e0e0e0" stroke-width="2.9" stroke-linecap="round"/><line x1="294.9" y1="119.1" x2="296.8" y2="123.9" stroke="#111" stroke-width="2.5" stroke-linecap="round"/><line x1="240.4" y1="137.5" x2="239.9" y2="141.9" stroke="#111" stroke-width="2.2" stroke-linecap="round"/><line x1="214.6" y1="143.9" x2="211.4" y2="144.7" stroke="#111" stroke-width="3.3" stroke-linecap="round"/><line x1="245.6" y1="131.0" x2="253.3" y2="132.6" stroke="#111" stroke-width="2.8" stroke-linecap="round"/><line x1="214.2" y1="126.8" x2="217.3" y2="132.5" stroke="#8a8a8a" stroke-width="2.9" stroke-linecap="round"/><line x1="166.6" y1="152.5" x2="168.8" y2="154.8" stroke="#f4f4f4" stroke-width="2.2" stroke-linecap="round"/><line x1="201.9" y1="158.9" x2="201.9" y2="163.6" stroke="#8a8a8a" stroke-width="3.2" stroke-linecap="round"/><line x1="170.6" y1="156.5" x2="174.5" y2="159.3" stroke="#111" stroke-width="3.4" stroke-linecap="round"/><line x1="155.7" y1="168.6" x2="152.6" y2="176.8" stroke="#111" stroke-width="2.5" stroke-linecap="round"/><line x1="259.9" y1="135.1" x2="253.9" y2="138.1" stroke="#111" stroke-width="3.0" stroke-linecap="round"/><line x1="254.3" y1="119.8" x2="252.9" y2="123.8" stroke="#e0e0e0" stroke-width="2.5" stroke-linecap="round"/><line x1="167.8" y1="141.5" x2="173.4" y2="147.4" stroke="#f4f4f4" stroke-width="2.8" stroke-linecap="round"/><line x1="311.3" y1="112.8" x2="317.7" y2="117.4" stroke="#f4f4f4" stroke-width="2.3" stroke-linecap="round"/><line x1="244.5" y1="123.5" x2="248.2" y2="131.5" stroke="#111" stroke-width="3.1" stroke-linecap="round"/><line x1="297.2" y1="132.6" x2="303.6" y2="133.1" stroke="#111" stroke-width="3.1" stroke-linecap="round"/><line x1="304.0" y1="111.5" x2="308.1" y2="113.0" stroke="#e0e0e0" stroke-width="3.4" stroke-linecap="round"/><line x1="311.6" y1="107.9" x2="316.0" y2="115.0" stroke="#8a8a8a" stroke-width="2.8" stroke-linecap="round"/><line x1="205.1" y1="127.6" x2="202.8" y2="132.8" stroke="#f4f4f4" stroke-width="3.4" stroke-linecap="round"/><line x1="179.6" y1="150.3" x2="182.0" y2="158.1" stroke="#e0e0e0" stroke-width="3.0" stroke-linecap="round"/><line x1="170.7" y1="173.1" x2="175.8" y2="174.5" stroke="#8a8a8a" stroke-width="3.0" stroke-linecap="round"/><line x1="183.6" y1="156.7" x2="179.6" y2="160.4" stroke="#bdbdbd" stroke-width="3.5" stroke-linecap="round"/><line x1="281.7" y1="136.2" x2="284.2" y2="144.5" stroke="#bdbdbd" stroke-width="3.4" stroke-linecap="round"/><line x1="273.0" y1="138.4" x2="275.4" y2="146.4" stroke="#e0e0e0" stroke-width="2.3" stroke-linecap="round"/><line x1="207.4" y1="142.1" x2="208.7" y2="144.9" stroke="#111" stroke-width="2.3" stroke-linecap="round"/><line x1="195.7" y1="131.1" x2="200.6" y2="134.2" stroke="#f4f4f4" stroke-width="2.7" stroke-linecap="round"/><line x1="274.0" y1="137.7" x2="283.8" y2="138.5" stroke="#111" stroke-width="2.4" stroke-linecap="round"/><line x1="189.0" y1="146.6" x2="184.2" y2="151.1" stroke="#8a8a8a" stroke-width="2.2" stroke-linecap="round"/><line x1="189.8" y1="136.5" x2="189.1" y2="141.8" stroke="#8a8a8a" stroke-width="3.6" stroke-linecap="round"/><line x1="255.2" y1="157.6" x2="249.0" y2="161.8" stroke="#f4f4f4" stroke-width="3.0" stroke-linecap="round"/><line x1="271.7" y1="149.9" x2="266.1" y2="151.0" stroke="#8a8a8a" stroke-width="2.9" stroke-linecap="round"/><line x1="178.3" y1="153.2" x2="185.4" y2="154.5" stroke="#8a8a8a" stroke-width="2.8" stroke-linecap="round"/><line x1="241.3" y1="138.7" x2="244.7" y2="143.1" stroke="#bdbdbd" stroke-width="3.0" stroke-linecap="round"/><line x1="201.7" y1="158.6" x2="206.8" y2="158.8" stroke="#e0e0e0" stroke-width="3.0" stroke-linecap="round"/><line x1="256.2" y1="122.7" x2="263.9" y2="124.0" stroke="#bdbdbd" stroke-width="3.2" stroke-linecap="round"/><line x1="303.2" y1="108.7" x2="296.9" y2="109.2" stroke="#e0e0e0" stroke-width="2.3" stroke-linecap="round"/><line x1="262.6" y1="99.6" x2="268.1" y2="101.7" stroke="#f4f4f4" stroke-width="2.7" stroke-linecap="round"/><line x1="173.5" y1="146.9" x2="174.6" y2="150.8" stroke="#111" stroke-width="2.6" stroke-linecap="round"/><line x1="247.7" y1="126.1" x2="246.9" y2="134.5" stroke="#e0e0e0" stroke-width="3.5" stroke-linecap="round"/><line x1="270.6" y1="108.0" x2="267.0" y2="109.3" stroke="#111" stroke-width="3.1" stroke-linecap="round"/><line x1="206.9" y1="130.7" x2="205.4" y2="138.3" stroke="#111" stroke-width="2.5" stroke-linecap="round"/><line x1="192.6" y1="133.4" x2="192.5" y2="143.1" stroke="#e0e0e0" stroke-width="3.4" stroke-linecap="round"/><line x1="194.5" y1="143.8" x2="201.5" y2="146.1" stroke="#111" stroke-width="2.6" stroke-linecap="round"/><line x1="285.9" y1="142.8" x2="289.0" y2="145.5" stroke="#bdbdbd" stroke-width="2.9" stroke-linecap="round"/><line x1="207.2" y1="134.5" x2="213.1" y2="137.1" stroke="#f4f4f4" stroke-width="3.3" stroke-linecap="round"/><line x1="231.6" y1="155.1" x2="224.9" y2="161.0" stroke="#8a8a8a" stroke-width="2.8" stroke-linecap="round"/><line x1="198.9" y1="165.0" x2="196.4" y2="169.9" stroke="#111" stroke-width="2.7" stroke-linecap="round"/><line x1="247.6" y1="145.4" x2="249.7" y2="154.6" stroke="#bdbdbd" stroke-width="3.0" stroke-linecap="round"/><line x1="225.5" y1="127.7" x2="226.9" y2="134.4" stroke="#111" stroke-width="2.9" stroke-linecap="round"/><line x1="263.2" y1="114.0" x2="271.4" y2="116.0" stroke="#e0e0e0" stroke-width="3.5" stroke-linecap="round"/><line x1="256.1" y1="139.6" x2="251.4" y2="144.0" stroke="#bdbdbd" stroke-width="2.6" stroke-linecap="round"/><line x1="171.4" y1="147.3" x2="174.7" y2="154.7" stroke="#f4f4f4" stroke-width="2.7" stroke-linecap="round"/><line x1="226.5" y1="143.3" x2="221.4" y2="151.1" stroke="#bdbdbd" stroke-width="2.8" stroke-linecap="round"/><line x1="283.5" y1="107.7" x2="285.1" y2="112.7" stroke="#111" stroke-width="2.5" stroke-linecap="round"/><line x1="209.0" y1="135.5" x2="210.8" y2="140.8" stroke="#8a8a8a" stroke-width="3.3" stroke-linecap="round"/><line x1="273.6" y1="114.7" x2="278.7" y2="117.4" stroke="#111" stroke-width="3.0" stroke-linecap="round"/><line x1="184.1" y1="166.8" x2="189.9" y2="173.9" stroke="#f4f4f4" stroke-width="2.5" stroke-linecap="round"/><line x1="292.2" y1="111.9" x2="296.2" y2="117.7" stroke="#111" stroke-width="2.3" stroke-linecap="round"/><line x1="167.5" y1="170.9" x2="176.5" y2="173.3" stroke="#e0e0e0" stroke-width="2.3" stroke-linecap="round"/><line x1="287.8" y1="113.3" x2="288.1" y2="121.2" stroke="#111" stroke-width="2.7" stroke-linecap="round"/><line x1="225.4" y1="129.3" x2="229.7" y2="136.8" stroke="#e0e0e0" stroke-width="2.9" stroke-linecap="round"/><line x1="245.2" y1="144.7" x2="237.5" y2="146.8" stroke="#8a8a8a" stroke-width="3.3" stroke-linecap="round"/><line x1="164.1" y1="156.0" x2="170.8" y2="156.5" stroke="#bdbdbd" stroke-width="3.2" stroke-linecap="round"/><line x1="285.4" y1="114.0" x2="290.7" y2="116.6" stroke="#e0e0e0" stroke-width="3.6" stroke-linecap="round"/><line x1="207.9" y1="124.2" x2="209.0" y2="128.5" stroke="#bdbdbd" stroke-width="2.6" stroke-linecap="round"/><line x1="300.6" y1="112.0" x2="305.3" y2="118.6" stroke="#e0e0e0" stroke-width="3.3" stroke-linecap="round"/><line x1="229.4" y1="141.8" x2="238.7" y2="142.8" stroke="#f4f4f4" stroke-width="2.5" stroke-linecap="round"/><line x1="212.4" y1="147.5" x2="213.1" y2="154.7" stroke="#111" stroke-width="2.5" stroke-linecap="round"/><line x1="177.3" y1="140.9" x2="174.2" y2="143.8" stroke="#bdbdbd" stroke-width="3.1" stroke-linecap="round"/><line x1="311.5" y1="113.1" x2="312.0" y2="122.1" stroke="#8a8a8a" stroke-width="3.5" stroke-linecap="round"/><line x1="208.8" y1="146.3" x2="209.3" y2="156.0" stroke="#e0e0e0" stroke-width="2.8" stroke-linecap="round"/><line x1="180.3" y1="131.2" x2="171.7" y2="131.9" stroke="#111" stroke-width="3.3" stroke-linecap="round"/><line x1="222.1" y1="124.3" x2="216.6" y2="126.6" stroke="#8a8a8a" stroke-width="2.4" stroke-linecap="round"/><line x1="200.3" y1="132.1" x2="199.9" y2="141.2" stroke="#111" stroke-width="2.6" stroke-linecap="round"/><line x1="234.9" y1="114.5" x2="243.3" y2="114.5" stroke="#e0e0e0" stroke-width="3.4" stroke-linecap="round"/><line x1="159.5" y1="146.0" x2="167.2" y2="148.4" stroke="#8a8a8a" stroke-width="3.2" stroke-linecap="round"/><line x1="167.9" y1="171.4" x2="167.8" y2="178.2" stroke="#f4f4f4" stroke-width="3.3" stroke-linecap="round"/><line x1="228.0" y1="161.8" x2="224.9" y2="163.7" stroke="#e0e0e0" stroke-width="2.3" stroke-linecap="round"/><line x1="220.0" y1="139.5" x2="210.5" y2="140.6" stroke="#bdbdbd" stroke-width="2.6" stroke-linecap="round"/><line x1="159.1" y1="148.2" x2="155.1" y2="153.1" stroke="#bdbdbd" stroke-width="2.3" stroke-linecap="round"/><line x1="176.4" y1="163.9" x2="171.0" y2="169.4" stroke="#f4f4f4" stroke-width="3.1" stroke-linecap="round"/><line x1="266.4" y1="109.3" x2="267.3" y2="116.2" stroke="#f4f4f4" stroke-width="3.4" stroke-linecap="round"/><line x1="297.8" y1="127.5" x2="306.0" y2="131.8" stroke="#8a8a8a" stroke-width="3.5" stroke-linecap="round"/><line x1="279.6" y1="123.8" x2="282.6" y2="125.8" stroke="#8a8a8a" stroke-width="3.2" stroke-linecap="round"/><line x1="213.5" y1="168.2" x2="209.0" y2="173.5" stroke="#bdbdbd" stroke-width="2.8" stroke-linecap="round"/><line x1="208.0" y1="120.3" x2="214.7" y2="123.3" stroke="#e0e0e0" stroke-width="2.5" stroke-linecap="round"/><line x1="224.1" y1="158.4" x2="231.0" y2="160.4" stroke="#e0e0e0" stroke-width="2.2" stroke-linecap="round"/><line x1="317.3" y1="104.4" x2="321.3" y2="111.7" stroke="#8a8a8a" stroke-width="3.5" stroke-linecap="round"/><line x1="168.1" y1="139.4" x2="165.8" y2="142.7" stroke="#8a8a8a" stroke-width="2.7" stroke-linecap="round"/><line x1="211.6" y1="114.1" x2="208.2" y2="118.8" stroke="#e0e0e0" stroke-width="3.1" stroke-linecap="round"/><line x1="245.3" y1="103.3" x2="247.8" y2="108.0" stroke="#8a8a8a" stroke-width="2.3" stroke-linecap="round"/><line x1="214.2" y1="142.3" x2="206.9" y2="146.8" stroke="#111" stroke-width="3.2" stroke-linecap="round"/><line x1="193.5" y1="150.8" x2="197.3" y2="154.2" stroke="#111" stroke-width="2.9" stroke-linecap="round"/><line x1="177.4" y1="166.3" x2="176.9" y2="176.2" stroke="#e0e0e0" stroke-width="3.0" stroke-linecap="round"/><line x1="156.7" y1="169.8" x2="164.4" y2="173.3" stroke="#8a8a8a" stroke-width="3.0" stroke-linecap="round"/><line x1="265.8" y1="114.9" x2="269.8" y2="123.6" stroke="#8a8a8a" stroke-width="3.4" stroke-linecap="round"/><line x1="230.8" y1="149.9" x2="229.8" y2="154.5" stroke="#111" stroke-width="3.0" stroke-linecap="round"/><line x1="241.3" y1="119.1" x2="231.9" y2="119.3" stroke="#bdbdbd" stroke-width="3.0" stroke-linecap="round"/><line x1="176.0" y1="173.3" x2="171.3" y2="174.9" stroke="#e0e0e0" stroke-width="3.3" stroke-linecap="round"/><line x1="205.8" y1="124.8" x2="199.8" y2="128.8" stroke="#8a8a8a" stroke-width="2.2" stroke-linecap="round"/><line x1="313.0" y1="119.0" x2="310.3" y2="123.4" stroke="#8a8a8a" stroke-width="3.1" stroke-linecap="round"/><line x1="263.6" y1="141.2" x2="264.7" y2="145.2" stroke="#f4f4f4" stroke-width="2.4" stroke-linecap="round"/><line x1="216.8" y1="145.0" x2="216.5" y2="149.2" stroke="#bdbdbd" stroke-width="2.5" stroke-linecap="round"/><line x1="287.4" y1="131.0" x2="290.0" y2="139.1" stroke="#8a8a8a" stroke-width="3.0" stroke-linecap="round"/><line x1="228.3" y1="132.0" x2="224.2" y2="138.1" stroke="#8a8a8a" stroke-width="3.3" stroke-linecap="round"/><line x1="241.1" y1="162.1" x2="233.2" y2="166.0" stroke="#8a8a8a" stroke-width="3.4" stroke-linecap="round"/><line x1="307.2" y1="101.6" x2="308.9" y2="108.0" stroke="#f4f4f4" stroke-width="2.6" stroke-linecap="round"/><line x1="162.7" y1="171.8" x2="156.5" y2="178.7" stroke="#111" stroke-width="2.7" stroke-linecap="round"/><line x1="291.2" y1="139.3" x2="297.8" y2="145.6" stroke="#8a8a8a" stroke-width="2.5" stroke-linecap="round"/><line x1="224.0" y1="115.3" x2="222.7" y2="124.6" stroke="#8a8a8a" stroke-width="3.5" stroke-linecap="round"/><line x1="280.9" y1="141.9" x2="280.1" y2="147.5" stroke="#111" stroke-width="3.3" stroke-linecap="round"/><line x1="191.6" y1="163.6" x2="185.0" y2="165.7" stroke="#f4f4f4" stroke-width="2.9" stroke-linecap="round"/><line x1="247.2" y1="128.3" x2="243.8" y2="132.1" stroke="#f4f4f4" stroke-width="2.7" stroke-linecap="round"/><line x1="287.2" y1="112.0" x2="285.8" y2="117.3" stroke="#f4f4f4" stroke-width="2.6" stroke-linecap="round"/><line x1="224.1" y1="127.6" x2="228.8" y2="129.9" stroke="#8a8a8a" stroke-width="3.4" stroke-linecap="round"/><line x1="190.3" y1="170.7" x2="198.0" y2="172.1" stroke="#bdbdbd" stroke-width="3.4" stroke-linecap="round"/><line x1="209.6" y1="141.6" x2="205.6" y2="143.2" stroke="#111" stroke-width="2.5" stroke-linecap="round"/><line x1="252.3" y1="111.2" x2="261.4" y2="112.6" stroke="#f4f4f4" stroke-width="2.6" stroke-linecap="round"/><circle cx="315" cy="116" r="9" fill="#e8e8e8"/><circle cx="319" cy="120" r="4.6" fill="#0c0c0c"/></g></g>
<rect x="500" y="759" width="177" height="104.6" fill="#030303"/>
<rect x="500" y="759" width="177" height="104.6" filter="url(#noise)"/>
<clipPath id="cg2"><rect x="500" y="759" width="177" height="104.6"/></clipPath>
<g clip-path="url(#cg2)"><g transform="translate(496 755) scale(0.27)" filter="url(#bl)" style="filter:url(#bl)"><polygon points="126.6,18.9 209.2,20.8 233.5,69.4 306.4,84.0 301.5,108.3 223.8,93.7 175.2,64.6" fill="#515151" opacity="1"/><polygon points="160.6,122.9 194.6,127.7 209.2,166.6 170.3,171.5" fill="#4a4a4a" opacity="1"/><polygon points="29.4,176.3 73.1,171.5 150.9,184.1 146.0,220.1 68.3,226.9 34.2,200.6" fill="#5c5c5c" opacity="1"/><polygon points="121.7,113.2 238.4,103.4 335.6,98.6 306.4,142.3 228.6,186.1 209.2,254.1 141.2,234.7" fill="#303030" opacity="1"/><polygon points="296.7,45.1 340.4,40.3 369.6,59.7 359.9,98.6 398.7,156.9 350.1,137.5 325.8,103.4 298.6,69.4" fill="#8c8c8c" opacity="1"/><polygon points="364.7,50.0 471.6,57.8 476.5,103.4 403.6,113.2 362.8,100.5" fill="#555" opacity="1"/><polygon points="471.6,54.8 520.2,32.5 551.3,45.1 547.5,84.0 500.8,100.5 469.7,90.8" fill="#8a8a8a" opacity="1"/><polygon points="471.6,100.5 498.9,105.4 541.6,166.6 530.0,174.4 489.1,132.6" fill="#7c7c7c" opacity="1"/><polyline points="515.4,103.4 641.7,93.7" fill="none" stroke="#6e6e6e" stroke-width="3.4" stroke-linecap="round"/><polyline points="551.3,50.0 583.4,32.5" fill="none" stroke="#707070" stroke-width="3.4" stroke-linecap="round"/><polyline points="384.2,16.0 335.6,93.7 282.1,186.1" fill="none" stroke="#666" stroke-width="3.4" stroke-linecap="round"/><polyline points="374.4,16.0 418.2,45.1" fill="none" stroke="#dedede" stroke-width="2.8" stroke-linecap="round"/><line x1="376.4" y1="88.2" x2="376.9" y2="95.6" stroke="#111" stroke-width="3.6" stroke-linecap="round"/><line x1="410.5" y1="101.3" x2="410.1" y2="105.6" stroke="#a8a8a8" stroke-width="2.2" stroke-linecap="round"/><line x1="460.9" y1="75.7" x2="458.1" y2="78.5" stroke="#111" stroke-width="3.2" stroke-linecap="round"/><line x1="406.4" y1="102.9" x2="408.8" y2="110.9" stroke="#777" stroke-width="2.2" stroke-linecap="round"/><line x1="394.5" y1="79.0" x2="390.7" y2="79.6" stroke="#888" stroke-width="2.2" stroke-linecap="round"/><line x1="439.8" y1="59.3" x2="448.5" y2="59.9" stroke="#111" stroke-width="3.0" stroke-linecap="round"/><line x1="396.0" y1="78.4" x2="400.3" y2="78.9" stroke="#111" stroke-width="2.3" stroke-linecap="round"/><line x1="380.0" y1="87.4" x2="375.9" y2="95.0" stroke="#0c0c0c" stroke-width="3.6" stroke-linecap="round"/><line x1="366.1" y1="82.0" x2="368.5" y2="88.5" stroke="#888" stroke-width="3.5" stroke-linecap="round"/><line x1="455.9" y1="74.8" x2="456.8" y2="80.3" stroke="#777" stroke-width="2.6" stroke-linecap="round"/><line x1="411.6" y1="67.9" x2="419.3" y2="72.1" stroke="#777" stroke-width="2.2" stroke-linecap="round"/><line x1="366.0" y1="83.9" x2="364.5" y2="90.4" stroke="#888" stroke-width="3.0" stroke-linecap="round"/><line x1="426.8" y1="63.8" x2="428.7" y2="67.5" stroke="#888" stroke-width="2.7" stroke-linecap="round"/><line x1="424.0" y1="69.8" x2="427.6" y2="70.6" stroke="#111" stroke-width="3.3" stroke-linecap="round"/><line x1="399.5" y1="87.9" x2="392.2" y2="90.3" stroke="#111" stroke-width="2.8" stroke-linecap="round"/><line x1="423.3" y1="97.5" x2="425.7" y2="103.4" stroke="#111" stroke-width="3.5" stroke-linecap="round"/><line x1="385.3" y1="82.1" x2="387.1" y2="87.9" stroke="#777" stroke-width="2.3" stroke-linecap="round"/><line x1="390.0" y1="96.1" x2="397.5" y2="96.9" stroke="#111" stroke-width="2.4" stroke-linecap="round"/><line x1="365.9" y1="71.3" x2="356.7" y2="71.8" stroke="#777" stroke-width="2.3" stroke-linecap="round"/><line x1="373.7" y1="86.3" x2="374.3" y2="95.7" stroke="#111" stroke-width="3.5" stroke-linecap="round"/><line x1="398.5" y1="62.5" x2="394.3" y2="66.1" stroke="#777" stroke-width="3.0" stroke-linecap="round"/><line x1="451.7" y1="69.9" x2="456.1" y2="75.0" stroke="#a8a8a8" stroke-width="2.7" stroke-linecap="round"/><line x1="372.1" y1="89.5" x2="374.7" y2="93.6" stroke="#111" stroke-width="3.4" stroke-linecap="round"/><line x1="422.6" y1="67.4" x2="416.8" y2="68.2" stroke="#111" stroke-width="2.4" stroke-linecap="round"/><line x1="361.1" y1="76.5" x2="357.4" y2="78.2" stroke="#888" stroke-width="2.4" stroke-linecap="round"/><line x1="417.6" y1="70.7" x2="422.5" y2="74.8" stroke="#111" stroke-width="2.5" stroke-linecap="round"/><line x1="452.6" y1="64.8" x2="446.7" y2="70.5" stroke="#0c0c0c" stroke-width="3.2" stroke-linecap="round"/><line x1="454.4" y1="92.3" x2="463.0" y2="92.5" stroke="#777" stroke-width="3.4" stroke-linecap="round"/><line x1="402.1" y1="82.3" x2="408.7" y2="88.3" stroke="#0c0c0c" stroke-width="2.6" stroke-linecap="round"/><line x1="362.9" y1="73.8" x2="358.0" y2="75.4" stroke="#888" stroke-width="3.3" stroke-linecap="round"/><line x1="446.6" y1="78.6" x2="445.6" y2="85.6" stroke="#a8a8a8" stroke-width="2.9" stroke-linecap="round"/><line x1="392.4" y1="88.7" x2="391.2" y2="95.2" stroke="#a8a8a8" stroke-width="3.1" stroke-linecap="round"/><line x1="394.1" y1="64.8" x2="392.5" y2="67.8" stroke="#777" stroke-width="2.4" stroke-linecap="round"/><line x1="447.9" y1="91.6" x2="445.6" y2="97.3" stroke="#a8a8a8" stroke-width="3.2" stroke-linecap="round"/><line x1="435.9" y1="77.7" x2="429.8" y2="80.2" stroke="#a8a8a8" stroke-width="2.5" stroke-linecap="round"/><line x1="363.7" y1="75.9" x2="360.8" y2="79.7" stroke="#777" stroke-width="3.2" stroke-linecap="round"/><line x1="408.5" y1="66.4" x2="408.7" y2="72.1" stroke="#a8a8a8" stroke-width="2.3" stroke-linecap="round"/><line x1="377.3" y1="73.0" x2="382.9" y2="77.5" stroke="#777" stroke-width="3.1" stroke-linecap="round"/><line x1="441.7" y1="87.2" x2="436.5" y2="94.5" stroke="#888" stroke-width="2.5" stroke-linecap="round"/><line x1="459.1" y1="73.6" x2="452.9" y2="77.4" stroke="#a8a8a8" stroke-width="2.4" stroke-linecap="round"/><line x1="380.5" y1="97.1" x2="388.2" y2="99.4" stroke="#111" stroke-width="2.3" stroke-linecap="round"/><line x1="391.6" y1="100.4" x2="392.6" y2="108.5" stroke="#a8a8a8" stroke-width="3.6" stroke-linecap="round"/><line x1="376.6" y1="75.9" x2="379.6" y2="83.0" stroke="#0c0c0c" stroke-width="3.2" stroke-linecap="round"/><line x1="393.7" y1="67.3" x2="401.6" y2="71.4" stroke="#0c0c0c" stroke-width="2.5" stroke-linecap="round"/><line x1="424.1" y1="68.4" x2="418.5" y2="69.5" stroke="#777" stroke-width="2.8" stroke-linecap="round"/><line x1="409.0" y1="87.1" x2="405.1" y2="93.7" stroke="#0c0c0c" stroke-width="2.6" stroke-linecap="round"/><line x1="461.1" y1="88.9" x2="461.1" y2="92.1" stroke="#a8a8a8" stroke-width="2.8" stroke-linecap="round"/><line x1="406.8" y1="76.7" x2="397.1" y2="78.5" stroke="#111" stroke-width="2.3" stroke-linecap="round"/><line x1="392.3" y1="76.9" x2="396.0" y2="85.4" stroke="#111" stroke-width="3.0" stroke-linecap="round"/><line x1="458.6" y1="75.8" x2="463.6" y2="83.2" stroke="#777" stroke-width="2.8" stroke-linecap="round"/><line x1="419.0" y1="65.9" x2="411.4" y2="70.0" stroke="#777" stroke-width="3.4" stroke-linecap="round"/><line x1="360.2" y1="83.0" x2="356.8" y2="84.1" stroke="#111" stroke-width="2.4" stroke-linecap="round"/><line x1="413.0" y1="80.4" x2="413.2" y2="87.1" stroke="#888" stroke-width="2.4" stroke-linecap="round"/><line x1="375.2" y1="68.9" x2="382.7" y2="69.1" stroke="#a8a8a8" stroke-width="3.1" stroke-linecap="round"/><line x1="449.4" y1="72.4" x2="454.2" y2="75.1" stroke="#0c0c0c" stroke-width="2.9" stroke-linecap="round"/><line x1="433.2" y1="86.5" x2="437.1" y2="87.8" stroke="#888" stroke-width="3.0" stroke-linecap="round"/><line x1="403.2" y1="88.3" x2="402.6" y2="96.3" stroke="#a8a8a8" stroke-width="2.7" stroke-linecap="round"/><line x1="382.4" y1="79.2" x2="379.7" y2="86.9" stroke="#111" stroke-width="2.2" stroke-linecap="round"/><line x1="398.8" y1="78.1" x2="400.5" y2="87.0" stroke="#a8a8a8" stroke-width="3.5" stroke-linecap="round"/><line x1="433.0" y1="65.5" x2="425.0" y2="68.1" stroke="#0c0c0c" stroke-width="3.0" stroke-linecap="round"/><line x1="153.2" y1="159.2" x2="156.7" y2="165.9" stroke="#d8d8d8" stroke-width="2.5" stroke-linecap="round"/><line x1="308.9" y1="110.0" x2="301.9" y2="111.6" stroke="#666" stroke-width="3.2" stroke-linecap="round"/><line x1="219.4" y1="185.2" x2="226.4" y2="185.6" stroke="#111" stroke-width="2.6" stroke-linecap="round"/><line x1="171.9" y1="202.0" x2="164.9" y2="203.4" stroke="#0c0c0c" stroke-width="2.3" stroke-linecap="round"/><line x1="186.0" y1="160.8" x2="187.5" y2="164.8" stroke="#666" stroke-width="2.9" stroke-linecap="round"/><line x1="175.4" y1="160.6" x2="177.0" y2="168.3" stroke="#111" stroke-width="2.9" stroke-linecap="round"/><line x1="225.4" y1="157.4" x2="222.6" y2="162.6" stroke="#9a9a9a" stroke-width="2.6" stroke-linecap="round"/><line x1="201.2" y1="171.7" x2="199.7" y2="176.6" stroke="#0c0c0c" stroke-width="2.9" stroke-linecap="round"/><line x1="283.5" y1="160.3" x2="289.3" y2="162.0" stroke="#777" stroke-width="2.7" stroke-linecap="round"/><line x1="208.2" y1="156.5" x2="198.8" y2="157.9" stroke="#0c0c0c" stroke-width="2.5" stroke-linecap="round"/><line x1="126.8" y1="193.3" x2="131.1" y2="193.7" stroke="#777" stroke-width="2.7" stroke-linecap="round"/><line x1="186.9" y1="161.9" x2="191.3" y2="162.4" stroke="#0c0c0c" stroke-width="2.4" stroke-linecap="round"/><line x1="283.8" y1="149.1" x2="291.0" y2="151.5" stroke="#9a9a9a" stroke-width="2.8" stroke-linecap="round"/><line x1="224.4" y1="180.6" x2="223.9" y2="187.0" stroke="#0c0c0c" stroke-width="2.6" stroke-linecap="round"/><line x1="268.2" y1="163.7" x2="274.4" y2="165.0" stroke="#666" stroke-width="2.7" stroke-linecap="round"/><line x1="286.8" y1="153.5" x2="279.7" y2="154.8" stroke="#d8d8d8" stroke-width="2.5" stroke-linecap="round"/><line x1="184.2" y1="142.8" x2="182.7" y2="146.2" stroke="#0c0c0c" stroke-width="2.8" stroke-linecap="round"/><line x1="311.2" y1="111.4" x2="314.2" y2="113.8" stroke="#111" stroke-width="2.9" stroke-linecap="round"/><line x1="274.9" y1="141.8" x2="277.1" y2="148.8" stroke="#d8d8d8" stroke-width="3.2" stroke-linecap="round"/><line x1="131.0" y1="186.0" x2="139.9" y2="186.9" stroke="#9a9a9a" stroke-width="3.3" stroke-linecap="round"/><line x1="239.3" y1="119.5" x2="241.2" y2="127.1" stroke="#111" stroke-width="2.5" stroke-linecap="round"/><line x1="165.8" y1="164.2" x2="164.0" y2="167.2" stroke="#9a9a9a" stroke-width="2.4" stroke-linecap="round"/><line x1="309.4" y1="109.8" x2="312.2" y2="111.4" stroke="#111" stroke-width="2.3" stroke-linecap="round"/><line x1="209.9" y1="130.0" x2="218.3" y2="130.2" stroke="#666" stroke-width="3.3" stroke-linecap="round"/><line x1="218.5" y1="170.2" x2="219.8" y2="176.1" stroke="#111" stroke-width="2.7" stroke-linecap="round"/><line x1="302.3" y1="147.1" x2="303.4" y2="150.0" stroke="#666" stroke-width="2.4" stroke-linecap="round"/><line x1="250.9" y1="156.1" x2="246.5" y2="158.4" stroke="#111" stroke-width="2.5" stroke-linecap="round"/><line x1="172.4" y1="154.2" x2="172.1" y2="163.0" stroke="#666" stroke-width="2.9" stroke-linecap="round"/><line x1="153.8" y1="187.9" x2="156.9" y2="193.6" stroke="#d8d8d8" stroke-width="2.7" stroke-linecap="round"/><line x1="246.8" y1="126.5" x2="250.9" y2="127.2" stroke="#777" stroke-width="2.7" stroke-linecap="round"/><line x1="137.6" y1="193.4" x2="144.9" y2="198.6" stroke="#111" stroke-width="3.4" stroke-linecap="round"/><line x1="243.6" y1="150.8" x2="252.0" y2="151.3" stroke="#0c0c0c" stroke-width="3.2" stroke-linecap="round"/><line x1="291.3" y1="152.1" x2="294.9" y2="152.8" stroke="#9a9a9a" stroke-width="2.6" stroke-linecap="round"/><line x1="181.0" y1="161.3" x2="178.8" y2="170.4" stroke="#0c0c0c" stroke-width="3.2" stroke-linecap="round"/><line x1="202.4" y1="198.0" x2="196.2" y2="205.3" stroke="#9a9a9a" stroke-width="3.3" stroke-linecap="round"/><line x1="249.2" y1="134.3" x2="252.8" y2="137.7" stroke="#d8d8d8" stroke-width="2.4" stroke-linecap="round"/><line x1="197.0" y1="194.6" x2="206.0" y2="197.9" stroke="#777" stroke-width="3.4" stroke-linecap="round"/><line x1="179.3" y1="167.6" x2="180.5" y2="171.4" stroke="#9a9a9a" stroke-width="3.0" stroke-linecap="round"/><line x1="188.4" y1="139.5" x2="188.0" y2="149.1" stroke="#9a9a9a" stroke-width="2.3" stroke-linecap="round"/><line x1="292.6" y1="146.4" x2="293.8" y2="153.2" stroke="#111" stroke-width="3.6" stroke-linecap="round"/><line x1="227.3" y1="176.3" x2="233.7" y2="177.7" stroke="#111" stroke-width="2.5" stroke-linecap="round"/><line x1="156.2" y1="195.7" x2="158.1" y2="204.8" stroke="#0c0c0c" stroke-width="2.3" stroke-linecap="round"/><line x1="267.4" y1="160.5" x2="270.7" y2="167.5" stroke="#111" stroke-width="3.2" stroke-linecap="round"/><line x1="296.7" y1="144.9" x2="296.0" y2="148.4" stroke="#666" stroke-width="2.6" stroke-linecap="round"/><line x1="157.1" y1="201.9" x2="153.9" y2="204.5" stroke="#0c0c0c" stroke-width="2.5" stroke-linecap="round"/><line x1="271.0" y1="167.7" x2="272.7" y2="172.8" stroke="#0c0c0c" stroke-width="3.2" stroke-linecap="round"/><line x1="281.5" y1="145.1" x2="276.6" y2="148.8" stroke="#777" stroke-width="2.6" stroke-linecap="round"/><line x1="302.4" y1="144.7" x2="301.9" y2="149.2" stroke="#666" stroke-width="2.6" stroke-linecap="round"/><line x1="239.2" y1="132.8" x2="234.1" y2="136.4" stroke="#d8d8d8" stroke-width="3.0" stroke-linecap="round"/><line x1="168.8" y1="173.3" x2="166.1" y2="176.2" stroke="#d8d8d8" stroke-width="3.0" stroke-linecap="round"/><line x1="228.2" y1="165.6" x2="225.1" y2="167.7" stroke="#0c0c0c" stroke-width="3.2" stroke-linecap="round"/><line x1="163.0" y1="156.0" x2="160.4" y2="161.0" stroke="#111" stroke-width="2.2" stroke-linecap="round"/><line x1="191.4" y1="168.9" x2="190.1" y2="172.8" stroke="#666" stroke-width="2.3" stroke-linecap="round"/><line x1="198.1" y1="165.7" x2="202.2" y2="166.8" stroke="#0c0c0c" stroke-width="3.1" stroke-linecap="round"/><line x1="260.9" y1="144.5" x2="256.8" y2="147.8" stroke="#111" stroke-width="2.5" stroke-linecap="round"/><line x1="170.0" y1="203.4" x2="173.1" y2="204.6" stroke="#d8d8d8" stroke-width="2.2" stroke-linecap="round"/><line x1="240.7" y1="182.1" x2="234.9" y2="183.0" stroke="#777" stroke-width="3.3" stroke-linecap="round"/><line x1="240.0" y1="158.2" x2="236.9" y2="161.9" stroke="#111" stroke-width="3.5" stroke-linecap="round"/><line x1="235.7" y1="180.0" x2="234.8" y2="187.8" stroke="#9a9a9a" stroke-width="2.8" stroke-linecap="round"/><line x1="252.8" y1="140.0" x2="258.3" y2="140.4" stroke="#777" stroke-width="2.7" stroke-linecap="round"/><line x1="185.4" y1="180.2" x2="192.7" y2="184.6" stroke="#111" stroke-width="3.6" stroke-linecap="round"/><line x1="146.9" y1="185.5" x2="148.3" y2="189.7" stroke="#9a9a9a" stroke-width="2.8" stroke-linecap="round"/><line x1="142.8" y1="173.1" x2="136.1" y2="178.1" stroke="#666" stroke-width="2.6" stroke-linecap="round"/><line x1="241.4" y1="140.0" x2="244.1" y2="144.0" stroke="#0c0c0c" stroke-width="2.9" stroke-linecap="round"/><line x1="162.2" y1="160.3" x2="167.8" y2="161.6" stroke="#111" stroke-width="3.3" stroke-linecap="round"/><line x1="207.1" y1="192.5" x2="198.7" y2="194.7" stroke="#777" stroke-width="2.9" stroke-linecap="round"/><line x1="298.1" y1="125.4" x2="300.9" y2="126.8" stroke="#111" stroke-width="2.3" stroke-linecap="round"/><line x1="131.8" y1="193.6" x2="137.0" y2="197.9" stroke="#666" stroke-width="2.5" stroke-linecap="round"/><line x1="193.0" y1="163.5" x2="191.0" y2="167.0" stroke="#9a9a9a" stroke-width="3.3" stroke-linecap="round"/><line x1="250.8" y1="158.9" x2="247.3" y2="160.4" stroke="#9a9a9a" stroke-width="2.6" stroke-linecap="round"/><line x1="145.4" y1="174.4" x2="142.3" y2="177.8" stroke="#111" stroke-width="2.7" stroke-linecap="round"/><line x1="260.9" y1="154.1" x2="266.1" y2="158.5" stroke="#666" stroke-width="2.5" stroke-linecap="round"/><line x1="150.9" y1="169.3" x2="141.4" y2="171.4" stroke="#9a9a9a" stroke-width="3.5" stroke-linecap="round"/><line x1="248.1" y1="170.2" x2="252.8" y2="172.0" stroke="#d8d8d8" stroke-width="3.3" stroke-linecap="round"/><line x1="266.7" y1="159.4" x2="267.4" y2="165.7" stroke="#0c0c0c" stroke-width="3.1" stroke-linecap="round"/><line x1="280.3" y1="152.4" x2="283.2" y2="155.5" stroke="#111" stroke-width="2.4" stroke-linecap="round"/><line x1="138.2" y1="194.3" x2="137.4" y2="198.9" stroke="#0c0c0c" stroke-width="2.7" stroke-linecap="round"/><line x1="311.0" y1="123.1" x2="313.5" y2="128.2" stroke="#0c0c0c" stroke-width="3.4" stroke-linecap="round"/><line x1="232.4" y1="179.1" x2="236.5" y2="183.2" stroke="#9a9a9a" stroke-width="2.3" stroke-linecap="round"/><line x1="186.3" y1="178.8" x2="178.2" y2="182.6" stroke="#111" stroke-width="3.3" stroke-linecap="round"/><line x1="294.2" y1="143.8" x2="299.0" y2="152.3" stroke="#111" stroke-width="2.6" stroke-linecap="round"/><line x1="146.3" y1="204.7" x2="138.5" y2="210.6" stroke="#777" stroke-width="3.0" stroke-linecap="round"/><line x1="167.4" y1="201.0" x2="170.6" y2="202.8" stroke="#9a9a9a" stroke-width="3.3" stroke-linecap="round"/><line x1="170.6" y1="173.6" x2="171.9" y2="177.0" stroke="#666" stroke-width="2.9" stroke-linecap="round"/><line x1="235.2" y1="171.5" x2="236.8" y2="174.8" stroke="#777" stroke-width="2.4" stroke-linecap="round"/><line x1="179.2" y1="159.6" x2="175.4" y2="160.9" stroke="#0c0c0c" stroke-width="3.2" stroke-linecap="round"/><line x1="243.0" y1="182.7" x2="240.9" y2="189.6" stroke="#777" stroke-width="2.8" stroke-linecap="round"/><line x1="173.1" y1="175.7" x2="179.1" y2="178.2" stroke="#777" stroke-width="3.5" stroke-linecap="round"/><line x1="265.7" y1="144.8" x2="271.3" y2="145.1" stroke="#666" stroke-width="2.7" stroke-linecap="round"/><line x1="282.3" y1="158.0" x2="282.7" y2="167.3" stroke="#111" stroke-width="3.3" stroke-linecap="round"/><line x1="187.2" y1="152.0" x2="181.6" y2="152.2" stroke="#111" stroke-width="2.5" stroke-linecap="round"/><line x1="217.4" y1="128.3" x2="220.8" y2="129.2" stroke="#666" stroke-width="2.8" stroke-linecap="round"/><line x1="247.9" y1="164.0" x2="246.2" y2="171.6" stroke="#9a9a9a" stroke-width="2.9" stroke-linecap="round"/><line x1="231.1" y1="127.8" x2="237.9" y2="128.6" stroke="#777" stroke-width="2.7" stroke-linecap="round"/><line x1="278.2" y1="113.9" x2="277.3" y2="120.5" stroke="#666" stroke-width="3.2" stroke-linecap="round"/><line x1="175.9" y1="160.3" x2="181.2" y2="161.2" stroke="#777" stroke-width="2.7" stroke-linecap="round"/><line x1="167.0" y1="170.1" x2="170.8" y2="174.5" stroke="#111" stroke-width="3.5" stroke-linecap="round"/><line x1="130.9" y1="179.8" x2="134.0" y2="181.5" stroke="#0c0c0c" stroke-width="3.1" stroke-linecap="round"/><line x1="149.5" y1="180.3" x2="144.8" y2="185.1" stroke="#0c0c0c" stroke-width="2.9" stroke-linecap="round"/><line x1="233.9" y1="127.0" x2="233.0" y2="136.6" stroke="#9a9a9a" stroke-width="2.6" stroke-linecap="round"/><line x1="131.6" y1="199.4" x2="125.0" y2="206.3" stroke="#0c0c0c" stroke-width="2.5" stroke-linecap="round"/><line x1="195.4" y1="195.8" x2="189.5" y2="196.0" stroke="#0c0c0c" stroke-width="2.6" stroke-linecap="round"/><line x1="186.3" y1="177.0" x2="184.1" y2="179.6" stroke="#111" stroke-width="3.1" stroke-linecap="round"/><line x1="197.6" y1="160.6" x2="196.8" y2="164.2" stroke="#777" stroke-width="3.2" stroke-linecap="round"/><line x1="277.7" y1="144.6" x2="277.4" y2="149.7" stroke="#666" stroke-width="3.1" stroke-linecap="round"/><line x1="258.6" y1="161.9" x2="251.0" y2="164.0" stroke="#0c0c0c" stroke-width="2.5" stroke-linecap="round"/><line x1="208.9" y1="131.5" x2="218.3" y2="134.8" stroke="#777" stroke-width="3.4" stroke-linecap="round"/><line x1="272.0" y1="164.7" x2="276.8" y2="166.7" stroke="#777" stroke-width="3.5" stroke-linecap="round"/><line x1="205.7" y1="166.8" x2="208.4" y2="170.7" stroke="#0c0c0c" stroke-width="3.3" stroke-linecap="round"/><line x1="158.2" y1="182.2" x2="155.9" y2="185.3" stroke="#777" stroke-width="2.5" stroke-linecap="round"/><line x1="230.0" y1="174.6" x2="222.9" y2="176.1" stroke="#111" stroke-width="2.8" stroke-linecap="round"/><line x1="148.3" y1="200.4" x2="149.3" y2="205.5" stroke="#777" stroke-width="2.4" stroke-linecap="round"/><line x1="290.4" y1="125.1" x2="295.7" y2="129.2" stroke="#111" stroke-width="2.8" stroke-linecap="round"/><line x1="183.3" y1="174.3" x2="174.6" y2="177.6" stroke="#777" stroke-width="2.5" stroke-linecap="round"/><line x1="284.0" y1="120.7" x2="281.3" y2="123.9" stroke="#9a9a9a" stroke-width="2.3" stroke-linecap="round"/><line x1="203.4" y1="175.2" x2="202.8" y2="181.7" stroke="#d8d8d8" stroke-width="2.7" stroke-linecap="round"/><line x1="128.5" y1="190.8" x2="131.9" y2="198.3" stroke="#777" stroke-width="2.6" stroke-linecap="round"/><line x1="207.3" y1="164.0" x2="199.3" y2="168.3" stroke="#9a9a9a" stroke-width="3.5" stroke-linecap="round"/><line x1="182.8" y1="192.0" x2="186.3" y2="197.5" stroke="#111" stroke-width="3.1" stroke-linecap="round"/><line x1="265.9" y1="167.1" x2="256.0" y2="167.3" stroke="#d8d8d8" stroke-width="2.8" stroke-linecap="round"/><line x1="215.5" y1="138.9" x2="208.9" y2="145.0" stroke="#777" stroke-width="2.9" stroke-linecap="round"/><line x1="153.4" y1="189.7" x2="157.5" y2="189.9" stroke="#111" stroke-width="2.2" stroke-linecap="round"/><line x1="254.7" y1="113.4" x2="248.0" y2="118.0" stroke="#9a9a9a" stroke-width="3.4" stroke-linecap="round"/><line x1="280.4" y1="158.8" x2="277.1" y2="161.2" stroke="#d8d8d8" stroke-width="2.6" stroke-linecap="round"/><line x1="194.4" y1="139.0" x2="187.6" y2="142.2" stroke="#9a9a9a" stroke-width="3.1" stroke-linecap="round"/><line x1="267.5" y1="127.0" x2="273.5" y2="129.0" stroke="#0c0c0c" stroke-width="3.3" stroke-linecap="round"/><line x1="218.7" y1="125.0" x2="218.8" y2="132.8" stroke="#9a9a9a" stroke-width="2.2" stroke-linecap="round"/><line x1="185.4" y1="192.6" x2="188.7" y2="199.6" stroke="#0c0c0c" stroke-width="3.2" stroke-linecap="round"/><line x1="192.1" y1="195.2" x2="188.2" y2="200.1" stroke="#d8d8d8" stroke-width="3.6" stroke-linecap="round"/><line x1="266.9" y1="147.3" x2="261.7" y2="148.9" stroke="#666" stroke-width="2.3" stroke-linecap="round"/><line x1="288.2" y1="117.9" x2="278.8" y2="120.9" stroke="#9a9a9a" stroke-width="3.5" stroke-linecap="round"/><line x1="302.5" y1="134.8" x2="302.3" y2="141.5" stroke="#111" stroke-width="3.2" stroke-linecap="round"/><line x1="166.5" y1="172.1" x2="168.1" y2="174.8" stroke="#9a9a9a" stroke-width="2.4" stroke-linecap="round"/><line x1="160.9" y1="175.1" x2="166.0" y2="175.2" stroke="#d8d8d8" stroke-width="2.9" stroke-linecap="round"/><line x1="190.7" y1="144.3" x2="188.6" y2="147.8" stroke="#111" stroke-width="2.2" stroke-linecap="round"/><line x1="173.3" y1="168.2" x2="179.8" y2="173.4" stroke="#d8d8d8" stroke-width="3.3" stroke-linecap="round"/><line x1="193.8" y1="179.3" x2="185.4" y2="180.9" stroke="#9a9a9a" stroke-width="2.4" stroke-linecap="round"/><line x1="145.0" y1="202.6" x2="138.7" y2="204.8" stroke="#111" stroke-width="3.0" stroke-linecap="round"/><line x1="193.3" y1="177.4" x2="192.4" y2="181.3" stroke="#0c0c0c" stroke-width="3.3" stroke-linecap="round"/><line x1="236.8" y1="177.7" x2="240.1" y2="178.0" stroke="#111" stroke-width="2.9" stroke-linecap="round"/><line x1="263.4" y1="155.0" x2="263.1" y2="158.0" stroke="#9a9a9a" stroke-width="2.3" stroke-linecap="round"/><line x1="282.3" y1="138.1" x2="281.9" y2="142.1" stroke="#111" stroke-width="2.9" stroke-linecap="round"/><line x1="167.2" y1="158.9" x2="173.7" y2="162.5" stroke="#111" stroke-width="3.2" stroke-linecap="round"/><line x1="268.5" y1="115.0" x2="271.8" y2="116.2" stroke="#111" stroke-width="2.2" stroke-linecap="round"/><line x1="264.5" y1="144.8" x2="269.9" y2="152.9" stroke="#777" stroke-width="3.6" stroke-linecap="round"/><line x1="213.5" y1="131.8" x2="209.0" y2="134.8" stroke="#d8d8d8" stroke-width="3.0" stroke-linecap="round"/><line x1="170.5" y1="172.9" x2="176.6" y2="173.8" stroke="#666" stroke-width="2.4" stroke-linecap="round"/><line x1="202.9" y1="152.0" x2="208.3" y2="156.3" stroke="#777" stroke-width="3.1" stroke-linecap="round"/><line x1="273.3" y1="129.0" x2="280.1" y2="130.4" stroke="#666" stroke-width="2.2" stroke-linecap="round"/><line x1="288.0" y1="157.2" x2="286.2" y2="163.2" stroke="#777" stroke-width="3.5" stroke-linecap="round"/><polyline points="199.5,57.8 230.6,71.4" fill="none" stroke="#f0f0f0" stroke-width="3.6" stroke-linecap="round"/><polyline points="327.8,64.6 355.0,51.9" fill="none" stroke="#f0f0f0" stroke-width="3.6" stroke-linecap="round"/><polyline points="479.4,81.1 510.5,64.6" fill="none" stroke="#ededed" stroke-width="3.6" stroke-linecap="round"/><polyline points="301.5,152.0 374.4,120.0" fill="none" stroke="#e6e6e6" stroke-width="3.6" stroke-linecap="round"/><polyline points="112.0,195.8 139.2,186.1" fill="none" stroke="#e0e0e0" stroke-width="3.4" stroke-linecap="round"/><polyline points="233.5,74.3 325.8,98.6 432.8,90.8" fill="none" stroke="#9a9a9a" stroke-width="2.6" stroke-linecap="round" stroke-dasharray="16 10"/><circle cx="374.4" cy="81.1" r="11" fill="#0e0e0e"/><polyline points="189.8,195.8 175.2,293.0 168.4,385.3" fill="none" stroke="#5e5e5e" stroke-width="3.2" stroke-linecap="round"/><polyline points="141.2,224.9 126.6,302.7 107.1,385.3" fill="none" stroke="#4c4c4c" stroke-width="3" stroke-linecap="round" stroke-dasharray="22 8"/><polyline points="209.2,220.1 194.6,273.5 187.8,322.1" fill="none" stroke="#6a6a6a" stroke-width="3" stroke-linecap="round"/><polyline points="126.6,261.9 97.4,278.4 71.2,293.0" fill="none" stroke="#6a6a6a" stroke-width="3" stroke-linecap="round" stroke-dasharray="16 8"/><polyline points="165.5,210.4 150.9,254.1 148.9,293.0" fill="none" stroke="#8a8a8a" stroke-width="2.6" stroke-linecap="round" stroke-dasharray="8 8"/></g></g>
<polygon points="33,881 658.5,881 658.5,871.3 678,891 658.5,910.7 658.5,901.2 33,901.2" fill="url(#gArrow)"/>
<text x="85.2" y="897.6" font-size="16.8" text-anchor="middle" fill="#111111" >Slow</text>
<text x="576" y="897.6" font-size="16.8" text-anchor="middle" fill="#111111" >Fast</text></g>
</svg>
</body></html>
